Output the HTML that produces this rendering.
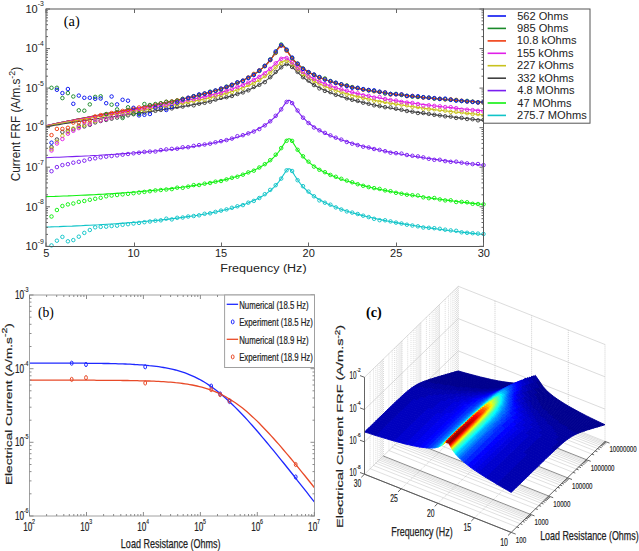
<!DOCTYPE html>
<html><head><meta charset="utf-8"><style>
html,body{margin:0;padding:0;background:#fff;overflow:hidden}
svg{display:block}
</style></head><body>
<svg width="639" height="551" viewBox="0 0 639 551">
<rect width="639" height="551" fill="#fff"/>
<g><polyline points="46 125.9 50.4 124.9 54.8 123.9 59.1 122.9 63.5 122 67.9 121.1 72.2 120.2 76.6 119.4 81 118.5 85.4 117.7 89.8 116.9 94.1 116 98.5 115.2 102.9 114.4 107.2 113.6 111.6 112.8 116 112 120.4 111.2 124.8 110.4 129.1 109.6 133.5 108.8 137.9 108 142.2 107.2 146.6 106.3 151 105.5 155.4 104.6 159.8 103.8 164.1 102.9 168.5 102 172.9 101.1 177.2 100.2 181.6 99.2 186 98.2 190.4 97.2 194.8 96.1 199.1 95 203.5 93.9 207.9 92.7 212.2 91.5 216.6 90.2 221 88.8 225.4 87.4 229.8 85.8 234.1 84.1 238.5 82.3 240.3 81.6 242 80.8 243.8 79.9 245.5 79.1 247.2 78.2 249 77.2 250.8 76.3 252.5 75.2 254.2 74.1 256 73 257.8 71.8 259.5 70.5 261.2 69.1 263 67.6 264.8 66 265.4 65.3 266.1 64.6 266.9 63.9 267.6 63.1 268.2 62.3 268.9 61.5 269.7 60.7 270.4 59.8 271.1 58.9 271.8 57.9 272.5 57 273.1 55.9 273.9 54.9 274.5 53.8 275.2 52.7 275.9 51.6 276.6 50.4 277.3 49.3 278.1 48.2 278.8 47.2 279.4 46.3 280.1 45.5 280.9 45 281.6 44.8 282.2 44.9 282.9 45.2 283.6 45.8 284.4 46.6 285.1 47.6 285.8 48.6 286.4 49.7 287.2 50.8 287.9 51.9 288.6 52.9 289.2 54 290 55 290.6 56 291.4 56.9 292 57.9 292.8 58.7 293.4 59.6 294.1 60.4 294.8 61.2 295.6 61.9 296.2 62.6 296.9 63.3 297.6 64 298.4 64.6 299.1 65.2 299.8 65.8 300.4 66.4 301.1 67 301.9 67.5 302.6 68.1 303.2 68.6 303.9 69.1 304.7 69.6 305.4 70 306.1 70.5 306.7 70.9 307.5 71.4 308.1 71.8 308.5 72 310.3 73 312 73.9 313.8 74.8 315.5 75.6 317.2 76.4 319 77.2 320.8 77.9 322.5 78.6 324.2 79.3 326 79.9 327.8 80.5 329.5 81.1 331.2 81.7 333 82.2 334.8 82.7 336.5 83.2 338.2 83.7 340 84.2 341.7 84.6 343.5 85.1 347.9 86.1 352.2 87.1 356.6 88 361 88.9 365.4 89.7 369.8 90.5 374.1 91.2 378.5 91.9 382.9 92.5 387.2 93.2 391.6 93.7 396 94.3 400.4 94.9 404.8 95.4 409.1 95.9 413.5 96.4 417.9 96.8 422.2 97.3 426.6 97.7 431 98.1 435.4 98.5 439.8 98.9 444.1 99.3 448.5 99.7 452.9 100 457.2 100.4 461.6 100.7 466 101.1 470.4 101.4 474.8 101.7 479.1 102 483.5 102.3" fill="none" stroke="#0a14f0" stroke-width="1.1"/><polyline points="46 125.9 50.4 124.9 54.8 123.9 59.1 122.9 63.5 122 67.9 121.1 72.2 120.2 76.6 119.4 81 118.5 85.4 117.7 89.8 116.9 94.1 116 98.5 115.2 102.9 114.4 107.2 113.6 111.6 112.8 116 112 120.4 111.2 124.8 110.4 129.1 109.6 133.5 108.8 137.9 108 142.2 107.2 146.6 106.3 151 105.5 155.4 104.6 159.8 103.8 164.1 102.9 168.5 102 172.9 101.1 177.2 100.2 181.6 99.2 186 98.2 190.4 97.2 194.8 96.1 199.1 95 203.5 93.9 207.9 92.7 212.2 91.5 216.6 90.2 221 88.8 225.4 87.4 229.8 85.8 234.1 84.1 238.5 82.3 240.3 81.6 242 80.8 243.8 79.9 245.5 79.1 247.2 78.2 249 77.2 250.8 76.3 252.5 75.2 254.2 74.1 256 73 257.8 71.8 259.5 70.5 261.2 69.1 263 67.6 264.8 66 265.4 65.3 266.1 64.6 266.9 63.9 267.6 63.1 268.2 62.3 268.9 61.5 269.7 60.7 270.4 59.8 271.1 58.9 271.8 58 272.5 57 273.1 56 273.9 54.9 274.5 53.8 275.2 52.7 275.9 51.6 276.6 50.4 277.3 49.3 278.1 48.2 278.8 47.2 279.4 46.3 280.1 45.6 280.9 45.1 281.6 44.9 282.2 44.9 282.9 45.3 283.6 45.9 284.4 46.7 285.1 47.6 285.8 48.6 286.4 49.7 287.2 50.8 287.9 51.9 288.6 53 289.2 54 290 55 290.6 56 291.4 57 292 57.9 292.8 58.7 293.4 59.6 294.1 60.4 294.8 61.2 295.6 61.9 296.2 62.6 296.9 63.3 297.6 64 298.4 64.6 299.1 65.3 299.8 65.9 300.4 66.4 301.1 67 301.9 67.5 302.6 68.1 303.2 68.6 303.9 69.1 304.7 69.6 305.4 70 306.1 70.5 306.7 70.9 307.5 71.4 308.1 71.8 308.5 72 310.3 73 312 73.9 313.8 74.8 315.5 75.6 317.2 76.4 319 77.2 320.8 77.9 322.5 78.6 324.2 79.3 326 79.9 327.8 80.5 329.5 81.1 331.2 81.7 333 82.2 334.8 82.7 336.5 83.2 338.2 83.7 340 84.2 341.7 84.6 343.5 85.1 347.9 86.1 352.2 87.1 356.6 88 361 88.9 365.4 89.7 369.8 90.5 374.1 91.2 378.5 91.9 382.9 92.5 387.2 93.2 391.6 93.7 396 94.3 400.4 94.9 404.8 95.4 409.1 95.9 413.5 96.4 417.9 96.8 422.2 97.3 426.6 97.7 431 98.1 435.4 98.5 439.8 98.9 444.1 99.3 448.5 99.7 452.9 100 457.2 100.4 461.6 100.7 466 101.1 470.4 101.4 474.8 101.7 479.1 102 483.5 102.3" fill="none" stroke="#1a8a2a" stroke-width="1.1"/><polyline points="46 125.9 50.4 124.9 54.8 123.9 59.1 122.9 63.5 122 67.9 121.1 72.2 120.2 76.6 119.4 81 118.5 85.4 117.7 89.8 116.9 94.1 116 98.5 115.2 102.9 114.4 107.2 113.6 111.6 112.8 116 112 120.4 111.2 124.8 110.4 129.1 109.6 133.5 108.8 137.9 108 142.2 107.2 146.6 106.3 151 105.5 155.4 104.7 159.8 103.8 164.1 102.9 168.5 102 172.9 101.1 177.2 100.2 181.6 99.2 186 98.2 190.4 97.2 194.8 96.1 199.1 95.1 203.5 93.9 207.9 92.7 212.2 91.5 216.6 90.2 221 88.8 225.4 87.4 229.8 85.8 234.1 84.2 238.5 82.4 240.3 81.6 242 80.8 243.8 80 245.5 79.1 247.2 78.2 249 77.3 250.8 76.3 252.5 75.3 254.2 74.2 256 73.1 257.8 71.8 259.5 70.6 261.2 69.2 263 67.7 264.8 66.1 265.4 65.4 266.1 64.7 266.9 64 267.6 63.3 268.2 62.5 268.9 61.7 269.7 60.9 270.4 60 271.1 59.2 271.8 58.2 272.5 57.3 273.1 56.3 273.9 55.3 274.5 54.3 275.2 53.2 275.9 52.1 276.6 51.1 277.3 50 278.1 49 278.8 48.1 279.4 47.2 280.1 46.6 280.9 46.1 281.6 45.9 282.2 46 282.9 46.3 283.6 46.8 284.4 47.5 285.1 48.4 285.8 49.3 286.4 50.3 287.2 51.3 287.9 52.4 288.6 53.4 289.2 54.4 290 55.4 290.6 56.3 291.4 57.2 292 58.1 292.8 59 293.4 59.8 294.1 60.6 294.8 61.3 295.6 62.1 296.2 62.8 296.9 63.5 297.6 64.1 298.4 64.7 299.1 65.4 299.8 66 300.4 66.5 301.1 67.1 301.9 67.6 302.6 68.1 303.2 68.7 303.9 69.2 304.7 69.6 305.4 70.1 306.1 70.5 306.7 71 307.5 71.4 308.1 71.8 308.5 72 310.3 73 312 74 313.8 74.9 315.5 75.7 317.2 76.5 319 77.2 320.8 78 322.5 78.6 324.2 79.3 326 79.9 327.8 80.5 329.5 81.1 331.2 81.7 333 82.2 334.8 82.8 336.5 83.3 338.2 83.7 340 84.2 341.7 84.7 343.5 85.1 347.9 86.2 352.2 87.1 356.6 88.1 361 88.9 365.4 89.7 369.8 90.5 374.1 91.2 378.5 91.9 382.9 92.6 387.2 93.2 391.6 93.8 396 94.4 400.4 94.9 404.8 95.4 409.1 95.9 413.5 96.4 417.9 96.9 422.2 97.3 426.6 97.8 431 98.2 435.4 98.6 439.8 99 444.1 99.4 448.5 99.7 452.9 100.1 457.2 100.4 461.6 100.8 466 101.1 470.4 101.4 474.8 101.7 479.1 102 483.5 102.3" fill="none" stroke="#f03c10" stroke-width="1.1"/><polyline points="46 125.8 50.4 124.9 54.8 124 59.1 123.1 63.5 122.2 67.9 121.4 72.2 120.6 76.6 119.8 81 119 85.4 118.2 89.8 117.4 94.1 116.7 98.5 115.9 102.9 115.2 107.2 114.5 111.6 113.8 116 113 120.4 112.3 124.8 111.6 129.1 110.9 133.5 110.2 137.9 109.4 142.2 108.7 146.6 108 151 107.2 155.4 106.4 159.8 105.7 164.1 104.9 168.5 104.1 172.9 103.3 177.2 102.5 181.6 101.6 186 100.7 190.4 99.8 194.8 98.9 199.1 97.9 203.5 96.9 207.9 95.9 212.2 94.8 216.6 93.6 221 92.4 225.4 91.1 229.8 89.7 234.1 88.2 238.5 86.6 240.3 86 242 85.3 243.8 84.5 245.5 83.8 247.2 83 249 82.2 250.8 81.3 252.5 80.5 254.2 79.5 256 78.6 257.8 77.6 259.5 76.5 261.2 75.4 263 74.2 264.8 72.9 265.4 72.4 266.1 71.8 266.9 71.3 267.6 70.7 268.2 70.2 268.9 69.6 269.7 69 270.4 68.4 271.1 67.7 271.8 67.1 272.5 66.4 273.1 65.8 273.9 65.1 274.5 64.4 275.2 63.8 275.9 63.1 276.6 62.4 277.3 61.7 278.1 61.1 278.8 60.5 279.4 59.9 280.1 59.3 280.9 58.8 281.6 58.4 282.2 58.1 282.9 57.8 283.6 57.7 284.4 57.7 285.1 57.7 285.8 57.9 286.4 58.1 287.2 58.5 287.9 58.9 288.6 59.4 289.2 60 290 60.6 290.6 61.2 291.4 61.8 292 62.5 292.8 63.1 293.4 63.8 294.1 64.5 294.8 65.1 295.6 65.8 296.2 66.4 296.9 67.1 297.6 67.7 298.4 68.3 299.1 68.9 299.8 69.5 300.4 70 301.1 70.6 301.9 71.1 302.6 71.7 303.2 72.2 303.9 72.7 304.7 73.2 305.4 73.7 306.1 74.2 306.7 74.6 307.5 75.1 308.1 75.5 308.5 75.7 310.3 76.8 312 77.8 313.8 78.7 315.5 79.6 317.2 80.5 319 81.3 320.8 82.1 322.5 82.8 324.2 83.6 326 84.3 327.8 84.9 329.5 85.6 331.2 86.2 333 86.8 334.8 87.4 336.5 87.9 338.2 88.5 340 89 341.7 89.5 343.5 90 347.9 91.2 352.2 92.3 356.6 93.4 361 94.3 365.4 95.3 369.8 96.2 374.1 97 378.5 97.8 382.9 98.6 387.2 99.3 391.6 100 396 100.7 400.4 101.4 404.8 102 409.1 102.6 413.5 103.2 417.9 103.8 422.2 104.4 426.6 104.9 431 105.5 435.4 106 439.8 106.5 444.1 107 448.5 107.4 452.9 107.9 457.2 108.4 461.6 108.8 466 109.2 470.4 109.7 474.8 110.1 479.1 110.5 483.5 110.9" fill="none" stroke="#e020e8" stroke-width="1.1"/><polyline points="46 126.2 50.4 125.3 54.8 124.4 59.1 123.6 63.5 122.7 67.9 121.9 72.2 121.2 76.6 120.4 81 119.7 85.4 118.9 89.8 118.2 94.1 117.5 98.5 116.8 102.9 116.1 107.2 115.5 111.6 114.8 116 114.1 120.4 113.4 124.8 112.8 129.1 112.1 133.5 111.4 137.9 110.8 142.2 110.1 146.6 109.4 151 108.7 155.4 108 159.8 107.3 164.1 106.6 168.5 105.8 172.9 105.1 177.2 104.3 181.6 103.5 186 102.7 190.4 101.8 194.8 101 199.1 100.1 203.5 99.1 207.9 98.1 212.2 97.1 216.6 96 221 94.9 225.4 93.6 229.8 92.3 234.1 90.9 238.5 89.4 240.3 88.8 242 88.1 243.8 87.5 245.5 86.7 247.2 86 249 85.2 250.8 84.4 252.5 83.6 254.2 82.7 256 81.8 257.8 80.9 259.5 79.9 261.2 78.8 263 77.7 264.8 76.5 265.4 76 266.1 75.5 266.9 75 267.6 74.5 268.2 73.9 268.9 73.4 269.7 72.8 270.4 72.2 271.1 71.7 271.8 71.1 272.5 70.4 273.1 69.8 273.9 69.2 274.5 68.5 275.2 67.9 275.9 67.2 276.6 66.6 277.3 65.9 278.1 65.3 278.8 64.6 279.4 64 280.1 63.4 280.9 62.8 281.6 62.3 282.2 61.8 282.9 61.4 283.6 61.1 284.4 60.9 285.1 60.7 285.8 60.7 286.4 60.8 287.2 60.9 287.9 61.2 288.6 61.5 289.2 61.9 290 62.4 290.6 63 291.4 63.5 292 64.2 292.8 64.8 293.4 65.4 294.1 66.1 294.8 66.8 295.6 67.4 296.2 68.1 296.9 68.7 297.6 69.4 298.4 70 299.1 70.6 299.8 71.2 300.4 71.8 301.1 72.4 301.9 73 302.6 73.5 303.2 74.1 303.9 74.6 304.7 75.2 305.4 75.7 306.1 76.2 306.7 76.6 307.5 77.1 308.1 77.6 308.5 77.8 310.3 78.9 312 80 313.8 81 315.5 81.9 317.2 82.8 319 83.7 320.8 84.5 322.5 85.3 324.2 86.1 326 86.8 327.8 87.5 329.5 88.2 331.2 88.8 333 89.5 334.8 90.1 336.5 90.7 338.2 91.2 340 91.8 341.7 92.3 343.5 92.9 347.9 94.1 352.2 95.3 356.6 96.4 361 97.4 365.4 98.4 369.8 99.3 374.1 100.2 378.5 101.1 382.9 101.9 387.2 102.7 391.6 103.4 396 104.1 400.4 104.8 404.8 105.5 409.1 106.2 413.5 106.8 417.9 107.4 422.2 108 426.6 108.6 431 109.1 435.4 109.7 439.8 110.2 444.1 110.7 448.5 111.2 452.9 111.7 457.2 112.2 461.6 112.7 466 113.1 470.4 113.6 474.8 114 479.1 114.5 483.5 114.9" fill="none" stroke="#c8c21e" stroke-width="1.1"/><polyline points="46 127 50.4 126.1 54.8 125.3 59.1 124.6 63.5 123.8 67.9 123.1 72.2 122.4 76.6 121.7 81 121.1 85.4 120.4 89.8 119.8 94.1 119.2 98.5 118.5 102.9 117.9 107.2 117.3 111.6 116.7 116 116.2 120.4 115.6 124.8 115 129.1 114.4 133.5 113.8 137.9 113.2 142.2 112.6 146.6 112 151 111.4 155.4 110.8 159.8 110.1 164.1 109.5 168.5 108.8 172.9 108.1 177.2 107.4 181.6 106.7 186 106 190.4 105.2 194.8 104.4 199.1 103.6 203.5 102.7 207.9 101.8 212.2 100.8 216.6 99.8 221 98.7 225.4 97.6 229.8 96.4 234.1 95.1 238.5 93.6 240.3 93 242 92.4 243.8 91.8 245.5 91.1 247.2 90.4 249 89.7 250.8 88.9 252.5 88.1 254.2 87.3 256 86.4 257.8 85.5 259.5 84.6 261.2 83.6 263 82.5 264.8 81.4 265.4 80.9 266.1 80.4 266.9 79.9 267.6 79.4 268.2 78.9 268.9 78.4 269.7 77.9 270.4 77.3 271.1 76.7 271.8 76.2 272.5 75.6 273.1 74.9 273.9 74.3 274.5 73.7 275.2 73 275.9 72.4 276.6 71.7 277.3 71 278.1 70.4 278.8 69.7 279.4 69 280.1 68.3 280.9 67.7 281.6 67 282.2 66.4 282.9 65.9 283.6 65.4 284.4 65 285.1 64.7 285.8 64.4 286.4 64.3 287.2 64.3 287.9 64.4 288.6 64.6 289.2 64.9 290 65.3 290.6 65.7 291.4 66.3 292 66.8 292.8 67.5 293.4 68.1 294.1 68.8 294.8 69.5 295.6 70.2 296.2 70.9 296.9 71.6 297.6 72.3 298.4 72.9 299.1 73.6 299.8 74.3 300.4 74.9 301.1 75.5 301.9 76.2 302.6 76.8 303.2 77.3 303.9 77.9 304.7 78.5 305.4 79 306.1 79.6 306.7 80.1 307.5 80.6 308.1 81.1 308.5 81.3 310.3 82.5 312 83.7 313.8 84.7 315.5 85.7 317.2 86.7 319 87.6 320.8 88.5 322.5 89.3 324.2 90.1 326 90.9 327.8 91.6 329.5 92.3 331.2 93 333 93.7 334.8 94.3 336.5 94.9 338.2 95.5 340 96.1 341.7 96.7 343.5 97.2 347.9 98.6 352.2 99.8 356.6 100.9 361 102 365.4 103 369.8 104 374.1 105 378.5 105.9 382.9 106.7 387.2 107.5 391.6 108.3 396 109.1 400.4 109.8 404.8 110.5 409.1 111.2 413.5 111.9 417.9 112.5 422.2 113.1 426.6 113.7 431 114.3 435.4 114.9 439.8 115.5 444.1 116 448.5 116.5 452.9 117 457.2 117.6 461.6 118.1 466 118.5 470.4 119 474.8 119.5 479.1 119.9 483.5 120.4" fill="none" stroke="#404040" stroke-width="1.1"/><polyline points="46 157.7 50.4 157.5 54.8 157.3 59.1 157.2 63.5 157 67.9 156.8 72.2 156.6 76.6 156.4 81 156.2 85.4 156 89.8 155.8 94.1 155.5 98.5 155.3 102.9 155 107.2 154.8 111.6 154.5 116 154.2 120.4 153.9 124.8 153.6 129.1 153.3 133.5 153 137.9 152.6 142.2 152.2 146.6 151.9 151 151.5 155.4 151 159.8 150.6 164.1 150.1 168.5 149.7 172.9 149.2 177.2 148.6 181.6 148.1 186 147.5 190.4 146.9 194.8 146.2 199.1 145.5 203.5 144.8 207.9 144 212.2 143.2 216.6 142.3 221 141.4 225.4 140.3 229.8 139.3 234.1 138.1 238.5 136.8 240.3 136.2 242 135.6 243.8 135 245.5 134.4 247.2 133.8 249 133.1 250.8 132.4 252.5 131.7 254.2 130.9 256 130.1 257.8 129.2 259.5 128.3 261.2 127.3 263 126.3 264.8 125.2 265.4 124.7 266.1 124.3 266.9 123.8 267.6 123.3 268.2 122.8 268.9 122.2 269.7 121.7 270.4 121.1 271.1 120.5 271.8 119.9 272.5 119.3 273.1 118.7 273.9 118 274.5 117.3 275.2 116.6 275.9 115.8 276.6 115.1 277.3 114.3 278.1 113.4 278.8 112.6 279.4 111.7 280.1 110.7 280.9 109.8 281.6 108.8 282.2 107.8 282.9 106.7 283.6 105.7 284.4 104.6 285.1 103.6 285.8 102.7 286.4 101.9 287.2 101.2 287.9 100.6 288.6 100.4 289.2 100.3 290 100.6 290.6 101.1 291.4 101.8 292 102.6 292.8 103.6 293.4 104.6 294.1 105.6 294.8 106.7 295.6 107.8 296.2 108.9 296.9 109.9 297.6 110.9 298.4 111.9 299.1 112.8 299.8 113.7 300.4 114.6 301.1 115.4 301.9 116.3 302.6 117 303.2 117.8 303.9 118.5 304.7 119.2 305.4 119.9 306.1 120.6 306.7 121.2 307.5 121.9 308.1 122.5 308.5 122.8 310.3 124.2 312 125.5 313.8 126.7 315.5 127.9 317.2 129 319 130 320.8 131 322.5 131.9 324.2 132.8 326 133.7 327.8 134.5 329.5 135.3 331.2 136 333 136.7 334.8 137.4 336.5 138.1 338.2 138.8 340 139.4 341.7 140 343.5 140.6 347.9 142 352.2 143.3 356.6 144.6 361 145.7 365.4 146.8 369.8 147.9 374.1 148.9 378.5 149.8 382.9 150.7 387.2 151.6 391.6 152.4 396 153.2 400.4 154 404.8 154.8 409.1 155.5 413.5 156.2 417.9 156.9 422.2 157.5 426.6 158.2 431 158.8 435.4 159.4 439.8 160 444.1 160.6 448.5 161.1 452.9 161.7 457.2 162.2 461.6 162.7 466 163.3 470.4 163.8 474.8 164.2 479.1 164.7 483.5 165.2" fill="none" stroke="#7a1ef0" stroke-width="1.1"/><polyline points="46 196.6 50.4 196.5 54.8 196.4 59.1 196.2 63.5 196 67.9 195.9 72.2 195.7 76.6 195.5 81 195.3 85.4 195.1 89.8 194.9 94.1 194.7 98.5 194.4 102.9 194.2 107.2 193.9 111.6 193.7 116 193.4 120.4 193.1 124.8 192.8 129.1 192.5 133.5 192.1 137.9 191.8 142.2 191.4 146.6 191 151 190.6 155.4 190.2 159.8 189.8 164.1 189.3 168.5 188.9 172.9 188.4 177.2 187.8 181.6 187.3 186 186.7 190.4 186.1 194.8 185.4 199.1 184.7 203.5 184 207.9 183.2 212.2 182.4 216.6 181.5 221 180.6 225.4 179.6 229.8 178.5 234.1 177.3 238.5 176 240.3 175.4 242 174.9 243.8 174.3 245.5 173.6 247.2 173 249 172.3 250.8 171.6 252.5 170.9 254.2 170.1 256 169.3 257.8 168.4 259.5 167.5 261.2 166.5 263 165.5 264.8 164.4 265.4 163.9 266.1 163.5 266.9 163 267.6 162.5 268.2 162 268.9 161.4 269.7 160.9 270.4 160.3 271.1 159.7 271.8 159.1 272.5 158.5 273.1 157.8 273.9 157.2 274.5 156.5 275.2 155.7 275.9 155 276.6 154.2 277.3 153.4 278.1 152.5 278.8 151.6 279.4 150.7 280.1 149.8 280.9 148.8 281.6 147.7 282.2 146.7 282.9 145.6 283.6 144.5 284.4 143.4 285.1 142.3 285.8 141.3 286.4 140.4 287.2 139.6 287.9 139.1 288.6 138.7 289.2 138.7 290 139 290.6 139.5 291.4 140.2 292 141.2 292.8 142.2 293.4 143.3 294.1 144.4 294.8 145.5 295.6 146.7 296.2 147.8 296.9 148.8 297.6 149.9 298.4 150.9 299.1 151.9 299.8 152.8 300.4 153.7 301.1 154.5 301.9 155.4 302.6 156.2 303.2 156.9 303.9 157.7 304.7 158.4 305.4 159.1 306.1 159.8 306.7 160.4 307.5 161 308.1 161.6 308.5 161.9 310.3 163.4 312 164.7 313.8 165.9 315.5 167.1 317.2 168.2 319 169.2 320.8 170.2 322.5 171.2 324.2 172.1 326 172.9 327.8 173.7 329.5 174.5 331.2 175.3 333 176 334.8 176.7 336.5 177.4 338.2 178 340 178.7 341.7 179.3 343.5 179.9 347.9 181.3 352.2 182.6 356.6 183.8 361 185 365.4 186.1 369.8 187.2 374.1 188.2 378.5 189.1 382.9 190 387.2 190.9 391.6 191.7 396 192.5 400.4 193.3 404.8 194.1 409.1 194.8 413.5 195.5 417.9 196.2 422.2 196.8 426.6 197.5 431 198.1 435.4 198.7 439.8 199.3 444.1 199.9 448.5 200.4 452.9 201 457.2 201.5 461.6 202.1 466 202.6 470.4 203.1 474.8 203.6 479.1 204 483.5 204.5" fill="none" stroke="#10f010" stroke-width="1.1"/><polyline points="46 227 50.4 226.9 54.8 226.7 59.1 226.6 63.5 226.4 67.9 226.2 72.2 226.1 76.6 225.9 81 225.7 85.4 225.4 89.8 225.2 94.1 225 98.5 224.8 102.9 224.5 107.2 224.3 111.6 224 116 223.7 120.4 223.4 124.8 223.1 129.1 222.8 133.5 222.4 137.9 222.1 142.2 221.7 146.6 221.3 151 220.9 155.4 220.5 159.8 220.1 164.1 219.6 168.5 219.1 172.9 218.6 177.2 218.1 181.6 217.5 186 216.9 190.4 216.3 194.8 215.7 199.1 215 203.5 214.2 207.9 213.5 212.2 212.6 216.6 211.8 221 210.8 225.4 209.8 229.8 208.7 234.1 207.5 238.5 206.2 240.3 205.6 242 205.1 243.8 204.5 245.5 203.9 247.2 203.2 249 202.5 250.8 201.8 252.5 201.1 254.2 200.3 256 199.5 257.8 198.6 259.5 197.7 261.2 196.7 263 195.7 264.8 194.6 265.4 194.1 266.1 193.6 266.9 193.2 267.6 192.6 268.2 192.1 268.9 191.6 269.7 191 270.4 190.5 271.1 189.9 271.8 189.3 272.5 188.7 273.1 188 273.9 187.3 274.5 186.6 275.2 185.9 275.9 185.1 276.6 184.3 277.3 183.5 278.1 182.7 278.8 181.8 279.4 180.9 280.1 179.9 280.9 178.9 281.6 177.9 282.2 176.8 282.9 175.7 283.6 174.6 284.4 173.5 285.1 172.4 285.8 171.4 286.4 170.5 287.2 169.7 287.9 169.1 288.6 168.8 289.2 168.8 290 169.1 290.6 169.6 291.4 170.3 292 171.3 292.8 172.3 293.4 173.4 294.1 174.5 294.8 175.7 295.6 176.8 296.2 177.9 296.9 179 297.6 180 298.4 181 299.1 182 299.8 182.9 300.4 183.8 301.1 184.7 301.9 185.5 302.6 186.3 303.2 187.1 303.9 187.8 304.7 188.5 305.4 189.2 306.1 189.9 306.7 190.5 307.5 191.2 308.1 191.8 308.5 192.1 310.3 193.5 312 194.8 313.8 196.1 315.5 197.2 317.2 198.3 319 199.4 320.8 200.4 322.5 201.3 324.2 202.2 326 203 327.8 203.9 329.5 204.6 331.2 205.4 333 206.1 334.8 206.8 336.5 207.5 338.2 208.1 340 208.8 341.7 209.4 343.5 210 347.9 211.4 352.2 212.7 356.6 213.9 361 215.1 365.4 216.2 369.8 217.2 374.1 218.2 378.5 219.2 382.9 220.1 387.2 221 391.6 221.8 396 222.6 400.4 223.4 404.8 224.1 409.1 224.8 413.5 225.5 417.9 226.2 422.2 226.9 426.6 227.5 431 228.1 435.4 228.7 439.8 229.3 444.1 229.9 448.5 230.5 452.9 231 457.2 231.5 461.6 232.1 466 232.6 470.4 233.1 474.8 233.6 479.1 234 483.5 234.5" fill="none" stroke="#10c4c8" stroke-width="1.1"/><g fill="none" stroke="#10c4c8" stroke-width="0.95"><circle cx="51.5" cy="245.4" r="1.75"/><circle cx="56.9" cy="240.7" r="1.75"/><circle cx="62.4" cy="236.9" r="1.75"/><circle cx="67.9" cy="241.3" r="1.75"/><circle cx="73.3" cy="240.1" r="1.75"/><circle cx="78.8" cy="236.7" r="1.75"/><circle cx="84.3" cy="232.9" r="1.75"/><circle cx="89.8" cy="230" r="1.75"/><circle cx="95.2" cy="227.3" r="1.75"/><circle cx="100.7" cy="226.9" r="1.75"/><circle cx="106.2" cy="226.7" r="1.75"/><circle cx="111.6" cy="226" r="1.75"/><circle cx="117.1" cy="225.7" r="1.75"/><circle cx="122.6" cy="224.8" r="1.75"/><circle cx="128" cy="224.2" r="1.75"/><circle cx="133.5" cy="223.5" r="1.75"/><circle cx="139" cy="222.9" r="1.75"/><circle cx="144.4" cy="222.2" r="1.75"/><circle cx="149.9" cy="221.5" r="1.75"/><circle cx="155.4" cy="220.7" r="1.75"/><circle cx="160.8" cy="220.3" r="1.75"/><circle cx="166.3" cy="218.7" r="1.75"/><circle cx="171.8" cy="219.4" r="1.75"/><circle cx="177.2" cy="217.8" r="1.75"/><circle cx="182.7" cy="217.5" r="1.75"/><circle cx="188.2" cy="216.5" r="1.75"/><circle cx="193.7" cy="216" r="1.75"/><circle cx="199.1" cy="215.3" r="1.75"/><circle cx="204.6" cy="213.8" r="1.75"/><circle cx="210.1" cy="213.3" r="1.75"/><circle cx="215.5" cy="211.9" r="1.75"/><circle cx="221" cy="210.6" r="1.75"/><circle cx="226.5" cy="209.4" r="1.75"/><circle cx="231.9" cy="207.8" r="1.75"/><circle cx="237.4" cy="206.3" r="1.75"/><circle cx="242.9" cy="205.1" r="1.75"/><circle cx="248.3" cy="202.7" r="1.75"/><circle cx="253.8" cy="200.9" r="1.75"/><circle cx="259.3" cy="198" r="1.75"/><circle cx="264.8" cy="194.2" r="1.75"/><circle cx="270.2" cy="189.9" r="1.75"/><circle cx="275.7" cy="185.2" r="1.75"/><circle cx="281.2" cy="178.6" r="1.75"/><circle cx="286.6" cy="170.3" r="1.75"/><circle cx="292.1" cy="171" r="1.75"/><circle cx="297.6" cy="180.2" r="1.75"/><circle cx="303" cy="186.2" r="1.75"/><circle cx="308.5" cy="191.6" r="1.75"/><circle cx="314" cy="196.3" r="1.75"/><circle cx="319.4" cy="200.4" r="1.75"/><circle cx="324.9" cy="202.7" r="1.75"/><circle cx="330.4" cy="204.7" r="1.75"/><circle cx="335.8" cy="207.4" r="1.75"/><circle cx="341.3" cy="209.5" r="1.75"/><circle cx="346.8" cy="211.4" r="1.75"/><circle cx="352.2" cy="212.6" r="1.75"/><circle cx="357.7" cy="214" r="1.75"/><circle cx="363.2" cy="215.7" r="1.75"/><circle cx="368.7" cy="217.1" r="1.75"/><circle cx="374.1" cy="218.8" r="1.75"/><circle cx="379.6" cy="220.2" r="1.75"/><circle cx="385.1" cy="220.3" r="1.75"/><circle cx="390.5" cy="221.4" r="1.75"/><circle cx="396" cy="222.6" r="1.75"/><circle cx="401.5" cy="223.5" r="1.75"/><circle cx="406.9" cy="224.7" r="1.75"/><circle cx="412.4" cy="225.5" r="1.75"/><circle cx="417.9" cy="226.3" r="1.75"/><circle cx="423.3" cy="227.5" r="1.75"/><circle cx="428.8" cy="227.8" r="1.75"/><circle cx="434.3" cy="228.2" r="1.75"/><circle cx="439.8" cy="228.8" r="1.75"/><circle cx="445.2" cy="229.7" r="1.75"/><circle cx="450.7" cy="230.4" r="1.75"/><circle cx="456.2" cy="230.8" r="1.75"/><circle cx="461.6" cy="232.3" r="1.75"/><circle cx="467.1" cy="232.8" r="1.75"/><circle cx="472.6" cy="233.2" r="1.75"/><circle cx="478" cy="233.6" r="1.75"/><circle cx="483.5" cy="234" r="1.75"/></g><g fill="none" stroke="#10f010" stroke-width="0.95"><circle cx="51.5" cy="216.5" r="1.75"/><circle cx="56.9" cy="210" r="1.75"/><circle cx="62.4" cy="206" r="1.75"/><circle cx="67.9" cy="204.4" r="1.75"/><circle cx="73.3" cy="203.5" r="1.75"/><circle cx="78.8" cy="201.9" r="1.75"/><circle cx="84.3" cy="201" r="1.75"/><circle cx="89.8" cy="199.8" r="1.75"/><circle cx="95.2" cy="198.8" r="1.75"/><circle cx="100.7" cy="197.8" r="1.75"/><circle cx="106.2" cy="196.3" r="1.75"/><circle cx="111.6" cy="195.6" r="1.75"/><circle cx="117.1" cy="195" r="1.75"/><circle cx="122.6" cy="194.4" r="1.75"/><circle cx="128" cy="193.8" r="1.75"/><circle cx="133.5" cy="193.2" r="1.75"/><circle cx="139" cy="192.5" r="1.75"/><circle cx="144.4" cy="191.9" r="1.75"/><circle cx="149.9" cy="191.2" r="1.75"/><circle cx="155.4" cy="190.4" r="1.75"/><circle cx="160.8" cy="190" r="1.75"/><circle cx="166.3" cy="189.5" r="1.75"/><circle cx="171.8" cy="189.1" r="1.75"/><circle cx="177.2" cy="187.7" r="1.75"/><circle cx="182.7" cy="187.8" r="1.75"/><circle cx="188.2" cy="186.6" r="1.75"/><circle cx="193.7" cy="185.1" r="1.75"/><circle cx="199.1" cy="185" r="1.75"/><circle cx="204.6" cy="183.7" r="1.75"/><circle cx="210.1" cy="183" r="1.75"/><circle cx="215.5" cy="181.7" r="1.75"/><circle cx="221" cy="181" r="1.75"/><circle cx="226.5" cy="179.4" r="1.75"/><circle cx="231.9" cy="177.8" r="1.75"/><circle cx="237.4" cy="176.7" r="1.75"/><circle cx="242.9" cy="174.7" r="1.75"/><circle cx="248.3" cy="172.4" r="1.75"/><circle cx="253.8" cy="170.7" r="1.75"/><circle cx="259.3" cy="167.5" r="1.75"/><circle cx="264.8" cy="164.2" r="1.75"/><circle cx="270.2" cy="160.2" r="1.75"/><circle cx="275.7" cy="154.7" r="1.75"/><circle cx="281.2" cy="148.1" r="1.75"/><circle cx="286.6" cy="140.8" r="1.75"/><circle cx="292.1" cy="140.9" r="1.75"/><circle cx="297.6" cy="149.8" r="1.75"/><circle cx="303" cy="156.3" r="1.75"/><circle cx="308.5" cy="161.7" r="1.75"/><circle cx="314" cy="166.6" r="1.75"/><circle cx="319.4" cy="169.8" r="1.75"/><circle cx="324.9" cy="172.2" r="1.75"/><circle cx="330.4" cy="174.9" r="1.75"/><circle cx="335.8" cy="176.8" r="1.75"/><circle cx="341.3" cy="178.8" r="1.75"/><circle cx="346.8" cy="180.6" r="1.75"/><circle cx="352.2" cy="182.3" r="1.75"/><circle cx="357.7" cy="184.2" r="1.75"/><circle cx="363.2" cy="185.8" r="1.75"/><circle cx="368.7" cy="187.1" r="1.75"/><circle cx="374.1" cy="188.1" r="1.75"/><circle cx="379.6" cy="188.9" r="1.75"/><circle cx="385.1" cy="190.4" r="1.75"/><circle cx="390.5" cy="191.2" r="1.75"/><circle cx="396" cy="192.8" r="1.75"/><circle cx="401.5" cy="193.7" r="1.75"/><circle cx="406.9" cy="194.7" r="1.75"/><circle cx="412.4" cy="195.2" r="1.75"/><circle cx="417.9" cy="195.5" r="1.75"/><circle cx="423.3" cy="197.3" r="1.75"/><circle cx="428.8" cy="198.2" r="1.75"/><circle cx="434.3" cy="198" r="1.75"/><circle cx="439.8" cy="199.4" r="1.75"/><circle cx="445.2" cy="200.4" r="1.75"/><circle cx="450.7" cy="200.3" r="1.75"/><circle cx="456.2" cy="202" r="1.75"/><circle cx="461.6" cy="201.9" r="1.75"/><circle cx="467.1" cy="202.3" r="1.75"/><circle cx="472.6" cy="203.8" r="1.75"/><circle cx="478" cy="204" r="1.75"/><circle cx="483.5" cy="204.3" r="1.75"/></g><g fill="none" stroke="#7a1ef0" stroke-width="0.95"><circle cx="51.5" cy="171.2" r="1.75"/><circle cx="56.9" cy="167.1" r="1.75"/><circle cx="62.4" cy="165.1" r="1.75"/><circle cx="67.9" cy="164.2" r="1.75"/><circle cx="73.3" cy="162.7" r="1.75"/><circle cx="78.8" cy="161.8" r="1.75"/><circle cx="84.3" cy="160.7" r="1.75"/><circle cx="89.8" cy="159.1" r="1.75"/><circle cx="95.2" cy="158.3" r="1.75"/><circle cx="100.7" cy="157.3" r="1.75"/><circle cx="106.2" cy="156.7" r="1.75"/><circle cx="111.6" cy="156" r="1.75"/><circle cx="117.1" cy="155.4" r="1.75"/><circle cx="122.6" cy="154.7" r="1.75"/><circle cx="128" cy="154" r="1.75"/><circle cx="133.5" cy="153.3" r="1.75"/><circle cx="139" cy="152.7" r="1.75"/><circle cx="144.4" cy="151.9" r="1.75"/><circle cx="149.9" cy="151.6" r="1.75"/><circle cx="155.4" cy="151.5" r="1.75"/><circle cx="160.8" cy="150.1" r="1.75"/><circle cx="166.3" cy="149.4" r="1.75"/><circle cx="171.8" cy="148.9" r="1.75"/><circle cx="177.2" cy="148.7" r="1.75"/><circle cx="182.7" cy="147.3" r="1.75"/><circle cx="188.2" cy="147.2" r="1.75"/><circle cx="193.7" cy="145.9" r="1.75"/><circle cx="199.1" cy="145.1" r="1.75"/><circle cx="204.6" cy="144.5" r="1.75"/><circle cx="210.1" cy="143.7" r="1.75"/><circle cx="215.5" cy="142.3" r="1.75"/><circle cx="221" cy="141.2" r="1.75"/><circle cx="226.5" cy="140.1" r="1.75"/><circle cx="231.9" cy="138.6" r="1.75"/><circle cx="237.4" cy="136.2" r="1.75"/><circle cx="242.9" cy="135.2" r="1.75"/><circle cx="248.3" cy="133.4" r="1.75"/><circle cx="253.8" cy="131.5" r="1.75"/><circle cx="259.3" cy="129.1" r="1.75"/><circle cx="264.8" cy="125.4" r="1.75"/><circle cx="270.2" cy="121.3" r="1.75"/><circle cx="275.7" cy="115.8" r="1.75"/><circle cx="281.2" cy="109.4" r="1.75"/><circle cx="286.6" cy="101.9" r="1.75"/><circle cx="292.1" cy="103.1" r="1.75"/><circle cx="297.6" cy="110.5" r="1.75"/><circle cx="303" cy="117.7" r="1.75"/><circle cx="308.5" cy="123" r="1.75"/><circle cx="314" cy="127.5" r="1.75"/><circle cx="319.4" cy="130.3" r="1.75"/><circle cx="324.9" cy="132.9" r="1.75"/><circle cx="330.4" cy="135.4" r="1.75"/><circle cx="335.8" cy="137.7" r="1.75"/><circle cx="341.3" cy="139.6" r="1.75"/><circle cx="346.8" cy="142" r="1.75"/><circle cx="352.2" cy="143.7" r="1.75"/><circle cx="357.7" cy="145.1" r="1.75"/><circle cx="363.2" cy="146.7" r="1.75"/><circle cx="368.7" cy="147.5" r="1.75"/><circle cx="374.1" cy="149" r="1.75"/><circle cx="379.6" cy="149.9" r="1.75"/><circle cx="385.1" cy="151.2" r="1.75"/><circle cx="390.5" cy="152.7" r="1.75"/><circle cx="396" cy="153.2" r="1.75"/><circle cx="401.5" cy="153.6" r="1.75"/><circle cx="406.9" cy="155" r="1.75"/><circle cx="412.4" cy="155.8" r="1.75"/><circle cx="417.9" cy="156.4" r="1.75"/><circle cx="423.3" cy="157.4" r="1.75"/><circle cx="428.8" cy="158.8" r="1.75"/><circle cx="434.3" cy="159.8" r="1.75"/><circle cx="439.8" cy="159.8" r="1.75"/><circle cx="445.2" cy="161.1" r="1.75"/><circle cx="450.7" cy="161.8" r="1.75"/><circle cx="456.2" cy="161.7" r="1.75"/><circle cx="461.6" cy="162.7" r="1.75"/><circle cx="467.1" cy="163.4" r="1.75"/><circle cx="472.6" cy="164.1" r="1.75"/><circle cx="478" cy="164" r="1.75"/><circle cx="483.5" cy="165.1" r="1.75"/></g><g fill="none" stroke="#404040" stroke-width="0.95"><circle cx="51.5" cy="147.1" r="1.75"/><circle cx="56.9" cy="139.5" r="1.75"/><circle cx="62.4" cy="131.9" r="1.75"/><circle cx="67.9" cy="130.8" r="1.75"/><circle cx="73.3" cy="129.2" r="1.75"/><circle cx="78.8" cy="125.9" r="1.75"/><circle cx="84.3" cy="126.4" r="1.75"/><circle cx="89.8" cy="124.8" r="1.75"/><circle cx="95.2" cy="122.4" r="1.75"/><circle cx="100.7" cy="121" r="1.75"/><circle cx="106.2" cy="119.9" r="1.75"/><circle cx="111.6" cy="118.7" r="1.75"/><circle cx="117.1" cy="117.6" r="1.75"/><circle cx="122.6" cy="116.5" r="1.75"/><circle cx="128" cy="115.3" r="1.75"/><circle cx="133.5" cy="114.2" r="1.75"/><circle cx="139" cy="113.1" r="1.75"/><circle cx="144.4" cy="112.5" r="1.75"/><circle cx="149.9" cy="111.2" r="1.75"/><circle cx="155.4" cy="110.8" r="1.75"/><circle cx="160.8" cy="109.9" r="1.75"/><circle cx="166.3" cy="108.4" r="1.75"/><circle cx="171.8" cy="108.4" r="1.75"/><circle cx="177.2" cy="106.8" r="1.75"/><circle cx="182.7" cy="106.5" r="1.75"/><circle cx="188.2" cy="105.1" r="1.75"/><circle cx="193.7" cy="105.3" r="1.75"/><circle cx="199.1" cy="103.7" r="1.75"/><circle cx="204.6" cy="102.8" r="1.75"/><circle cx="210.1" cy="101.6" r="1.75"/><circle cx="215.5" cy="99.6" r="1.75"/><circle cx="221" cy="97.9" r="1.75"/><circle cx="226.5" cy="97.2" r="1.75"/><circle cx="231.9" cy="96" r="1.75"/><circle cx="237.4" cy="94" r="1.75"/><circle cx="242.9" cy="92.4" r="1.75"/><circle cx="248.3" cy="90.3" r="1.75"/><circle cx="253.8" cy="87" r="1.75"/><circle cx="259.3" cy="84.8" r="1.75"/><circle cx="264.8" cy="82.1" r="1.75"/><circle cx="270.2" cy="77.2" r="1.75"/><circle cx="275.7" cy="71.9" r="1.75"/><circle cx="281.2" cy="67.3" r="1.75"/><circle cx="286.6" cy="64.1" r="1.75"/><circle cx="292.1" cy="67" r="1.75"/><circle cx="297.6" cy="71.9" r="1.75"/><circle cx="303" cy="77.2" r="1.75"/><circle cx="308.5" cy="80.6" r="1.75"/><circle cx="314" cy="85.1" r="1.75"/><circle cx="319.4" cy="88.4" r="1.75"/><circle cx="324.9" cy="90.9" r="1.75"/><circle cx="330.4" cy="92.2" r="1.75"/><circle cx="335.8" cy="94.8" r="1.75"/><circle cx="341.3" cy="95.5" r="1.75"/><circle cx="346.8" cy="98.3" r="1.75"/><circle cx="352.2" cy="99.8" r="1.75"/><circle cx="357.7" cy="100.9" r="1.75"/><circle cx="363.2" cy="102.7" r="1.75"/><circle cx="368.7" cy="103.8" r="1.75"/><circle cx="374.1" cy="105.3" r="1.75"/><circle cx="379.6" cy="106.1" r="1.75"/><circle cx="385.1" cy="107.2" r="1.75"/><circle cx="390.5" cy="107.4" r="1.75"/><circle cx="396" cy="108.7" r="1.75"/><circle cx="401.5" cy="109.8" r="1.75"/><circle cx="406.9" cy="111" r="1.75"/><circle cx="412.4" cy="111.7" r="1.75"/><circle cx="417.9" cy="113" r="1.75"/><circle cx="423.3" cy="113" r="1.75"/><circle cx="428.8" cy="113.9" r="1.75"/><circle cx="434.3" cy="114.8" r="1.75"/><circle cx="439.8" cy="115.4" r="1.75"/><circle cx="445.2" cy="116.3" r="1.75"/><circle cx="450.7" cy="116.6" r="1.75"/><circle cx="456.2" cy="117.9" r="1.75"/><circle cx="461.6" cy="117.9" r="1.75"/><circle cx="467.1" cy="119" r="1.75"/><circle cx="472.6" cy="119.2" r="1.75"/><circle cx="478" cy="120.3" r="1.75"/><circle cx="483.5" cy="119.9" r="1.75"/></g><g fill="none" stroke="#c8c21e" stroke-width="0.95"><circle cx="51.5" cy="149" r="1.75"/><circle cx="56.9" cy="141.7" r="1.75"/><circle cx="62.4" cy="135.9" r="1.75"/><circle cx="67.9" cy="132" r="1.75"/><circle cx="73.3" cy="128.5" r="1.75"/><circle cx="78.8" cy="127" r="1.75"/><circle cx="84.3" cy="125" r="1.75"/><circle cx="89.8" cy="122.6" r="1.75"/><circle cx="95.2" cy="121" r="1.75"/><circle cx="100.7" cy="120" r="1.75"/><circle cx="106.2" cy="118.6" r="1.75"/><circle cx="111.6" cy="117.3" r="1.75"/><circle cx="117.1" cy="116" r="1.75"/><circle cx="122.6" cy="114.6" r="1.75"/><circle cx="128" cy="113.3" r="1.75"/><circle cx="133.5" cy="111.9" r="1.75"/><circle cx="139" cy="110.8" r="1.75"/><circle cx="144.4" cy="110.5" r="1.75"/><circle cx="149.9" cy="109.3" r="1.75"/><circle cx="155.4" cy="108.1" r="1.75"/><circle cx="160.8" cy="107.7" r="1.75"/><circle cx="166.3" cy="105.4" r="1.75"/><circle cx="171.8" cy="105.1" r="1.75"/><circle cx="177.2" cy="104.4" r="1.75"/><circle cx="182.7" cy="103" r="1.75"/><circle cx="188.2" cy="102.2" r="1.75"/><circle cx="193.7" cy="101" r="1.75"/><circle cx="199.1" cy="99.8" r="1.75"/><circle cx="204.6" cy="99.8" r="1.75"/><circle cx="210.1" cy="97.8" r="1.75"/><circle cx="215.5" cy="96.3" r="1.75"/><circle cx="221" cy="95.3" r="1.75"/><circle cx="226.5" cy="93.2" r="1.75"/><circle cx="231.9" cy="92" r="1.75"/><circle cx="237.4" cy="89.9" r="1.75"/><circle cx="242.9" cy="88.4" r="1.75"/><circle cx="248.3" cy="85" r="1.75"/><circle cx="253.8" cy="83.2" r="1.75"/><circle cx="259.3" cy="80" r="1.75"/><circle cx="264.8" cy="76.1" r="1.75"/><circle cx="270.2" cy="72.7" r="1.75"/><circle cx="275.7" cy="67.2" r="1.75"/><circle cx="281.2" cy="63.1" r="1.75"/><circle cx="286.6" cy="61" r="1.75"/><circle cx="292.1" cy="64.4" r="1.75"/><circle cx="297.6" cy="69.3" r="1.75"/><circle cx="303" cy="74.2" r="1.75"/><circle cx="308.5" cy="77.2" r="1.75"/><circle cx="314" cy="81.1" r="1.75"/><circle cx="319.4" cy="83.7" r="1.75"/><circle cx="324.9" cy="86.5" r="1.75"/><circle cx="330.4" cy="88.5" r="1.75"/><circle cx="335.8" cy="90.7" r="1.75"/><circle cx="341.3" cy="91.9" r="1.75"/><circle cx="346.8" cy="94.4" r="1.75"/><circle cx="352.2" cy="96.1" r="1.75"/><circle cx="357.7" cy="96.6" r="1.75"/><circle cx="363.2" cy="97.9" r="1.75"/><circle cx="368.7" cy="99.2" r="1.75"/><circle cx="374.1" cy="100.7" r="1.75"/><circle cx="379.6" cy="101.9" r="1.75"/><circle cx="385.1" cy="101.9" r="1.75"/><circle cx="390.5" cy="103" r="1.75"/><circle cx="396" cy="103.8" r="1.75"/><circle cx="401.5" cy="104.6" r="1.75"/><circle cx="406.9" cy="105.3" r="1.75"/><circle cx="412.4" cy="106.8" r="1.75"/><circle cx="417.9" cy="107" r="1.75"/><circle cx="423.3" cy="108.7" r="1.75"/><circle cx="428.8" cy="109.2" r="1.75"/><circle cx="434.3" cy="109.2" r="1.75"/><circle cx="439.8" cy="109.8" r="1.75"/><circle cx="445.2" cy="110.6" r="1.75"/><circle cx="450.7" cy="112" r="1.75"/><circle cx="456.2" cy="111.8" r="1.75"/><circle cx="461.6" cy="112.2" r="1.75"/><circle cx="467.1" cy="113.2" r="1.75"/><circle cx="472.6" cy="114" r="1.75"/><circle cx="478" cy="114.1" r="1.75"/><circle cx="483.5" cy="115.5" r="1.75"/></g><g fill="none" stroke="#e020e8" stroke-width="0.95"><circle cx="51.5" cy="150.5" r="1.75"/><circle cx="56.9" cy="143.5" r="1.75"/><circle cx="62.4" cy="139" r="1.75"/><circle cx="67.9" cy="133.7" r="1.75"/><circle cx="73.3" cy="130.8" r="1.75"/><circle cx="78.8" cy="128.1" r="1.75"/><circle cx="84.3" cy="122.4" r="1.75"/><circle cx="89.8" cy="124" r="1.75"/><circle cx="95.2" cy="120" r="1.75"/><circle cx="100.7" cy="120.5" r="1.75"/><circle cx="106.2" cy="118.9" r="1.75"/><circle cx="111.6" cy="117.3" r="1.75"/><circle cx="117.1" cy="115.7" r="1.75"/><circle cx="122.6" cy="114.1" r="1.75"/><circle cx="128" cy="112.5" r="1.75"/><circle cx="133.5" cy="110.9" r="1.75"/><circle cx="139" cy="109.1" r="1.75"/><circle cx="144.4" cy="108.3" r="1.75"/><circle cx="149.9" cy="106.7" r="1.75"/><circle cx="155.4" cy="106.1" r="1.75"/><circle cx="160.8" cy="105.1" r="1.75"/><circle cx="166.3" cy="104.6" r="1.75"/><circle cx="171.8" cy="103.7" r="1.75"/><circle cx="177.2" cy="102.3" r="1.75"/><circle cx="182.7" cy="101.2" r="1.75"/><circle cx="188.2" cy="99.7" r="1.75"/><circle cx="193.7" cy="99.1" r="1.75"/><circle cx="199.1" cy="98" r="1.75"/><circle cx="204.6" cy="96.8" r="1.75"/><circle cx="210.1" cy="95" r="1.75"/><circle cx="215.5" cy="94.6" r="1.75"/><circle cx="221" cy="92.8" r="1.75"/><circle cx="226.5" cy="90.7" r="1.75"/><circle cx="231.9" cy="88.8" r="1.75"/><circle cx="237.4" cy="86.9" r="1.75"/><circle cx="242.9" cy="85" r="1.75"/><circle cx="248.3" cy="82.5" r="1.75"/><circle cx="253.8" cy="79.9" r="1.75"/><circle cx="259.3" cy="76.9" r="1.75"/><circle cx="264.8" cy="73.4" r="1.75"/><circle cx="270.2" cy="68.9" r="1.75"/><circle cx="275.7" cy="63.3" r="1.75"/><circle cx="281.2" cy="58.8" r="1.75"/><circle cx="286.6" cy="58.1" r="1.75"/><circle cx="292.1" cy="62.3" r="1.75"/><circle cx="297.6" cy="68.3" r="1.75"/><circle cx="303" cy="71.9" r="1.75"/><circle cx="308.5" cy="76.4" r="1.75"/><circle cx="314" cy="78.7" r="1.75"/><circle cx="319.4" cy="81.6" r="1.75"/><circle cx="324.9" cy="84.2" r="1.75"/><circle cx="330.4" cy="85.9" r="1.75"/><circle cx="335.8" cy="87.9" r="1.75"/><circle cx="341.3" cy="89.3" r="1.75"/><circle cx="346.8" cy="90.7" r="1.75"/><circle cx="352.2" cy="92.2" r="1.75"/><circle cx="357.7" cy="93.4" r="1.75"/><circle cx="363.2" cy="95.4" r="1.75"/><circle cx="368.7" cy="95.9" r="1.75"/><circle cx="374.1" cy="97.6" r="1.75"/><circle cx="379.6" cy="97.1" r="1.75"/><circle cx="385.1" cy="99" r="1.75"/><circle cx="390.5" cy="100.1" r="1.75"/><circle cx="396" cy="100.6" r="1.75"/><circle cx="401.5" cy="101.9" r="1.75"/><circle cx="406.9" cy="102.6" r="1.75"/><circle cx="412.4" cy="103" r="1.75"/><circle cx="417.9" cy="104" r="1.75"/><circle cx="423.3" cy="105.5" r="1.75"/><circle cx="428.8" cy="105.3" r="1.75"/><circle cx="434.3" cy="105.9" r="1.75"/><circle cx="439.8" cy="106.3" r="1.75"/><circle cx="445.2" cy="107.1" r="1.75"/><circle cx="450.7" cy="107.2" r="1.75"/><circle cx="456.2" cy="108.2" r="1.75"/><circle cx="461.6" cy="109.7" r="1.75"/><circle cx="467.1" cy="109.7" r="1.75"/><circle cx="472.6" cy="110.1" r="1.75"/><circle cx="478" cy="110.8" r="1.75"/><circle cx="483.5" cy="111.6" r="1.75"/></g><g fill="none" stroke="#f03c10" stroke-width="0.95"><circle cx="51.5" cy="135.1" r="1.75"/><circle cx="56.9" cy="128.9" r="1.75"/><circle cx="62.4" cy="128.9" r="1.75"/><circle cx="67.9" cy="127.8" r="1.75"/><circle cx="73.3" cy="122.6" r="1.75"/><circle cx="78.8" cy="122.4" r="1.75"/><circle cx="84.3" cy="121" r="1.75"/><circle cx="89.8" cy="120.2" r="1.75"/><circle cx="95.2" cy="116.4" r="1.75"/><circle cx="100.7" cy="115.1" r="1.75"/><circle cx="106.2" cy="114.1" r="1.75"/><circle cx="111.6" cy="113" r="1.75"/><circle cx="117.1" cy="112" r="1.75"/><circle cx="122.6" cy="110.9" r="1.75"/><circle cx="128" cy="109.9" r="1.75"/><circle cx="133.5" cy="108.8" r="1.75"/><circle cx="139" cy="107.5" r="1.75"/><circle cx="144.4" cy="107.2" r="1.75"/><circle cx="149.9" cy="105.5" r="1.75"/><circle cx="155.4" cy="104.8" r="1.75"/><circle cx="160.8" cy="103.3" r="1.75"/><circle cx="166.3" cy="101.9" r="1.75"/><circle cx="171.8" cy="101.4" r="1.75"/><circle cx="177.2" cy="100.3" r="1.75"/><circle cx="182.7" cy="98.9" r="1.75"/><circle cx="188.2" cy="97.8" r="1.75"/><circle cx="193.7" cy="96.2" r="1.75"/><circle cx="199.1" cy="94.8" r="1.75"/><circle cx="204.6" cy="93.6" r="1.75"/><circle cx="210.1" cy="92.8" r="1.75"/><circle cx="215.5" cy="90.8" r="1.75"/><circle cx="221" cy="88.7" r="1.75"/><circle cx="226.5" cy="87.2" r="1.75"/><circle cx="231.9" cy="84.8" r="1.75"/><circle cx="237.4" cy="82.7" r="1.75"/><circle cx="242.9" cy="80.7" r="1.75"/><circle cx="248.3" cy="77.5" r="1.75"/><circle cx="253.8" cy="73.9" r="1.75"/><circle cx="259.3" cy="70.4" r="1.75"/><circle cx="264.8" cy="66.1" r="1.75"/><circle cx="270.2" cy="60.2" r="1.75"/><circle cx="275.7" cy="53" r="1.75"/><circle cx="281.2" cy="45.8" r="1.75"/><circle cx="286.6" cy="50.8" r="1.75"/><circle cx="292.1" cy="58.3" r="1.75"/><circle cx="297.6" cy="64" r="1.75"/><circle cx="303" cy="68.8" r="1.75"/><circle cx="308.5" cy="72.2" r="1.75"/><circle cx="314" cy="74.7" r="1.75"/><circle cx="319.4" cy="77.8" r="1.75"/><circle cx="324.9" cy="79.1" r="1.75"/><circle cx="330.4" cy="81.4" r="1.75"/><circle cx="335.8" cy="83.1" r="1.75"/><circle cx="341.3" cy="84.7" r="1.75"/><circle cx="346.8" cy="85.7" r="1.75"/><circle cx="352.2" cy="87.1" r="1.75"/><circle cx="357.7" cy="88.2" r="1.75"/><circle cx="363.2" cy="89.7" r="1.75"/><circle cx="368.7" cy="90" r="1.75"/><circle cx="374.1" cy="91.3" r="1.75"/><circle cx="379.6" cy="92" r="1.75"/><circle cx="385.1" cy="92.4" r="1.75"/><circle cx="390.5" cy="94.6" r="1.75"/><circle cx="396" cy="94.3" r="1.75"/><circle cx="401.5" cy="94.5" r="1.75"/><circle cx="406.9" cy="96.2" r="1.75"/><circle cx="412.4" cy="95.9" r="1.75"/><circle cx="417.9" cy="97" r="1.75"/><circle cx="423.3" cy="97.7" r="1.75"/><circle cx="428.8" cy="97.8" r="1.75"/><circle cx="434.3" cy="98.3" r="1.75"/><circle cx="439.8" cy="98.8" r="1.75"/><circle cx="445.2" cy="99.4" r="1.75"/><circle cx="450.7" cy="99.3" r="1.75"/><circle cx="456.2" cy="99.9" r="1.75"/><circle cx="461.6" cy="100.7" r="1.75"/><circle cx="467.1" cy="101.6" r="1.75"/><circle cx="472.6" cy="101.8" r="1.75"/><circle cx="478" cy="102.6" r="1.75"/><circle cx="483.5" cy="102.6" r="1.75"/></g><g fill="none" stroke="#1a8a2a" stroke-width="0.95"><circle cx="51.5" cy="87.8" r="1.75"/><circle cx="56.9" cy="87.8" r="1.75"/><circle cx="62.4" cy="98.1" r="1.75"/><circle cx="67.9" cy="93.1" r="1.75"/><circle cx="73.3" cy="96.5" r="1.75"/><circle cx="78.8" cy="110.3" r="1.75"/><circle cx="84.3" cy="110.7" r="1.75"/><circle cx="89.8" cy="104.4" r="1.75"/><circle cx="95.2" cy="96.9" r="1.75"/><circle cx="100.7" cy="96.3" r="1.75"/><circle cx="106.2" cy="114.1" r="1.75"/><circle cx="111.6" cy="104.7" r="1.75"/><circle cx="117.1" cy="109.4" r="1.75"/><circle cx="122.6" cy="118" r="1.75"/><circle cx="128" cy="107.3" r="1.75"/><circle cx="133.5" cy="113.5" r="1.75"/><circle cx="139" cy="114" r="1.75"/><circle cx="144.4" cy="104" r="1.75"/><circle cx="149.9" cy="105" r="1.75"/><circle cx="155.4" cy="104" r="1.75"/><circle cx="160.8" cy="103.3" r="1.75"/><circle cx="166.3" cy="101.8" r="1.75"/><circle cx="171.8" cy="101.7" r="1.75"/><circle cx="177.2" cy="100.6" r="1.75"/><circle cx="182.7" cy="98.9" r="1.75"/><circle cx="188.2" cy="98.3" r="1.75"/><circle cx="193.7" cy="96.2" r="1.75"/><circle cx="199.1" cy="95.1" r="1.75"/><circle cx="204.6" cy="93.7" r="1.75"/><circle cx="210.1" cy="91.7" r="1.75"/><circle cx="215.5" cy="90.7" r="1.75"/><circle cx="221" cy="89.5" r="1.75"/><circle cx="226.5" cy="86.6" r="1.75"/><circle cx="231.9" cy="85.3" r="1.75"/><circle cx="237.4" cy="82.7" r="1.75"/><circle cx="242.9" cy="81" r="1.75"/><circle cx="248.3" cy="77.8" r="1.75"/><circle cx="253.8" cy="74.7" r="1.75"/><circle cx="259.3" cy="70.9" r="1.75"/><circle cx="264.8" cy="66.1" r="1.75"/><circle cx="270.2" cy="59.5" r="1.75"/><circle cx="275.7" cy="52.5" r="1.75"/><circle cx="281.2" cy="44.5" r="1.75"/><circle cx="286.6" cy="50" r="1.75"/><circle cx="292.1" cy="58.1" r="1.75"/><circle cx="297.6" cy="63.6" r="1.75"/><circle cx="303" cy="68.5" r="1.75"/><circle cx="308.5" cy="72.4" r="1.75"/><circle cx="314" cy="74.9" r="1.75"/><circle cx="319.4" cy="77.1" r="1.75"/><circle cx="324.9" cy="78.5" r="1.75"/><circle cx="330.4" cy="81" r="1.75"/><circle cx="335.8" cy="82.8" r="1.75"/><circle cx="341.3" cy="84.3" r="1.75"/><circle cx="346.8" cy="85.5" r="1.75"/><circle cx="352.2" cy="87.2" r="1.75"/><circle cx="357.7" cy="88.1" r="1.75"/><circle cx="363.2" cy="89.3" r="1.75"/><circle cx="368.7" cy="90.5" r="1.75"/><circle cx="374.1" cy="90.9" r="1.75"/><circle cx="379.6" cy="91.9" r="1.75"/><circle cx="385.1" cy="93.6" r="1.75"/><circle cx="390.5" cy="93.9" r="1.75"/><circle cx="396" cy="93.9" r="1.75"/><circle cx="401.5" cy="95" r="1.75"/><circle cx="406.9" cy="95.8" r="1.75"/><circle cx="412.4" cy="96.7" r="1.75"/><circle cx="417.9" cy="96.9" r="1.75"/><circle cx="423.3" cy="97.2" r="1.75"/><circle cx="428.8" cy="97.7" r="1.75"/><circle cx="434.3" cy="98.7" r="1.75"/><circle cx="439.8" cy="99" r="1.75"/><circle cx="445.2" cy="99.2" r="1.75"/><circle cx="450.7" cy="99.8" r="1.75"/><circle cx="456.2" cy="100.2" r="1.75"/><circle cx="461.6" cy="101" r="1.75"/><circle cx="467.1" cy="100.9" r="1.75"/><circle cx="472.6" cy="101.7" r="1.75"/><circle cx="478" cy="102.2" r="1.75"/><circle cx="483.5" cy="102.5" r="1.75"/></g><g fill="none" stroke="#0a14f0" stroke-width="0.95"><circle cx="51.5" cy="142.7" r="1.75"/><circle cx="56.9" cy="89.8" r="1.75"/><circle cx="62.4" cy="93.1" r="1.75"/><circle cx="67.9" cy="89" r="1.75"/><circle cx="73.3" cy="103.8" r="1.75"/><circle cx="78.8" cy="95.6" r="1.75"/><circle cx="84.3" cy="97.8" r="1.75"/><circle cx="89.8" cy="97.8" r="1.75"/><circle cx="95.2" cy="98.8" r="1.75"/><circle cx="100.7" cy="98.5" r="1.75"/><circle cx="106.2" cy="103.2" r="1.75"/><circle cx="111.6" cy="96.5" r="1.75"/><circle cx="117.1" cy="104.4" r="1.75"/><circle cx="122.6" cy="99.8" r="1.75"/><circle cx="128" cy="100.7" r="1.75"/><circle cx="133.5" cy="107.8" r="1.75"/><circle cx="139" cy="115.4" r="1.75"/><circle cx="144.4" cy="114.8" r="1.75"/><circle cx="149.9" cy="114" r="1.75"/><circle cx="155.4" cy="107.8" r="1.75"/><circle cx="160.8" cy="107.8" r="1.75"/><circle cx="166.3" cy="110" r="1.75"/><circle cx="171.8" cy="106.9" r="1.75"/><circle cx="177.2" cy="102.5" r="1.75"/><circle cx="182.7" cy="99.6" r="1.75"/><circle cx="188.2" cy="97.8" r="1.75"/><circle cx="193.7" cy="96.4" r="1.75"/><circle cx="199.1" cy="94.4" r="1.75"/><circle cx="204.6" cy="93.5" r="1.75"/><circle cx="210.1" cy="92" r="1.75"/><circle cx="215.5" cy="90.5" r="1.75"/><circle cx="221" cy="88.6" r="1.75"/><circle cx="226.5" cy="87" r="1.75"/><circle cx="231.9" cy="84.8" r="1.75"/><circle cx="237.4" cy="82.3" r="1.75"/><circle cx="242.9" cy="80.7" r="1.75"/><circle cx="248.3" cy="77.9" r="1.75"/><circle cx="253.8" cy="75" r="1.75"/><circle cx="259.3" cy="70.6" r="1.75"/><circle cx="264.8" cy="65.8" r="1.75"/><circle cx="270.2" cy="59.8" r="1.75"/><circle cx="275.7" cy="51.4" r="1.75"/><circle cx="281.2" cy="45.3" r="1.75"/><circle cx="286.6" cy="49.6" r="1.75"/><circle cx="292.1" cy="57.5" r="1.75"/><circle cx="297.6" cy="63.8" r="1.75"/><circle cx="303" cy="68.9" r="1.75"/><circle cx="308.5" cy="72.1" r="1.75"/><circle cx="314" cy="74.6" r="1.75"/><circle cx="319.4" cy="77.1" r="1.75"/><circle cx="324.9" cy="79.7" r="1.75"/><circle cx="330.4" cy="81.3" r="1.75"/><circle cx="335.8" cy="82.8" r="1.75"/><circle cx="341.3" cy="84.4" r="1.75"/><circle cx="346.8" cy="86.1" r="1.75"/><circle cx="352.2" cy="87.8" r="1.75"/><circle cx="357.7" cy="87.8" r="1.75"/><circle cx="363.2" cy="89.1" r="1.75"/><circle cx="368.7" cy="90" r="1.75"/><circle cx="374.1" cy="90.3" r="1.75"/><circle cx="379.6" cy="91.7" r="1.75"/><circle cx="385.1" cy="92.5" r="1.75"/><circle cx="390.5" cy="94" r="1.75"/><circle cx="396" cy="94.3" r="1.75"/><circle cx="401.5" cy="94.4" r="1.75"/><circle cx="406.9" cy="95.9" r="1.75"/><circle cx="412.4" cy="96.1" r="1.75"/><circle cx="417.9" cy="96.2" r="1.75"/><circle cx="423.3" cy="97.2" r="1.75"/><circle cx="428.8" cy="97.7" r="1.75"/><circle cx="434.3" cy="98.1" r="1.75"/><circle cx="439.8" cy="98.9" r="1.75"/><circle cx="445.2" cy="98.6" r="1.75"/><circle cx="450.7" cy="99.8" r="1.75"/><circle cx="456.2" cy="100.7" r="1.75"/><circle cx="461.6" cy="101" r="1.75"/><circle cx="467.1" cy="101.5" r="1.75"/><circle cx="472.6" cy="101.9" r="1.75"/><circle cx="478" cy="102.4" r="1.75"/><circle cx="483.5" cy="101.9" r="1.75"/></g></g>
<rect x="46.0" y="9.0" width="437.5" height="237.5" fill="none" stroke="#555" stroke-width="1"/>
<path d="M46.0 246.5v-4M46.0 9.0v4M134.5 246.5v-4M134.5 9.0v4M221.5 246.5v-4M221.5 9.0v4M308.5 246.5v-4M308.5 9.0v4M396.5 246.5v-4M396.5 9.0v4M483.5 246.5v-4M483.5 9.0v4M46.0 246.3h4M483.5 246.3h-4M46.0 234.4h2M483.5 234.4h-2M46.0 227.4h2M483.5 227.4h-2M46.0 222.5h2M483.5 222.5h-2M46.0 218.7h2M483.5 218.7h-2M46.0 215.5h2M483.5 215.5h-2M46.0 212.9h2M483.5 212.9h-2M46.0 210.6h2M483.5 210.6h-2M46.0 208.6h2M483.5 208.6h-2M46.0 206.8h4M483.5 206.8h-4M46.0 194.8h2M483.5 194.8h-2M46.0 187.9h2M483.5 187.9h-2M46.0 182.9h2M483.5 182.9h-2M46.0 179.1h2M483.5 179.1h-2M46.0 176h2M483.5 176h-2M46.0 173.3h2M483.5 173.3h-2M46.0 171h2M483.5 171h-2M46.0 169h2M483.5 169h-2M46.0 167.2h4M483.5 167.2h-4M46.0 155.3h2M483.5 155.3h-2M46.0 148.3h2M483.5 148.3h-2M46.0 143.4h2M483.5 143.4h-2M46.0 139.6h2M483.5 139.6h-2M46.0 136.4h2M483.5 136.4h-2M46.0 133.8h2M483.5 133.8h-2M46.0 131.5h2M483.5 131.5h-2M46.0 129.5h2M483.5 129.5h-2M46.0 127.7h4M483.5 127.7h-4M46.0 115.7h2M483.5 115.7h-2M46.0 108.8h2M483.5 108.8h-2M46.0 103.8h2M483.5 103.8h-2M46.0 100h2M483.5 100h-2M46.0 96.9h2M483.5 96.9h-2M46.0 94.2h2M483.5 94.2h-2M46.0 91.9h2M483.5 91.9h-2M46.0 89.9h2M483.5 89.9h-2M46.0 88.1h4M483.5 88.1h-4M46.0 76.2h2M483.5 76.2h-2M46.0 69.2h2M483.5 69.2h-2M46.0 64.3h2M483.5 64.3h-2M46.0 60.5h2M483.5 60.5h-2M46.0 57.3h2M483.5 57.3h-2M46.0 54.7h2M483.5 54.7h-2M46.0 52.4h2M483.5 52.4h-2M46.0 50.4h2M483.5 50.4h-2M46.0 48.6h4M483.5 48.6h-4M46.0 36.6h2M483.5 36.6h-2M46.0 29.7h2M483.5 29.7h-2M46.0 24.7h2M483.5 24.7h-2M46.0 20.9h2M483.5 20.9h-2M46.0 17.8h2M483.5 17.8h-2M46.0 15.1h2M483.5 15.1h-2M46.0 12.8h2M483.5 12.8h-2M46.0 10.8h2M483.5 10.8h-2M46.0 9h4M483.5 9h-4" stroke="#666" stroke-width="1" fill="none"/>
<text x="43.25" y="257.00" font-family="Liberation Sans, sans-serif" font-size="10.3" textLength="6.13" lengthAdjust="spacingAndGlyphs" fill="#222">5</text>
<text x="127.47" y="257.00" font-family="Liberation Sans, sans-serif" font-size="10.3" textLength="12.26" lengthAdjust="spacingAndGlyphs" fill="#222">10</text>
<text x="214.98" y="257.00" font-family="Liberation Sans, sans-serif" font-size="10.3" textLength="12.26" lengthAdjust="spacingAndGlyphs" fill="#222">15</text>
<text x="302.61" y="257.00" font-family="Liberation Sans, sans-serif" font-size="10.3" textLength="12.26" lengthAdjust="spacingAndGlyphs" fill="#222">20</text>
<text x="390.12" y="257.00" font-family="Liberation Sans, sans-serif" font-size="10.3" textLength="12.26" lengthAdjust="spacingAndGlyphs" fill="#222">25</text>
<text x="477.68" y="257.00" font-family="Liberation Sans, sans-serif" font-size="10.3" textLength="12.26" lengthAdjust="spacingAndGlyphs" fill="#222">30</text>
<text x="25.46" y="12.80" font-family="Liberation Sans, sans-serif" font-size="10.6" textLength="12.27" lengthAdjust="spacingAndGlyphs" fill="#222">10</text>
<text x="37.79" y="6.40" font-family="Liberation Sans, sans-serif" font-size="7.3" textLength="6.11" lengthAdjust="spacingAndGlyphs" fill="#222">-3</text>
<text x="25.46" y="52.35" font-family="Liberation Sans, sans-serif" font-size="10.6" textLength="12.27" lengthAdjust="spacingAndGlyphs" fill="#222">10</text>
<text x="37.80" y="45.95" font-family="Liberation Sans, sans-serif" font-size="7.3" textLength="6.00" lengthAdjust="spacingAndGlyphs" fill="#222">-4</text>
<text x="25.46" y="91.90" font-family="Liberation Sans, sans-serif" font-size="10.6" textLength="12.27" lengthAdjust="spacingAndGlyphs" fill="#222">10</text>
<text x="37.80" y="85.50" font-family="Liberation Sans, sans-serif" font-size="7.3" textLength="6.09" lengthAdjust="spacingAndGlyphs" fill="#222">-5</text>
<text x="25.46" y="131.45" font-family="Liberation Sans, sans-serif" font-size="10.6" textLength="12.27" lengthAdjust="spacingAndGlyphs" fill="#222">10</text>
<text x="37.79" y="125.05" font-family="Liberation Sans, sans-serif" font-size="7.3" textLength="6.11" lengthAdjust="spacingAndGlyphs" fill="#222">-6</text>
<text x="25.46" y="171.00" font-family="Liberation Sans, sans-serif" font-size="10.6" textLength="12.27" lengthAdjust="spacingAndGlyphs" fill="#222">10</text>
<text x="37.79" y="164.60" font-family="Liberation Sans, sans-serif" font-size="7.3" textLength="6.16" lengthAdjust="spacingAndGlyphs" fill="#222">-7</text>
<text x="25.46" y="210.55" font-family="Liberation Sans, sans-serif" font-size="10.6" textLength="12.27" lengthAdjust="spacingAndGlyphs" fill="#222">10</text>
<text x="37.80" y="204.15" font-family="Liberation Sans, sans-serif" font-size="7.3" textLength="6.10" lengthAdjust="spacingAndGlyphs" fill="#222">-8</text>
<text x="25.46" y="250.10" font-family="Liberation Sans, sans-serif" font-size="10.6" textLength="12.27" lengthAdjust="spacingAndGlyphs" fill="#222">10</text>
<text x="37.79" y="243.70" font-family="Liberation Sans, sans-serif" font-size="7.3" textLength="6.13" lengthAdjust="spacingAndGlyphs" fill="#222">-9</text>
<text x="220.27" y="271.60" font-family="Liberation Sans, sans-serif" font-size="11.7" textLength="86.30" lengthAdjust="spacingAndGlyphs" fill="#222">Frequency (Hz)</text>
<g transform="translate(20.30,180.60) rotate(-90) scale(0.9799,1.0000)"><text x="-0.61" y="0" font-family="Liberation Sans, sans-serif" font-size="12" fill="#222">Current FRF (A/m.s<tspan font-size="9" dy="-5">-2</tspan><tspan font-size="12" dy="5">)</tspan></text></g>
<text x="63.77" y="26.00" font-family="Liberation Serif, serif" font-size="14" textLength="15.96" lengthAdjust="spacingAndGlyphs" fill="#000">(a)</text>
<rect x="483.5" y="9.0" width="106.5" height="114.2" fill="#fff" stroke="#555" stroke-width="1"/>
<path d="M487.6 16.0H506" stroke="#0a14f0" stroke-width="1.6"/>
<text x="517.16" y="19.60" font-family="Liberation Sans, sans-serif" font-size="10" textLength="51.16" lengthAdjust="spacingAndGlyphs" fill="#222">562 Ohms</text>
<path d="M487.6 28.4H506" stroke="#1a8a2a" stroke-width="1.6"/>
<text x="517.08" y="32.03" font-family="Liberation Sans, sans-serif" font-size="10" textLength="51.16" lengthAdjust="spacingAndGlyphs" fill="#222">985 Ohms</text>
<path d="M487.6 40.9H506" stroke="#f03c10" stroke-width="1.6"/>
<text x="516.76" y="44.46" font-family="Liberation Sans, sans-serif" font-size="10" textLength="59.79" lengthAdjust="spacingAndGlyphs" fill="#222">10.8 kOhms</text>
<path d="M487.6 53.3H506" stroke="#e020e8" stroke-width="1.6"/>
<text x="516.76" y="56.89" font-family="Liberation Sans, sans-serif" font-size="10" textLength="56.71" lengthAdjust="spacingAndGlyphs" fill="#222">155 kOhms</text>
<path d="M487.6 65.7H506" stroke="#c8c21e" stroke-width="1.6"/>
<text x="517.04" y="69.32" font-family="Liberation Sans, sans-serif" font-size="10" textLength="56.71" lengthAdjust="spacingAndGlyphs" fill="#222">227 kOhms</text>
<path d="M487.6 78.2H506" stroke="#404040" stroke-width="1.6"/>
<text x="517.18" y="81.75" font-family="Liberation Sans, sans-serif" font-size="10" textLength="56.71" lengthAdjust="spacingAndGlyphs" fill="#222">332 kOhms</text>
<path d="M487.6 90.6H506" stroke="#7a1ef0" stroke-width="1.6"/>
<text x="517.35" y="94.18" font-family="Liberation Sans, sans-serif" font-size="10" textLength="57.31" lengthAdjust="spacingAndGlyphs" fill="#222">4.8 MOhms</text>
<path d="M487.6 103.0H506" stroke="#10f010" stroke-width="1.6"/>
<text x="517.35" y="106.61" font-family="Liberation Sans, sans-serif" font-size="10" textLength="54.23" lengthAdjust="spacingAndGlyphs" fill="#222">47 MOhms</text>
<path d="M487.6 115.4H506" stroke="#10c4c8" stroke-width="1.6"/>
<text x="517.04" y="119.04" font-family="Liberation Sans, sans-serif" font-size="10" textLength="69.65" lengthAdjust="spacingAndGlyphs" fill="#222">275.7 MOhms</text>
<polyline points="29.5 363.1 31.9 363.1 34.3 363.1 36.7 363.1 39.1 363.1 41.5 363.1 43.9 363.1 46.3 363.1 48.6 363.1 51 363.1 53.4 363.1 55.8 363.1 58.2 363.1 60.6 363.1 63 363.1 65.4 363.1 67.8 363.1 70.2 363.2 72.6 363.2 75 363.2 77.4 363.2 79.8 363.2 82.2 363.2 84.5 363.2 86.9 363.3 89.3 363.3 91.7 363.3 94.1 363.3 96.5 363.4 98.9 363.4 101.3 363.4 103.7 363.5 106.1 363.5 108.5 363.5 110.9 363.6 113.3 363.7 115.7 363.7 118.1 363.8 120.4 363.9 122.8 363.9 125.2 364 127.6 364.1 130 364.2 132.4 364.3 134.8 364.5 137.2 364.6 139.6 364.8 142 364.9 144.4 365.1 146.8 365.3 149.2 365.6 151.6 365.8 154 366.1 156.3 366.4 158.7 366.7 161.1 367.1 163.5 367.5 165.9 367.9 168.3 368.4 170.7 368.9 173.1 369.4 175.5 370 177.9 370.7 180.3 371.4 182.7 372.1 185.1 372.9 187.5 373.8 189.8 374.8 192.2 375.8 194.6 376.9 197 378.1 199.4 379.3 201.8 380.6 204.2 382 206.6 383.5 209 385.1 211.4 386.8 213.8 388.5 216.2 390.3 218.6 392.2 221 394.1 223.4 396.2 225.7 398.3 228.1 400.4 230.5 402.7 232.9 405 235.3 407.4 237.7 409.8 240.1 412.2 242.5 414.8 244.9 417.3 247.3 419.9 249.7 422.6 252.1 425.3 254.5 428 256.9 430.7 259.3 433.5 261.6 436.3 264 439.2 266.4 442 268.8 444.9 271.2 447.8 273.6 450.7 276 453.6 278.4 456.6 280.8 459.6 283.2 462.5 285.6 465.5 288 468.5 290.4 471.5 292.8 474.5 295.2 477.5 297.5 480.6 299.9 483.6 302.3 486.6 304.7 489.7 307.1 492.7 309.5 495.8 311.9 498.8 314.3 501.9" fill="none" stroke="#1e28ff" stroke-width="1.3"/>
<polyline points="29.5 380.2 31.9 380.2 34.3 380.2 36.7 380.2 39.1 380.2 41.5 380.2 43.9 380.2 46.3 380.2 48.6 380.2 51 380.2 53.4 380.2 55.8 380.2 58.2 380.2 60.6 380.2 63 380.2 65.4 380.2 67.8 380.2 70.2 380.2 72.6 380.2 75 380.2 77.4 380.2 79.8 380.2 82.2 380.2 84.5 380.2 86.9 380.2 89.3 380.2 91.7 380.2 94.1 380.2 96.5 380.3 98.9 380.3 101.3 380.3 103.7 380.3 106.1 380.3 108.5 380.3 110.9 380.3 113.3 380.4 115.7 380.4 118.1 380.4 120.4 380.4 122.8 380.5 125.2 380.5 127.6 380.5 130 380.6 132.4 380.6 134.8 380.6 137.2 380.7 139.6 380.8 142 380.8 144.4 380.9 146.8 381 149.2 381 151.6 381.1 154 381.2 156.3 381.3 158.7 381.4 161.1 381.6 163.5 381.7 165.9 381.9 168.3 382.1 170.7 382.2 173.1 382.4 175.5 382.7 177.9 382.9 180.3 383.2 182.7 383.5 185.1 383.8 187.5 384.2 189.8 384.6 192.2 385 194.6 385.5 197 386 199.4 386.6 201.8 387.2 204.2 387.9 206.6 388.6 209 389.4 211.4 390.2 213.8 391.1 216.2 392.1 218.6 393.2 221 394.3 223.4 395.5 225.7 396.8 228.1 398.2 230.5 399.6 232.9 401.2 235.3 402.8 237.7 404.5 240.1 406.3 242.5 408.1 244.9 410.1 247.3 412.1 249.7 414.2 252.1 416.4 254.5 418.6 256.9 420.9 259.3 423.3 261.6 425.7 264 428.2 266.4 430.7 268.8 433.3 271.2 435.9 273.6 438.5 276 441.2 278.4 443.9 280.8 446.7 283.2 449.5 285.6 452.3 288 455.1 290.4 458 292.8 460.9 295.2 463.8 297.5 466.7 299.9 469.6 302.3 472.6 304.7 475.5 307.1 478.5 309.5 481.5 311.9 484.5 314.3 487.5" fill="none" stroke="#e84a28" stroke-width="1.3"/>
<g fill="none" stroke="#1e28ff" stroke-width="1"><ellipse cx="71.7" cy="363.2" rx="1.4" ry="2.1"/><ellipse cx="86.0" cy="364.5" rx="1.4" ry="2.1"/><ellipse cx="145.2" cy="366.8" rx="1.4" ry="2.1"/><ellipse cx="211.2" cy="386.1" rx="1.4" ry="2.1"/><ellipse cx="220.2" cy="394.0" rx="1.4" ry="2.1"/><ellipse cx="229.5" cy="401.5" rx="1.4" ry="2.1"/><ellipse cx="295.7" cy="477.0" rx="1.4" ry="2.1"/></g>
<g fill="none" stroke="#e84a28" stroke-width="1"><ellipse cx="71.7" cy="379.4" rx="1.4" ry="2.1"/><ellipse cx="86.0" cy="377.7" rx="1.4" ry="2.1"/><ellipse cx="145.2" cy="383.0" rx="1.4" ry="2.1"/><ellipse cx="211.2" cy="389.6" rx="1.4" ry="2.1"/><ellipse cx="220.2" cy="394.6" rx="1.4" ry="2.1"/><ellipse cx="229.5" cy="400.8" rx="1.4" ry="2.1"/><ellipse cx="295.7" cy="464.5" rx="1.4" ry="2.1"/></g>
<rect x="29.5" y="295.0" width="285.0" height="221.0" fill="none" stroke="#a0a0a0" stroke-width="1"/>
<path d="M29.5 516.0v-4M29.5 295.0v4M46.6 516.0v-2M46.6 295.0v2M56.7 516.0v-2M56.7 295.0v2M63.8 516.0v-2M63.8 295.0v2M69.3 516.0v-2M69.3 295.0v2M73.8 516.0v-2M73.8 295.0v2M77.6 516.0v-2M77.6 295.0v2M80.9 516.0v-2M80.9 295.0v2M83.9 516.0v-2M83.9 295.0v2M86.5 516.0v-4M86.5 295.0v4M103.6 516.0v-2M103.6 295.0v2M113.6 516.0v-2M113.6 295.0v2M120.8 516.0v-2M120.8 295.0v2M126.3 516.0v-2M126.3 295.0v2M130.8 516.0v-2M130.8 295.0v2M134.6 516.0v-2M134.6 295.0v2M137.9 516.0v-2M137.9 295.0v2M140.8 516.0v-2M140.8 295.0v2M143.4 516.0v-4M143.4 295.0v4M160.6 516.0v-2M160.6 295.0v2M170.6 516.0v-2M170.6 295.0v2M177.7 516.0v-2M177.7 295.0v2M183.2 516.0v-2M183.2 295.0v2M187.7 516.0v-2M187.7 295.0v2M191.6 516.0v-2M191.6 295.0v2M194.9 516.0v-2M194.9 295.0v2M197.8 516.0v-2M197.8 295.0v2M200.4 516.0v-4M200.4 295.0v4M217.5 516.0v-2M217.5 295.0v2M227.6 516.0v-2M227.6 295.0v2M234.7 516.0v-2M234.7 295.0v2M240.2 516.0v-2M240.2 295.0v2M244.7 516.0v-2M244.7 295.0v2M248.5 516.0v-2M248.5 295.0v2M251.8 516.0v-2M251.8 295.0v2M254.7 516.0v-2M254.7 295.0v2M257.3 516.0v-4M257.3 295.0v4M274.5 516.0v-2M274.5 295.0v2M284.5 516.0v-2M284.5 295.0v2M291.6 516.0v-2M291.6 295.0v2M297.2 516.0v-2M297.2 295.0v2M301.7 516.0v-2M301.7 295.0v2M305.5 516.0v-2M305.5 295.0v2M308.8 516.0v-2M308.8 295.0v2M311.7 516.0v-2M311.7 295.0v2M314.3 516.0v-4M314.3 295.0v4M29.5 516h4M314.5 516h-4M29.5 493.8h2M314.5 493.8h-2M29.5 480.9h2M314.5 480.9h-2M29.5 471.6h2M314.5 471.6h-2M29.5 464.5h2M314.5 464.5h-2M29.5 458.7h2M314.5 458.7h-2M29.5 453.7h2M314.5 453.7h-2M29.5 449.5h2M314.5 449.5h-2M29.5 445.7h2M314.5 445.7h-2M29.5 442.3h4M314.5 442.3h-4M29.5 420.2h2M314.5 420.2h-2M29.5 407.2h2M314.5 407.2h-2M29.5 398h2M314.5 398h-2M29.5 390.8h2M314.5 390.8h-2M29.5 385h2M314.5 385h-2M29.5 380.1h2M314.5 380.1h-2M29.5 375.8h2M314.5 375.8h-2M29.5 372h2M314.5 372h-2M29.5 368.7h4M314.5 368.7h-4M29.5 346.5h2M314.5 346.5h-2M29.5 333.5h2M314.5 333.5h-2M29.5 324.3h2M314.5 324.3h-2M29.5 317.2h2M314.5 317.2h-2M29.5 311.3h2M314.5 311.3h-2M29.5 306.4h2M314.5 306.4h-2M29.5 302.1h2M314.5 302.1h-2M29.5 298.4h2M314.5 298.4h-2M29.5 295h4M314.5 295h-4" stroke="#808080" stroke-width="0.9" fill="none"/>
<text x="23.31" y="531.40" font-family="Liberation Sans, sans-serif" font-size="12.4" textLength="9.15" lengthAdjust="spacingAndGlyphs" fill="#222" stroke="#222" stroke-width="0.2">10</text>
<text x="32.12" y="523.70" font-family="Liberation Sans, sans-serif" font-size="7.4" textLength="3.05" lengthAdjust="spacingAndGlyphs" fill="#222" stroke="#222" stroke-width="0.15">2</text>
<text x="80.27" y="531.40" font-family="Liberation Sans, sans-serif" font-size="12.4" textLength="9.15" lengthAdjust="spacingAndGlyphs" fill="#222" stroke="#222" stroke-width="0.2">10</text>
<text x="89.16" y="523.70" font-family="Liberation Sans, sans-serif" font-size="7.4" textLength="2.93" lengthAdjust="spacingAndGlyphs" fill="#222" stroke="#222" stroke-width="0.15">3</text>
<text x="137.23" y="531.40" font-family="Liberation Sans, sans-serif" font-size="12.4" textLength="9.15" lengthAdjust="spacingAndGlyphs" fill="#222" stroke="#222" stroke-width="0.2">10</text>
<text x="146.21" y="523.70" font-family="Liberation Sans, sans-serif" font-size="7.4" textLength="2.76" lengthAdjust="spacingAndGlyphs" fill="#222" stroke="#222" stroke-width="0.15">4</text>
<text x="194.19" y="531.40" font-family="Liberation Sans, sans-serif" font-size="12.4" textLength="9.15" lengthAdjust="spacingAndGlyphs" fill="#222" stroke="#222" stroke-width="0.2">10</text>
<text x="203.07" y="523.70" font-family="Liberation Sans, sans-serif" font-size="7.4" textLength="2.93" lengthAdjust="spacingAndGlyphs" fill="#222" stroke="#222" stroke-width="0.15">5</text>
<text x="251.15" y="531.40" font-family="Liberation Sans, sans-serif" font-size="12.4" textLength="9.15" lengthAdjust="spacingAndGlyphs" fill="#222" stroke="#222" stroke-width="0.2">10</text>
<text x="259.96" y="523.70" font-family="Liberation Sans, sans-serif" font-size="7.4" textLength="3.01" lengthAdjust="spacingAndGlyphs" fill="#222" stroke="#222" stroke-width="0.15">6</text>
<text x="308.11" y="531.40" font-family="Liberation Sans, sans-serif" font-size="12.4" textLength="9.15" lengthAdjust="spacingAndGlyphs" fill="#222" stroke="#222" stroke-width="0.2">10</text>
<text x="316.92" y="523.70" font-family="Liberation Sans, sans-serif" font-size="7.4" textLength="3.06" lengthAdjust="spacingAndGlyphs" fill="#222" stroke="#222" stroke-width="0.15">7</text>
<text x="14.97" y="299.10" font-family="Liberation Sans, sans-serif" font-size="12.3" textLength="9.15" lengthAdjust="spacingAndGlyphs" fill="#222" stroke="#222" stroke-width="0.2">10</text>
<text x="23.66" y="291.90" font-family="Liberation Sans, sans-serif" font-size="7.7" textLength="4.77" lengthAdjust="spacingAndGlyphs" fill="#222" stroke="#222" stroke-width="0.15">-3</text>
<text x="14.97" y="372.77" font-family="Liberation Sans, sans-serif" font-size="12.3" textLength="9.15" lengthAdjust="spacingAndGlyphs" fill="#222" stroke="#222" stroke-width="0.2">10</text>
<text x="23.67" y="365.57" font-family="Liberation Sans, sans-serif" font-size="7.7" textLength="4.69" lengthAdjust="spacingAndGlyphs" fill="#222" stroke="#222" stroke-width="0.15">-4</text>
<text x="14.97" y="446.43" font-family="Liberation Sans, sans-serif" font-size="12.3" textLength="9.15" lengthAdjust="spacingAndGlyphs" fill="#222" stroke="#222" stroke-width="0.2">10</text>
<text x="23.66" y="439.23" font-family="Liberation Sans, sans-serif" font-size="7.7" textLength="4.76" lengthAdjust="spacingAndGlyphs" fill="#222" stroke="#222" stroke-width="0.15">-5</text>
<text x="14.97" y="520.10" font-family="Liberation Sans, sans-serif" font-size="12.3" textLength="9.15" lengthAdjust="spacingAndGlyphs" fill="#222" stroke="#222" stroke-width="0.2">10</text>
<text x="23.66" y="512.90" font-family="Liberation Sans, sans-serif" font-size="7.7" textLength="4.77" lengthAdjust="spacingAndGlyphs" fill="#222" stroke="#222" stroke-width="0.15">-6</text>
<text x="120.86" y="547.50" font-family="Liberation Sans, sans-serif" font-size="13" textLength="99.60" lengthAdjust="spacingAndGlyphs" fill="#222" stroke="#222" stroke-width="0.25">Load Resistance (Ohms)</text>
<g transform="translate(11.60,484.00) rotate(-90) scale(1.0052,0.7189)"><text x="-1.12" y="0" font-family="Liberation Sans, sans-serif" stroke="#222" stroke-width="0.25" font-size="13.6" fill="#222">Electrical Current (A/m.s<tspan font-size="10.5" dy="-6">-2</tspan><tspan font-size="13.6" dy="6">)</tspan></text></g>
<text x="37.90" y="316.80" font-family="Liberation Serif, serif" font-size="14" textLength="15.90" lengthAdjust="spacingAndGlyphs" fill="#000">(b)</text>
<rect x="224.6" y="295.0" width="89.9" height="72.5" fill="#fff" stroke="#a0a0a0" stroke-width="1"/>
<path d="M226.7 304.3H238.1" stroke="#1e28ff" stroke-width="1.3"/>
<text x="239.16" y="308.60" font-family="Liberation Sans, sans-serif" font-size="10.3" textLength="69.42" lengthAdjust="spacingAndGlyphs" fill="#222" stroke="#222" stroke-width="0.2">Numerical (18.5 Hz)</text>
<ellipse cx="232.7" cy="321.9" rx="1.4" ry="2.0" fill="none" stroke="#1e28ff" stroke-width="1"/>
<text x="239.16" y="326.10" font-family="Liberation Sans, sans-serif" font-size="10.3" textLength="73.72" lengthAdjust="spacingAndGlyphs" fill="#222" stroke="#222" stroke-width="0.2">Experiment (18.5 Hz)</text>
<path d="M226.7 339.3H238.1" stroke="#e84a28" stroke-width="1.3"/>
<text x="239.16" y="343.60" font-family="Liberation Sans, sans-serif" font-size="10.3" textLength="69.42" lengthAdjust="spacingAndGlyphs" fill="#222" stroke="#222" stroke-width="0.2">Numerical (18.9 Hz)</text>
<ellipse cx="232.7" cy="356.9" rx="1.4" ry="2.0" fill="none" stroke="#e84a28" stroke-width="1"/>
<text x="239.16" y="361.10" font-family="Liberation Sans, sans-serif" font-size="10.3" textLength="73.72" lengthAdjust="spacingAndGlyphs" fill="#222" stroke="#222" stroke-width="0.2">Experiment (18.9 Hz)</text>
<!--PANELC--><path d="M370.1 468.7L370.1 371.8M373.5 465.5L373.5 368.6M375.8 463.2L375.8 366.3M377.6 461.5L377.6 364.6M379.1 460.0L379.1 363.1M380.4 458.8L380.4 361.9M381.4 457.8L381.4 360.9M382.4 456.8L382.4 359.9M388.9 450.5L388.9 353.6M392.2 447.3L392.2 350.4M394.6 445.0L394.6 348.1M396.4 443.3L396.4 346.4M397.9 441.8L397.9 344.9M399.1 440.6L399.1 343.7M400.2 439.6L400.2 342.7M401.2 438.6L401.2 341.7M407.7 432.3L407.7 335.4M411.0 429.1L411.0 332.2M413.3 426.8L413.3 329.9M415.1 425.1L415.1 328.2M416.6 423.6L416.6 326.7M417.9 422.4L417.9 325.5M419.0 421.4L419.0 324.5M419.9 420.4L419.9 323.5M426.4 414.1L426.4 317.2M429.7 410.9L429.7 314.0M432.1 408.6L432.1 311.7M433.9 406.9L433.9 310.0M435.4 405.4L435.4 308.5M436.6 404.2L436.6 307.3M437.7 403.2L437.7 306.3M438.7 402.2L438.7 305.3M445.2 395.9L445.2 299.0M448.5 392.7L448.5 295.8M450.8 390.4L450.8 293.5M452.7 388.7L452.7 291.8M454.1 387.2L454.1 290.3M455.4 386.0L455.4 289.1M456.5 385.0L456.5 288.1M457.4 384.0L457.4 287.1" stroke="#c8c8c8" stroke-width="0.6" stroke-dasharray="1 1" fill="none"/>
<path d="M364.5 474.2L364.5 377.3M383.3 456.0L383.3 359.1M402.0 437.8L402.0 340.9M420.8 419.6L420.8 322.7M439.5 401.4L439.5 304.5M458.3 383.2L458.3 286.3M495.0 397.8L495.0 300.9M531.6 412.3L531.6 315.4M568.3 426.9L568.3 330.0M605.0 441.4L605.0 344.5M401.2 488.8L495.0 397.8M437.9 503.3L531.6 412.3M474.5 517.9L568.3 426.9" stroke="#b0b0b0" stroke-width="0.6" stroke-dasharray="1 1" fill="none"/>
<path d="M364.5 474.2L458.3 383.2L605.0 441.4M364.5 441.9L458.3 350.9L605.0 409.1M364.5 409.6L458.3 318.6L605.0 376.8M364.5 377.3L458.3 286.3L605.0 344.5" stroke="#c4c4c4" stroke-width="0.6" fill="none"/>
<path d="M370.1 468.7L516.8 526.9M373.5 465.5L520.2 523.7M375.8 463.2L522.5 521.4M377.6 461.5L524.3 519.7M379.1 460.0L525.8 518.2M380.4 458.8L527.1 517.0M381.4 457.8L528.1 516.0M382.4 456.8L529.1 515.0M388.9 450.5L535.6 508.7M392.2 447.3L538.9 505.5M394.6 445.0L541.3 503.2M396.4 443.3L543.1 501.5M397.9 441.8L544.6 500.0M399.1 440.6L545.8 498.8M400.2 439.6L546.9 497.8M401.2 438.6L547.9 496.8M407.7 432.3L554.4 490.5M411.0 429.1L557.7 487.3M413.3 426.8L560.0 485.0M415.1 425.1L561.8 483.3M416.6 423.6L563.3 481.8M417.9 422.4L564.6 480.6M419.0 421.4L565.7 479.6M419.9 420.4L566.6 478.6M426.4 414.1L573.1 472.3M429.7 410.9L576.4 469.1M432.1 408.6L578.8 466.8M433.9 406.9L580.6 465.1M435.4 405.4L582.1 463.6M436.6 404.2L583.3 462.4M437.7 403.2L584.4 461.4M438.7 402.2L585.4 460.4M445.2 395.9L591.9 454.1M448.5 392.7L595.2 450.9M450.8 390.4L597.5 448.6M452.7 388.7L599.4 446.9M454.1 387.2L600.8 445.4M455.4 386.0L602.1 444.2M456.5 385.0L603.2 443.2M457.4 384.0L604.1 442.2" stroke="#c0c0c0" stroke-width="0.5" fill="none"/>
<path d="M364.5 474.2L511.2 532.4M383.3 456.0L530.0 514.2M402.0 437.8L548.7 496.0M420.8 419.6L567.5 477.8M439.5 401.4L586.2 459.6" stroke="#707070" stroke-width="0.8" fill="none"/>
<g fill="currentColor" stroke="currentColor" stroke-width="0.9" stroke-linejoin="round"><path color="#00008f" d="M603.1 425.3 599.5 423.6 595.8 421.8 592.1 420.1 588.5 418.3 584.8 416.4 581.1 414.6 577.5 412.7 573.8 410.7 570.1 408.7 566.4 406.6 562.8 404.4 559.1 402.1 555.4 399.7 551.8 397 548.1 394.1 544.4 390.7 540.8 386.6 537.1 381.1 539 380.6 542.7 386.1 546.3 390.2 550 393.6 553.7 396.5 557.3 399.1 561 401.5 564.7 403.8 568.3 406 572 408.1 575.7 410.1 579.3 412.1 583 414 586.7 415.9 590.3 417.7 594 419.5 597.7 421.3 601.3 423 605 424.7z"/><path color="#00009f" d="M537.1 381.1 533.4 375.9 529.8 379.2 531.7 378.6 535.3 375.3 539 380.6z"/><path color="#00008f" d="M529.8 379.2 526.1 381.7 522.4 382.9 518.8 383.5 515.1 383.6 511.4 383.5 507.8 383.1 504.1 382.7 500.4 382.1 496.8 381.5 493.1 380.8 489.4 380 485.8 379.2 482.1 378.3 478.4 377.4 474.8 376.5 471.1 375.5 467.4 374.5 463.8 373.5 460.1 372.5 456.4 371.5 458.3 370.9 462 372 465.6 373 469.3 374 473 375 476.6 375.9 480.3 376.9 484 377.8 487.6 378.6 491.3 379.5 495 380.2 498.6 380.9 502.3 381.6 506 382.1 509.6 382.6 513.3 382.9 517 383 520.6 382.9 524.3 382.4 528 381.1 531.7 378.6z"/><path color="#00008f" d="M601.2 425.8 597.6 424.1 593.9 422.4 590.2 420.6 586.6 418.8 582.9 417 579.2 415.1 575.6 413.2 571.9 411.2 568.2 409.2 564.6 407.1 560.9 404.9 557.2 402.6 553.6 400.2 549.9 397.6 546.2 394.6 542.6 391.3 538.9 387.2 535.2 381.7 537.1 381.1 540.8 386.6 544.4 390.7 548.1 394.1 551.8 397 555.4 399.7 559.1 402.1 562.8 404.4 566.4 406.6 570.1 408.7 573.8 410.7 577.5 412.7 581.1 414.6 584.8 416.4 588.5 418.3 592.1 420.1 595.8 421.8 599.5 423.6 603.1 425.3z"/><path color="#00009f" d="M535.2 381.7 531.6 376.5 527.9 379.8 529.8 379.2 533.4 375.9 537.1 381.1z"/><path color="#00008f" d="M527.9 379.8 524.2 382.2 520.6 383.5 516.9 384 513.2 384.1 509.6 384 505.9 383.7 502.2 383.2 498.6 382.7 494.9 382 491.2 381.3 487.6 380.5 483.9 379.7 480.2 378.9 476.6 378 472.9 377 469.2 376.1 465.6 375.1 461.9 374.1 458.2 373.1 454.5 372 456.4 371.5 460.1 372.5 463.8 373.5 467.4 374.5 471.1 375.5 474.8 376.5 478.4 377.4 482.1 378.3 485.8 379.2 489.4 380 493.1 380.8 496.8 381.5 500.4 382.1 504.1 382.7 507.8 383.1 511.4 383.5 515.1 383.6 518.8 383.5 522.4 382.9 526.1 381.7 529.8 379.2z"/><path color="#00008f" d="M599.4 426.4 595.7 424.7 592 422.9 588.4 421.2 584.7 419.4 581 417.5 577.4 415.7 573.7 413.7 570 411.8 566.4 409.8 562.7 407.7 559 405.5 555.4 403.2 551.7 400.7 548 398.1 544.4 395.2 540.7 391.8 537 387.8 538.9 387.2 542.6 391.3 546.2 394.6 549.9 397.6 553.6 400.2 557.2 402.6 560.9 404.9 564.6 407.1 568.2 409.2 571.9 411.2 575.6 413.2 579.2 415.1 582.9 417 586.6 418.8 590.2 420.6 593.9 422.4 597.6 424.1 601.2 425.8z"/><path color="#00009f" d="M537 387.8 533.4 382.3 529.7 377.2 526 380.3 527.9 379.8 531.6 376.5 535.2 381.7 538.9 387.2z"/><path color="#00008f" d="M526 380.3 522.4 382.8 518.7 384 515 384.5 511.4 384.7 507.7 384.6 504 384.2 500.3 383.8 496.7 383.2 493 382.6 489.3 381.9 485.7 381.1 482 380.3 478.3 379.4 474.7 378.5 471 377.6 467.3 376.6 463.7 375.6 460 374.6 456.3 373.6 452.7 372.6 454.5 372 458.2 373.1 461.9 374.1 465.6 375.1 469.2 376.1 472.9 377 476.6 378 480.2 378.9 483.9 379.7 487.6 380.5 491.2 381.3 494.9 382 498.6 382.7 502.2 383.2 505.9 383.7 509.6 384 513.2 384.1 516.9 384 520.6 383.5 524.2 382.2 527.9 379.8z"/><path color="#00008f" d="M597.5 426.9 593.8 425.2 590.2 423.5 586.5 421.7 582.8 419.9 579.2 418.1 575.5 416.2 571.8 414.3 568.2 412.3 564.5 410.3 560.8 408.2 557.2 406 553.5 403.7 549.8 401.3 546.2 398.7 542.5 395.7 538.8 392.4 535.1 388.3 537 387.8 540.7 391.8 544.4 395.2 548 398.1 551.7 400.7 555.4 403.2 559 405.5 562.7 407.7 566.4 409.8 570 411.8 573.7 413.7 577.4 415.7 581 417.5 584.7 419.4 588.4 421.2 592 422.9 595.7 424.7 599.4 426.4z"/><path color="#00009f" d="M535.1 388.3 531.5 382.9 533.4 382.3 537 387.8z"/><path color="#0000af" d="M531.5 382.9 527.8 377.8 524.1 380.9 526 380.3 529.7 377.2 533.4 382.3z"/><path color="#00009f" d="M524.1 380.9 520.5 383.4 522.4 382.8 526 380.3z"/><path color="#00008f" d="M520.5 383.4 516.8 384.6 513.1 385.1 509.5 385.2 505.8 385.1 502.1 384.8 498.5 384.3 494.8 383.8 491.1 383.1 487.5 382.4 483.8 381.6 480.1 380.8 476.5 380 472.8 379.1 469.1 378.1 465.5 377.2 461.8 376.2 458.1 375.2 454.5 374.1 450.8 373.1 452.7 372.6 456.3 373.6 460 374.6 463.7 375.6 467.3 376.6 471 377.6 474.7 378.5 478.3 379.4 482 380.3 485.7 381.1 489.3 381.9 493 382.6 496.7 383.2 500.3 383.8 504 384.2 507.7 384.6 511.4 384.7 515 384.5 518.7 384 522.4 382.8z"/><path color="#00008f" d="M595.6 427.5 592 425.8 588.3 424 584.6 422.3 581 420.5 577.3 418.6 573.6 416.8 569.9 414.8 566.3 412.9 562.6 410.9 558.9 408.8 555.3 406.6 551.6 404.3 547.9 401.8 544.3 399.2 540.6 396.3 536.9 392.9 533.3 388.9 535.1 388.3 538.8 392.4 542.5 395.7 546.2 398.7 549.8 401.3 553.5 403.7 557.2 406 560.8 408.2 564.5 410.3 568.2 412.3 571.8 414.3 575.5 416.2 579.2 418.1 582.8 419.9 586.5 421.7 590.2 423.5 593.8 425.2 597.5 426.9z"/><path color="#00009f" d="M533.3 388.9 529.6 383.5 531.5 382.9 535.1 388.3z"/><path color="#0000af" d="M529.6 383.5 525.9 378.5 522.3 381.5 524.1 380.9 527.8 377.8 531.5 382.9z"/><path color="#00009f" d="M522.3 381.5 518.6 383.9 520.5 383.4 524.1 380.9z"/><path color="#00008f" d="M518.6 383.9 514.9 385.1 511.3 385.6 507.6 385.8 503.9 385.6 500.3 385.3 496.6 384.9 492.9 384.3 489.3 383.7 485.6 383 481.9 382.2 478.3 381.4 474.6 380.5 470.9 379.6 467.3 378.7 463.6 377.7 459.9 376.7 456.3 375.7 452.6 374.7 448.9 373.7 450.8 373.1 454.5 374.1 458.1 375.2 461.8 376.2 465.5 377.2 469.1 378.1 472.8 379.1 476.5 380 480.1 380.8 483.8 381.6 487.5 382.4 491.1 383.1 494.8 383.8 498.5 384.3 502.1 384.8 505.8 385.1 509.5 385.2 513.1 385.1 516.8 384.6 520.5 383.4z"/><path color="#00008f" d="M593.7 428 590.1 426.3 586.4 424.6 582.7 422.8 579.1 421 575.4 419.2 571.7 417.3 568.1 415.4 564.4 413.4 560.7 411.4 557.1 409.3 553.4 407.1 549.7 404.8 546.1 402.4 542.4 399.8 538.7 396.8 535.1 393.5 536.9 392.9 540.6 396.3 544.3 399.2 547.9 401.8 551.6 404.3 555.3 406.6 558.9 408.8 562.6 410.9 566.3 412.9 569.9 414.8 573.6 416.8 577.3 418.6 581 420.5 584.6 422.3 588.3 424 592 425.8 595.6 427.5z"/><path color="#00009f" d="M535.1 393.5 531.4 389.4 527.7 384 529.6 383.5 533.3 388.9 536.9 392.9z"/><path color="#0000bf" d="M527.7 384 524.1 379.2 525.9 378.5 529.6 383.5z"/><path color="#0000af" d="M524.1 379.2 520.4 382.1 522.3 381.5 525.9 378.5z"/><path color="#00009f" d="M520.4 382.1 516.7 384.5 518.6 383.9 522.3 381.5z"/><path color="#00008f" d="M516.7 384.5 513.1 385.7 509.4 386.2 505.7 386.3 502.1 386.2 498.4 385.9 494.7 385.4 491.1 384.9 487.4 384.2 483.7 383.5 480.1 382.7 476.4 381.9 472.7 381 469 380.1 465.4 379.2 461.7 378.3 458 377.3 454.4 376.3 450.7 375.2 447 374.2 448.9 373.7 452.6 374.7 456.3 375.7 459.9 376.7 463.6 377.7 467.3 378.7 470.9 379.6 474.6 380.5 478.3 381.4 481.9 382.2 485.6 383 489.3 383.7 492.9 384.3 496.6 384.9 500.3 385.3 503.9 385.6 507.6 385.8 511.3 385.6 514.9 385.1 518.6 383.9z"/><path color="#00008f" d="M591.9 428.6 588.2 426.9 584.5 425.1 580.9 423.4 577.2 421.6 573.5 419.7 569.9 417.9 566.2 415.9 562.5 414 558.9 412 555.2 409.9 551.5 407.7 547.9 405.4 544.2 402.9 540.5 400.3 536.9 397.4 533.2 394 535.1 393.5 538.7 396.8 542.4 399.8 546.1 402.4 549.7 404.8 553.4 407.1 557.1 409.3 560.7 411.4 564.4 413.4 568.1 415.4 571.7 417.3 575.4 419.2 579.1 421 582.7 422.8 586.4 424.6 590.1 426.3 593.7 428z"/><path color="#00009f" d="M533.2 394 529.5 390 531.4 389.4 535.1 393.5z"/><path color="#0000af" d="M529.5 390 525.9 384.7 527.7 384 531.4 389.4z"/><path color="#0000bf" d="M525.9 384.7 522.2 379.9 518.5 382.7 520.4 382.1 524.1 379.2 527.7 384z"/><path color="#00009f" d="M518.5 382.7 514.9 385.1 511.2 386.2 513.1 385.7 516.7 384.5 520.4 382.1z"/><path color="#00008f" d="M511.2 386.2 507.5 386.8 503.8 386.9 500.2 386.7 496.5 386.4 492.8 386 489.2 385.4 485.5 384.8 481.8 384 478.2 383.3 474.5 382.5 470.8 381.6 467.2 380.7 463.5 379.8 459.8 378.8 456.2 377.8 452.5 376.8 448.8 375.8 445.2 374.7 447 374.2 450.7 375.2 454.4 376.3 458 377.3 461.7 378.3 465.4 379.2 469 380.1 472.7 381 476.4 381.9 480.1 382.7 483.7 383.5 487.4 384.2 491.1 384.9 494.7 385.4 498.4 385.9 502.1 386.2 505.7 386.3 509.4 386.2 513.1 385.7z"/><path color="#00008f" d="M590 429.2 586.3 427.4 582.7 425.7 579 423.9 575.3 422.1 571.7 420.3 568 418.4 564.3 416.5 560.7 414.5 557 412.5 553.3 410.4 549.6 408.2 546 405.9 542.3 403.5 538.6 400.9 535 397.9 536.9 397.4 540.5 400.3 544.2 402.9 547.9 405.4 551.5 407.7 555.2 409.9 558.9 412 562.5 414 566.2 415.9 569.9 417.9 573.5 419.7 577.2 421.6 580.9 423.4 584.5 425.1 588.2 426.9 591.9 428.6z"/><path color="#00009f" d="M535 397.9 531.3 394.6 527.6 390.6 529.5 390 533.2 394 536.9 397.4z"/><path color="#0000af" d="M527.6 390.6 524 385.3 525.9 384.7 529.5 390z"/><path color="#0000cf" d="M524 385.3 520.3 380.7 518.5 382 520.4 381.3 522.2 379.9 525.9 384.7z"/><path color="#0000bf" d="M518.5 382 516.6 383.3 518.5 382.7 520.4 381.3z"/><path color="#0000af" d="M516.6 383.3 513 385.6 514.9 385.1 518.5 382.7z"/><path color="#00009f" d="M513 385.6 509.3 386.8 505.6 387.3 507.5 386.8 511.2 386.2 514.9 385.1z"/><path color="#00008f" d="M505.6 387.3 502 387.4 498.3 387.3 494.6 387 491 386.5 487.3 386 483.6 385.3 480 384.6 476.3 383.8 472.6 383 469 382.1 465.3 381.2 461.6 380.3 458 379.3 454.3 378.4 450.6 377.4 447 376.3 443.3 375.3 445.2 374.7 448.8 375.8 452.5 376.8 456.2 377.8 459.8 378.8 463.5 379.8 467.2 380.7 470.8 381.6 474.5 382.5 478.2 383.3 481.8 384 485.5 384.8 489.2 385.4 492.8 386 496.5 386.4 500.2 386.7 503.8 386.9 507.5 386.8z"/><path color="#00008f" d="M588.1 429.7 584.4 428 580.8 426.3 577.1 424.5 573.4 422.7 569.8 420.9 566.1 419 562.4 417.1 558.8 415.1 555.1 413.1 551.4 411 547.8 408.8 544.1 406.5 540.4 404 536.8 401.4 538.6 400.9 542.3 403.5 546 405.9 549.6 408.2 553.3 410.4 557 412.5 560.7 414.5 564.3 416.5 568 418.4 571.7 420.3 575.3 422.1 579 423.9 582.7 425.7 586.3 427.4 590 429.2z"/><path color="#00009f" d="M536.8 401.4 533.1 398.5 529.4 395.2 525.8 391.1 527.6 390.6 531.3 394.6 535 397.9 538.6 400.9z"/><path color="#0000bf" d="M525.8 391.1 522.1 385.9 524 385.3 527.6 390.6z"/><path color="#0000cf" d="M522.1 385.9 520.3 383.7 522.1 383 524 385.3z"/><path color="#0000df" d="M520.3 383.7 518.4 381.5 516.6 382.7 518.5 382 520.3 380.7 522.1 383z"/><path color="#0000cf" d="M516.6 382.7 514.8 384 516.6 383.3 518.5 382z"/><path color="#0000af" d="M514.8 384 511.1 386.2 513 385.6 516.6 383.3z"/><path color="#00009f" d="M511.1 386.2 507.4 387.4 503.8 387.9 505.6 387.3 509.3 386.8 513 385.6z"/><path color="#00008f" d="M503.8 387.9 500.1 388 496.4 387.9 492.8 387.5 489.1 387.1 485.4 386.5 481.8 385.9 478.1 385.2 474.4 384.4 470.8 383.6 467.1 382.7 463.4 381.8 459.8 380.9 456.1 379.9 452.4 378.9 448.8 377.9 445.1 376.9 441.4 375.8 443.3 375.3 447 376.3 450.6 377.4 454.3 378.4 458 379.3 461.6 380.3 465.3 381.2 469 382.1 472.6 383 476.3 383.8 480 384.6 483.6 385.3 487.3 386 491 386.5 494.6 387 498.3 387.3 502 387.4 505.6 387.3z"/><path color="#00008f" d="M586.2 430.3 582.6 428.6 578.9 426.9 575.2 425.1 571.6 423.3 567.9 421.4 564.2 419.6 560.6 417.6 556.9 415.7 553.2 413.6 549.6 411.5 545.9 409.3 542.2 407.1 538.6 404.6 540.4 404 544.1 406.5 547.8 408.8 551.4 411 555.1 413.1 558.8 415.1 562.4 417.1 566.1 419 569.8 420.9 573.4 422.7 577.1 424.5 580.8 426.3 584.4 428 588.1 429.7z"/><path color="#00009f" d="M538.6 404.6 534.9 402 531.2 399.1 527.6 395.7 529.4 395.2 533.1 398.5 536.8 401.4 540.4 404z"/><path color="#0000af" d="M527.6 395.7 523.9 391.7 525.8 391.1 529.4 395.2z"/><path color="#0000bf" d="M523.9 391.7 520.2 386.5 522.1 385.9 525.8 391.1z"/><path color="#0000df" d="M520.2 386.5 518.4 384.4 520.3 383.7 522.1 385.9z"/><path color="#0000ef" d="M518.4 384.4 516.6 382.3 514.7 383.5 516.6 382.7 518.4 381.5 520.3 383.7z"/><path color="#0000cf" d="M514.7 383.5 512.9 384.7 514.8 384 516.6 382.7z"/><path color="#0000bf" d="M512.9 384.7 509.2 386.8 511.1 386.2 514.8 384z"/><path color="#0000af" d="M509.2 386.8 505.6 388 507.4 387.4 511.1 386.2z"/><path color="#00009f" d="M505.6 388 501.9 388.5 498.2 388.6 500.1 388 503.8 387.9 507.4 387.4z"/><path color="#00008f" d="M498.2 388.6 494.6 388.4 490.9 388.1 487.2 387.6 483.6 387.1 479.9 386.4 476.2 385.7 472.5 384.9 468.9 384.1 465.2 383.2 461.5 382.3 457.9 381.4 454.2 380.5 450.5 379.5 446.9 378.5 443.2 377.4 439.5 376.4 441.4 375.8 445.1 376.9 448.8 377.9 452.4 378.9 456.1 379.9 459.8 380.9 463.4 381.8 467.1 382.7 470.8 383.6 474.4 384.4 478.1 385.2 481.8 385.9 485.4 386.5 489.1 387.1 492.8 387.5 496.4 387.9 500.1 388z"/><path color="#00008f" d="M584.4 431 580.7 429.2 577 427.5 573.4 425.7 569.7 423.9 566 422 562.4 420.1 558.7 418.2 555 416.2 551.4 414.2 547.7 412.1 544 409.9 540.4 407.6 542.2 407.1 545.9 409.3 549.6 411.5 553.2 413.6 556.9 415.7 560.6 417.6 564.2 419.6 567.9 421.4 571.6 423.3 575.2 425.1 578.9 426.9 582.6 428.6 586.2 430.3z"/><path color="#00009f" d="M540.4 407.6 536.7 405.2 533 402.5 529.4 399.6 531.2 399.1 534.9 402 538.6 404.6 542.2 407.1z"/><path color="#0000af" d="M529.4 399.6 525.7 396.3 522 392.3 523.9 391.7 527.6 395.7 531.2 399.1z"/><path color="#0000bf" d="M522 392.3 520.2 389.7 522.1 389.1 523.9 391.7z"/><path color="#0000df" d="M520.2 389.7 518.3 387.2 520.2 386.5 522.1 389.1z"/><path color="#0000ef" d="M518.3 387.2 516.5 385.2 518.4 384.4 520.2 386.5z"/><path color="#0000ff" d="M516.5 385.2 514.7 383.2 512.8 384.3 514.7 383.5 516.6 382.3 518.4 384.4z"/><path color="#0000df" d="M512.8 384.3 511 385.4 512.9 384.7 514.7 383.5z"/><path color="#0000bf" d="M511 385.4 507.3 387.5 509.2 386.8 512.9 384.7z"/><path color="#0000af" d="M507.3 387.5 503.7 388.6 505.6 388 509.2 386.8z"/><path color="#00009f" d="M503.7 388.6 500 389 496.3 389.1 492.7 389 494.6 388.4 498.2 388.6 501.9 388.5 505.6 388z"/><path color="#00008f" d="M492.7 389 489 388.7 485.3 388.2 481.7 387.6 478 387 474.3 386.3 470.7 385.5 467 384.7 463.3 383.8 459.7 382.9 456 382 452.3 381 448.7 380 445 379 441.3 378 437.7 376.9 439.5 376.4 443.2 377.4 446.9 378.5 450.5 379.5 454.2 380.5 457.9 381.4 461.5 382.3 465.2 383.2 468.9 384.1 472.5 384.9 476.2 385.7 479.9 386.4 483.6 387.1 487.2 387.6 490.9 388.1 494.6 388.4z"/><path color="#00008f" d="M582.5 431.6 578.8 429.9 575.2 428.1 571.5 426.3 567.8 424.5 564.2 422.6 560.5 420.7 556.8 418.8 553.1 416.8 549.5 414.8 545.8 412.7 547.7 412.1 551.4 414.2 555 416.2 558.7 418.2 562.4 420.1 566 422 569.7 423.9 573.4 425.7 577 427.5 580.7 429.2 584.4 431z"/><path color="#00009f" d="M545.8 412.7 542.1 410.5 538.5 408.2 534.8 405.8 531.1 403.1 527.5 400.2 529.4 399.6 533 402.5 536.7 405.2 540.4 407.6 544 409.9 547.7 412.1z"/><path color="#0000af" d="M527.5 400.2 523.8 396.9 525.7 396.3 529.4 399.6z"/><path color="#0000bf" d="M523.8 396.9 520.1 392.9 522 392.3 525.7 396.3z"/><path color="#0000cf" d="M520.1 392.9 518.3 390.4 520.2 389.7 522 392.3z"/><path color="#0000ef" d="M518.3 390.4 516.5 387.9 518.3 387.2 520.2 389.7z"/><path color="#0000ff" d="M516.5 387.9 514.6 386 516.5 385.2 518.3 387.2z"/><path color="#0010ff" d="M514.6 386 512.8 384.1 511 385.1 512.8 384.3 514.7 383.2 516.5 385.2z"/><path color="#0000ef" d="M511 385.1 509.1 386.1 511 385.4 512.8 384.3z"/><path color="#0000df" d="M509.1 386.1 507.3 387.1 509.2 386.4 511 385.4z"/><path color="#0000cf" d="M507.3 387.1 505.5 388.1 507.3 387.5 509.2 386.4z"/><path color="#0000af" d="M505.5 388.1 501.8 389.2 498.1 389.6 500 389 503.7 388.6 507.3 387.5z"/><path color="#00009f" d="M498.1 389.6 494.5 389.7 490.8 389.6 487.1 389.3 489 388.7 492.7 389 496.3 389.1 500 389z"/><path color="#00008f" d="M487.1 389.3 483.5 388.8 479.8 388.2 476.1 387.6 472.5 386.8 468.8 386.1 465.1 385.2 461.5 384.4 457.8 383.5 454.1 382.5 450.5 381.6 446.8 380.6 443.1 379.6 439.5 378.6 435.8 377.5 437.7 376.9 441.3 378 445 379 448.7 380 452.3 381 456 382 459.7 382.9 463.3 383.8 467 384.7 470.7 385.5 474.3 386.3 478 387 481.7 387.6 485.3 388.2 489 388.7z"/><path color="#00008f" d="M580.6 432.3 576.9 430.5 573.3 428.7 569.6 426.9 565.9 425.1 562.3 423.3 558.6 421.4 554.9 419.4 551.3 417.4 553.1 416.8 556.8 418.8 560.5 420.7 564.2 422.6 567.8 424.5 571.5 426.3 575.2 428.1 578.8 429.9 582.5 431.6z"/><path color="#00009f" d="M551.3 417.4 547.6 415.4 543.9 413.3 540.3 411.1 536.6 408.8 532.9 406.3 529.3 403.7 531.1 403.1 534.8 405.8 538.5 408.2 542.1 410.5 545.8 412.7 549.5 414.8 553.1 416.8z"/><path color="#0000af" d="M529.3 403.7 525.6 400.8 521.9 397.5 523.8 396.9 527.5 400.2 531.1 403.1z"/><path color="#0000cf" d="M521.9 397.5 518.3 393.5 520.1 392.9 523.8 396.9z"/><path color="#0000df" d="M518.3 393.5 516.4 391 518.3 390.4 520.1 392.9z"/><path color="#0000ff" d="M516.4 391 514.6 388.6 516.5 387.9 518.3 390.4z"/><path color="#0010ff" d="M514.6 388.6 512.8 386.8 514.6 386 516.5 387.9z"/><path color="#0020ff" d="M512.8 386.8 510.9 385 509.1 386 511 385.1 512.8 384.1 514.6 386z"/><path color="#0000ff" d="M509.1 386 507.3 386.9 509.1 386.1 511 385.1z"/><path color="#0000df" d="M507.3 386.9 505.4 387.8 507.3 387.1 509.1 386.1z"/><path color="#0000cf" d="M505.4 387.8 503.6 388.8 505.5 388.1 507.3 387.1z"/><path color="#0000bf" d="M503.6 388.8 499.9 389.8 501.8 389.2 505.5 388.1z"/><path color="#0000af" d="M499.9 389.8 496.3 390.3 498.1 389.6 501.8 389.2z"/><path color="#00009f" d="M496.3 390.3 492.6 390.3 488.9 390.2 485.3 389.8 481.6 389.4 483.5 388.8 487.1 389.3 490.8 389.6 494.5 389.7 498.1 389.6z"/><path color="#00008f" d="M481.6 389.4 477.9 388.8 474.3 388.1 470.6 387.4 466.9 386.6 463.3 385.8 459.6 384.9 455.9 384 452.2 383.1 448.6 382.1 444.9 381.2 441.2 380.1 437.6 379.1 433.9 378.1 435.8 377.5 439.5 378.6 443.1 379.6 446.8 380.6 450.5 381.6 454.1 382.5 457.8 383.5 461.5 384.4 465.1 385.2 468.8 386.1 472.5 386.8 476.1 387.6 479.8 388.2 483.5 388.8z"/><path color="#00008f" d="M578.7 433 575.1 431.2 571.4 429.4 567.7 427.6 564.1 425.8 560.4 423.9 556.7 422 558.6 421.4 562.3 423.3 565.9 425.1 569.6 426.9 573.3 428.7 576.9 430.5 580.6 432.3z"/><path color="#00009f" d="M556.7 422 553.1 420.1 549.4 418.1 545.7 416 542.1 413.9 538.4 411.7 534.7 409.4 531.1 406.9 532.9 406.3 536.6 408.8 540.3 411.1 543.9 413.3 547.6 415.4 551.3 417.4 554.9 419.4 558.6 421.4z"/><path color="#0000af" d="M531.1 406.9 527.4 404.3 523.7 401.4 525.6 400.8 529.3 403.7 532.9 406.3z"/><path color="#0000bf" d="M523.7 401.4 520.1 398.1 521.9 397.5 525.6 400.8z"/><path color="#0000cf" d="M520.1 398.1 516.4 394.1 518.3 393.5 521.9 397.5z"/><path color="#0000ef" d="M516.4 394.1 514.6 391.7 516.4 391 518.3 393.5z"/><path color="#0010ff" d="M514.6 391.7 512.7 389.3 514.6 388.6 516.4 391z"/><path color="#0020ff" d="M512.7 389.3 510.9 387.7 512.8 386.8 514.6 388.6z"/><path color="#0040ff" d="M510.9 387.7 509.1 386.1 507.8 386.6 509.7 385.7 510.9 385 512.8 386.8z"/><path color="#0020ff" d="M507.8 386.6 506.6 387.2 508.5 386.3 509.7 385.7z"/><path color="#0010ff" d="M506.6 387.2 505.4 387.7 507.3 386.9 508.5 386.3z"/><path color="#0000ef" d="M505.4 387.7 503.6 388.6 505.4 387.8 507.3 386.9z"/><path color="#0000df" d="M503.6 388.6 501.7 389.5 503.6 388.8 505.4 387.8z"/><path color="#0000cf" d="M501.7 389.5 498.1 390.5 499.9 389.8 503.6 388.8z"/><path color="#0000af" d="M498.1 390.5 494.4 390.9 490.7 391 492.6 390.3 496.3 390.3 499.9 389.8z"/><path color="#00009f" d="M490.7 391 487 390.8 483.4 390.5 479.7 390 476 389.4 472.4 388.7 474.3 388.1 477.9 388.8 481.6 389.4 485.3 389.8 488.9 390.2 492.6 390.3z"/><path color="#00008f" d="M472.4 388.7 468.7 388 465 387.2 461.4 386.4 457.7 385.5 454 384.6 450.4 383.7 446.7 382.7 443 381.7 439.4 380.7 435.7 379.7 432 378.7 433.9 378.1 437.6 379.1 441.2 380.1 444.9 381.2 448.6 382.1 452.2 383.1 455.9 384 459.6 384.9 463.3 385.8 466.9 386.6 470.6 387.4 474.3 388.1z"/><path color="#00008f" d="M576.9 433.8 573.2 432 569.5 430.2 565.9 428.4 567.7 427.6 571.4 429.4 575.1 431.2 578.7 433z"/><path color="#00009f" d="M565.9 428.4 562.2 426.5 558.5 424.6 554.9 422.7 551.2 420.8 547.5 418.8 543.9 416.7 540.2 414.6 536.5 412.4 538.4 411.7 542.1 413.9 545.7 416 549.4 418.1 553.1 420.1 556.7 422 560.4 423.9 564.1 425.8 567.7 427.6z"/><path color="#0000af" d="M536.5 412.4 532.8 410 529.2 407.6 525.5 404.9 527.4 404.3 531.1 406.9 534.7 409.4 538.4 411.7z"/><path color="#0000bf" d="M525.5 404.9 521.8 402 523.7 401.4 527.4 404.3z"/><path color="#0000cf" d="M521.8 402 518.2 398.7 520.1 398.1 523.7 401.4z"/><path color="#0000df" d="M518.2 398.7 514.5 394.7 516.4 394.1 520.1 398.1z"/><path color="#0000ff" d="M514.5 394.7 512.7 392.4 514.6 391.7 516.4 394.1z"/><path color="#0020ff" d="M512.7 392.4 510.8 390.1 512.7 389.3 514.6 391.7z"/><path color="#0040ff" d="M510.8 390.1 509 388.6 510.9 387.7 512.7 389.3z"/><path color="#0050ff" d="M509 388.6 507.2 387.2 506 387.7 507.8 386.6 509.1 386.1 510.9 387.7z"/><path color="#0040ff" d="M506 387.7 504.7 388.2 506.6 387.2 507.8 386.6z"/><path color="#0020ff" d="M504.7 388.2 503.5 388.7 505.4 387.7 506.6 387.2z"/><path color="#0000ff" d="M503.5 388.7 501.7 389.5 503.6 388.6 505.4 387.7z"/><path color="#0000ef" d="M501.7 389.5 499.8 390.3 501.7 389.5 503.6 388.6z"/><path color="#0000cf" d="M499.8 390.3 496.2 391.2 498.1 390.5 501.7 389.5z"/><path color="#0000bf" d="M496.2 391.2 492.5 391.6 494.4 390.9 498.1 390.5z"/><path color="#0000af" d="M492.5 391.6 488.8 391.7 485.2 391.5 487 390.8 490.7 391 494.4 390.9z"/><path color="#00009f" d="M485.2 391.5 481.5 391.1 477.8 390.6 474.2 390 470.5 389.4 466.8 388.6 463.2 387.9 465 387.2 468.7 388 472.4 388.7 476 389.4 479.7 390 483.4 390.5 487 390.8z"/><path color="#00008f" d="M463.2 387.9 459.5 387 455.8 386.1 452.2 385.2 448.5 384.3 444.8 383.3 441.2 382.3 437.5 381.3 433.8 380.3 430.2 379.2 432 378.7 435.7 379.7 439.4 380.7 443 381.7 446.7 382.7 450.4 383.7 454 384.6 457.7 385.5 461.4 386.4 465 387.2z"/><path color="#00009f" d="M575 434.7 571.3 432.9 567.6 431 564 429.2 560.3 427.3 556.6 425.4 553 423.5 549.3 421.5 545.6 419.5 542 417.4 538.3 415.3 540.2 414.6 543.9 416.7 547.5 418.8 551.2 420.8 554.9 422.7 558.5 424.6 562.2 426.5 565.9 428.4 569.5 430.2 573.2 432 576.9 433.8z"/><path color="#0000af" d="M538.3 415.3 534.6 413 531 410.7 527.3 408.2 529.2 407.6 532.8 410 536.5 412.4 540.2 414.6z"/><path color="#0000bf" d="M527.3 408.2 523.6 405.6 520 402.6 521.8 402 525.5 404.9 529.2 407.6z"/><path color="#0000cf" d="M520 402.6 516.3 399.3 518.2 398.7 521.8 402z"/><path color="#0000ef" d="M516.3 399.3 514.5 397.3 516.3 396.7 518.2 398.7z"/><path color="#0000ff" d="M514.5 397.3 512.6 395.4 514.5 394.7 516.3 396.7z"/><path color="#0010ff" d="M512.6 395.4 511.4 393.9 513.3 393.2 514.5 394.7z"/><path color="#0030ff" d="M511.4 393.9 510.2 392.4 512.1 391.6 513.3 393.2z"/><path color="#0040ff" d="M510.2 392.4 509 390.9 510.8 390.1 512.1 391.6z"/><path color="#0050ff" d="M509 390.9 507.1 389.6 509 388.6 510.8 390.1z"/><path color="#0070ff" d="M507.1 389.6 505.3 388.3 507.2 387.2 509 388.6z"/><path color="#0060ff" d="M505.3 388.3 504.1 388.8 506 387.7 507.2 387.2z"/><path color="#0050ff" d="M504.1 388.8 502.9 389.2 504.7 388.2 506 387.7z"/><path color="#0030ff" d="M502.9 389.2 501.6 389.7 503.5 388.7 504.7 388.2z"/><path color="#0020ff" d="M501.6 389.7 499.8 390.4 501.7 389.5 503.5 388.7z"/><path color="#0000ff" d="M499.8 390.4 498 391.2 499.8 390.3 501.7 389.5z"/><path color="#0000df" d="M498 391.2 494.3 392 496.2 391.2 499.8 390.3z"/><path color="#0000cf" d="M494.3 392 490.6 392.3 492.5 391.6 496.2 391.2z"/><path color="#0000bf" d="M490.6 392.3 487 392.4 488.8 391.7 492.5 391.6z"/><path color="#0000af" d="M487 392.4 483.3 392.2 479.6 391.8 481.5 391.1 485.2 391.5 488.8 391.7z"/><path color="#00009f" d="M479.6 391.8 476 391.3 472.3 390.7 468.6 390 465 389.3 461.3 388.5 457.6 387.7 459.5 387 463.2 387.9 466.8 388.6 470.5 389.4 474.2 390 477.8 390.6 481.5 391.1z"/><path color="#00008f" d="M457.6 387.7 454 386.8 450.3 385.9 446.6 384.9 443 384 439.3 383 435.6 381.9 432 380.9 428.3 379.9 430.2 379.2 433.8 380.3 437.5 381.3 441.2 382.3 444.8 383.3 448.5 384.3 452.2 385.2 455.8 386.1 459.5 387z"/><path color="#00009f" d="M573.1 435.7 569.4 433.8 565.8 432 562.1 430.1 558.4 428.2 554.8 426.3 551.1 424.3 547.4 422.3 543.8 420.3 545.6 419.5 549.3 421.5 553 423.5 556.6 425.4 560.3 427.3 564 429.2 567.6 431 571.3 432.9 575 434.7z"/><path color="#0000af" d="M543.8 420.3 540.1 418.2 536.4 416 532.8 413.8 529.1 411.4 531 410.7 534.6 413 538.3 415.3 542 417.4 545.6 419.5z"/><path color="#0000bf" d="M529.1 411.4 525.4 408.9 521.8 406.2 523.6 405.6 527.3 408.2 531 410.7z"/><path color="#0000cf" d="M521.8 406.2 518.1 403.3 520 402.6 523.6 405.6z"/><path color="#0000df" d="M518.1 403.3 514.4 399.9 516.3 399.3 520 402.6z"/><path color="#0000ff" d="M514.4 399.9 512.6 398 514.5 397.3 516.3 399.3z"/><path color="#0010ff" d="M512.6 398 510.8 396 512.6 395.4 514.5 397.3z"/><path color="#0030ff" d="M510.8 396 509.5 394.6 511.4 393.9 512.6 395.4z"/><path color="#0040ff" d="M509.5 394.6 508.3 393.2 510.2 392.4 511.4 393.9z"/><path color="#0060ff" d="M508.3 393.2 507.1 391.7 509 390.9 510.2 392.4z"/><path color="#0070ff" d="M507.1 391.7 505.3 390.6 507.1 389.6 509 390.9z"/><path color="#0080ff" d="M505.3 390.6 503.4 389.5 502.2 389.9 504.1 388.8 505.3 388.3 507.1 389.6z"/><path color="#0060ff" d="M502.2 389.9 501 390.4 502.9 389.2 504.1 388.8z"/><path color="#0040ff" d="M501 390.4 499.8 390.8 501.6 389.7 502.9 389.2z"/><path color="#0030ff" d="M499.8 390.8 497.9 391.4 499.8 390.4 501.6 389.7z"/><path color="#0010ff" d="M497.9 391.4 496.1 392.1 498 391.2 499.8 390.4z"/><path color="#0000ef" d="M496.1 392.1 492.4 392.9 494.3 392 498 391.2z"/><path color="#0000cf" d="M492.4 392.9 488.8 393.2 490.6 392.3 494.3 392z"/><path color="#0000bf" d="M488.8 393.2 485.1 393.1 481.4 392.9 483.3 392.2 487 392.4 490.6 392.3z"/><path color="#0000af" d="M481.4 392.9 477.8 392.5 474.1 392 476 391.3 479.6 391.8 483.3 392.2z"/><path color="#00009f" d="M474.1 392 470.4 391.4 466.8 390.7 463.1 390 459.4 389.2 455.7 388.3 452.1 387.4 448.4 386.5 444.7 385.6 446.6 384.9 450.3 385.9 454 386.8 457.6 387.7 461.3 388.5 465 389.3 468.6 390 472.3 390.7 476 391.3z"/><path color="#00008f" d="M444.7 385.6 441.1 384.6 437.4 383.6 433.7 382.6 430.1 381.5 426.4 380.5 428.3 379.9 432 380.9 435.6 381.9 439.3 383 443 384 446.6 384.9z"/><path color="#00009f" d="M571.2 436.8 567.6 434.9 563.9 433 560.2 431.1 556.6 429.1 552.9 427.2 549.2 425.2 545.6 423.2 547.4 422.3 551.1 424.3 554.8 426.3 558.4 428.2 562.1 430.1 565.8 432 569.4 433.8 573.1 435.7z"/><path color="#0000af" d="M545.6 423.2 541.9 421.1 538.2 419 534.6 416.8 530.9 414.6 532.8 413.8 536.4 416 540.1 418.2 543.8 420.3 547.4 422.3z"/><path color="#0000bf" d="M530.9 414.6 527.2 412.2 523.6 409.7 525.4 408.9 529.1 411.4 532.8 413.8z"/><path color="#0000cf" d="M523.6 409.7 519.9 407 521.8 406.2 525.4 408.9z"/><path color="#0000df" d="M519.9 407 516.2 404 518.1 403.3 521.8 406.2z"/><path color="#0000ef" d="M516.2 404 512.6 400.6 514.4 399.9 518.1 403.3z"/><path color="#0010ff" d="M512.6 400.6 510.7 398.7 512.6 398 514.4 399.9z"/><path color="#0030ff" d="M510.7 398.7 508.9 396.7 510.8 396 512.6 398z"/><path color="#0040ff" d="M508.9 396.7 507.7 395.4 509.5 394.6 510.8 396z"/><path color="#0060ff" d="M507.7 395.4 506.4 394 508.3 393.2 509.5 394.6z"/><path color="#0080ff" d="M506.4 394 505.2 392.6 507.1 391.7 508.3 393.2z"/><path color="#009fff" d="M505.2 392.6 501.5 390.8 503.4 389.5 507.1 391.7z"/><path color="#008fff" d="M501.5 390.8 500.3 391.2 502.2 389.9 503.4 389.5z"/><path color="#0070ff" d="M500.3 391.2 499.1 391.6 501 390.4 502.2 389.9z"/><path color="#0060ff" d="M499.1 391.6 497.9 391.9 499.8 390.8 501 390.4z"/><path color="#0040ff" d="M497.9 391.9 496 392.5 497.9 391.4 499.8 390.8z"/><path color="#0020ff" d="M496 392.5 494.2 393.1 496.1 392.1 497.9 391.4z"/><path color="#0000ff" d="M494.2 393.1 492.4 393.5 494.3 392.5 496.1 392.1z"/><path color="#0000ef" d="M492.4 393.5 490.5 393.8 492.4 392.9 494.3 392.5z"/><path color="#0000df" d="M490.5 393.8 486.9 394 488.8 393.2 492.4 392.9z"/><path color="#0000cf" d="M486.9 394 483.2 394 485.1 393.1 488.8 393.2z"/><path color="#0000bf" d="M483.2 394 479.5 393.7 475.9 393.3 477.8 392.5 481.4 392.9 485.1 393.1z"/><path color="#0000af" d="M475.9 393.3 472.2 392.8 468.5 392.2 464.9 391.5 466.8 390.7 470.4 391.4 474.1 392 477.8 392.5z"/><path color="#00009f" d="M464.9 391.5 461.2 390.7 457.5 389.9 453.9 389.1 450.2 388.2 446.5 387.2 442.9 386.3 439.2 385.3 435.5 384.3 437.4 383.6 441.1 384.6 444.7 385.6 448.4 386.5 452.1 387.4 455.7 388.3 459.4 389.2 463.1 390 466.8 390.7z"/><path color="#00008f" d="M435.5 384.3 431.9 383.3 428.2 382.2 424.5 381.2 426.4 380.5 430.1 381.5 433.7 382.6 437.4 383.6z"/><path color="#00009f" d="M569.4 438 565.7 436.1 562 434.1 558.4 432.2 554.7 430.2 551 428.2 552.9 427.2 556.6 429.1 560.2 431.1 563.9 433 567.6 434.9 571.2 436.8z"/><path color="#0000af" d="M551 428.2 547.4 426.2 543.7 424.2 540 422.1 536.3 420 532.7 417.8 534.6 416.8 538.2 419 541.9 421.1 545.6 423.2 549.2 425.2 552.9 427.2z"/><path color="#0000bf" d="M532.7 417.8 529 415.5 525.3 413.1 527.2 412.2 530.9 414.6 534.6 416.8z"/><path color="#0000cf" d="M525.3 413.1 521.7 410.5 523.6 409.7 527.2 412.2z"/><path color="#0000df" d="M521.7 410.5 518 407.8 519.9 407 523.6 409.7z"/><path color="#0000ef" d="M518 407.8 514.3 404.7 516.2 404 519.9 407z"/><path color="#0000ff" d="M514.3 404.7 512.5 403 514.4 402.3 516.2 404z"/><path color="#0010ff" d="M512.5 403 510.7 401.3 512.6 400.6 514.4 402.3z"/><path color="#0030ff" d="M510.7 401.3 508.8 399.4 510.7 398.7 512.6 400.6z"/><path color="#0050ff" d="M508.8 399.4 507 397.5 508.9 396.7 510.7 398.7z"/><path color="#0060ff" d="M507 397.5 505.8 396.2 507.7 395.4 508.9 396.7z"/><path color="#0080ff" d="M505.8 396.2 504.6 394.9 506.4 394 507.7 395.4z"/><path color="#009fff" d="M504.6 394.9 503.3 393.6 505.2 392.6 506.4 394z"/><path color="#00afff" d="M503.3 393.6 499.7 392.1 498.5 392.5 500.3 391.2 501.5 390.8 505.2 392.6z"/><path color="#008fff" d="M498.5 392.5 497.2 392.9 499.1 391.6 500.3 391.2z"/><path color="#0070ff" d="M497.2 392.9 496 393.2 497.9 391.9 499.1 391.6z"/><path color="#0050ff" d="M496 393.2 494.2 393.7 496 392.5 497.9 391.9z"/><path color="#0030ff" d="M494.2 393.7 492.3 394.3 494.2 393.1 496 392.5z"/><path color="#0010ff" d="M492.3 394.3 490.5 394.6 492.4 393.5 494.2 393.1z"/><path color="#0000ff" d="M490.5 394.6 488.7 394.8 490.5 393.8 492.4 393.5z"/><path color="#0000ef" d="M488.7 394.8 485 395 486.9 394 490.5 393.8z"/><path color="#0000cf" d="M485 395 481.3 394.9 477.7 394.6 479.5 393.7 483.2 394 486.9 394z"/><path color="#0000bf" d="M477.7 394.6 474 394.2 470.3 393.7 472.2 392.8 475.9 393.3 479.5 393.7z"/><path color="#0000af" d="M470.3 393.7 466.7 393 463 392.3 459.3 391.5 461.2 390.7 464.9 391.5 468.5 392.2 472.2 392.8z"/><path color="#00009f" d="M459.3 391.5 455.7 390.7 452 389.8 448.3 388.9 444.7 388 441 387 437.3 386.1 433.7 385 430 384 426.3 383 422.7 381.9 424.5 381.2 428.2 382.2 431.9 383.3 435.5 384.3 439.2 385.3 442.9 386.3 446.5 387.2 450.2 388.2 453.9 389.1 457.5 389.9 461.2 390.7z"/><path color="#00009f" d="M567.5 439.3 563.8 437.3 560.1 435.4 556.5 433.4 552.8 431.4 554.7 430.2 558.4 432.2 562 434.1 565.7 436.1 569.4 438z"/><path color="#0000af" d="M552.8 431.4 549.1 429.4 545.5 427.4 541.8 425.3 538.1 423.2 534.5 421 536.3 420 540 422.1 543.7 424.2 547.4 426.2 551 428.2 554.7 430.2z"/><path color="#0000bf" d="M534.5 421 530.8 418.8 527.1 416.4 529 415.5 532.7 417.8 536.3 420z"/><path color="#0000cf" d="M527.1 416.4 523.5 414 519.8 411.4 521.7 410.5 525.3 413.1 529 415.5z"/><path color="#0000df" d="M519.8 411.4 516.1 408.6 518 407.8 521.7 410.5z"/><path color="#0000ff" d="M516.1 408.6 512.5 405.6 514.3 404.7 518 407.8z"/><path color="#0010ff" d="M512.5 405.6 510.6 403.8 512.5 403 514.3 404.7z"/><path color="#0030ff" d="M510.6 403.8 508.8 402.1 510.7 401.3 512.5 403z"/><path color="#0040ff" d="M508.8 402.1 507.6 400.8 509.5 400.1 510.7 401.3z"/><path color="#0050ff" d="M507.6 400.8 506.4 399.5 508.2 398.8 509.5 400.1z"/><path color="#0070ff" d="M506.4 399.5 505.1 398.2 507 397.5 508.2 398.8z"/><path color="#008fff" d="M505.1 398.2 503.9 397 505.8 396.2 507 397.5z"/><path color="#00afff" d="M503.9 397 502.7 395.8 504.6 394.9 505.8 396.2z"/><path color="#00cfff" d="M502.7 395.8 501.5 394.5 497.8 393.5 499.7 392.1 503.3 393.6 504.6 394.9z"/><path color="#00bfff" d="M497.8 393.5 496.6 393.9 498.5 392.5 499.7 392.1z"/><path color="#009fff" d="M496.6 393.9 495.4 394.2 497.2 392.9 498.5 392.5z"/><path color="#0080ff" d="M495.4 394.2 494.1 394.6 496 393.2 497.2 392.9z"/><path color="#0060ff" d="M494.1 394.6 492.3 395 494.2 393.7 496 393.2z"/><path color="#0040ff" d="M492.3 395 490.5 395.5 492.3 394.3 494.2 393.7z"/><path color="#0020ff" d="M490.5 395.5 488.6 395.7 490.5 394.6 492.3 394.3z"/><path color="#0010ff" d="M488.6 395.7 486.8 396 488.7 394.8 490.5 394.6z"/><path color="#0000ef" d="M486.8 396 483.1 396.1 485 395 488.7 394.8z"/><path color="#0000df" d="M483.1 396.1 479.5 396 481.3 394.9 485 395z"/><path color="#0000cf" d="M479.5 396 475.8 395.6 477.7 394.6 481.3 394.9z"/><path color="#0000bf" d="M475.8 395.6 472.1 395.2 468.5 394.6 464.8 394 466.7 393 470.3 393.7 474 394.2 477.7 394.6z"/><path color="#0000af" d="M464.8 394 461.1 393.2 457.5 392.4 453.8 391.6 450.1 390.7 452 389.8 455.7 390.7 459.3 391.5 463 392.3 466.7 393z"/><path color="#00009f" d="M450.1 390.7 446.5 389.8 442.8 388.8 439.1 387.9 435.4 386.9 431.8 385.9 428.1 384.8 424.4 383.8 420.8 382.7 422.7 381.9 426.3 383 430 384 433.7 385 437.3 386.1 441 387 444.7 388 448.3 388.9 452 389.8z"/><path color="#00009f" d="M565.6 440.7 561.9 438.7 558.3 436.7 554.6 434.7 556.5 433.4 560.1 435.4 563.8 437.3 567.5 439.3z"/><path color="#0000af" d="M554.6 434.7 550.9 432.7 547.3 430.7 543.6 428.6 539.9 426.5 536.3 424.4 538.1 423.2 541.8 425.3 545.5 427.4 549.1 429.4 552.8 431.4 556.5 433.4z"/><path color="#0000bf" d="M536.3 424.4 532.6 422.2 528.9 419.9 530.8 418.8 534.5 421 538.1 423.2z"/><path color="#0000cf" d="M528.9 419.9 525.3 417.5 521.6 415 523.5 414 527.1 416.4 530.8 418.8z"/><path color="#0000df" d="M521.6 415 517.9 412.4 519.8 411.4 523.5 414z"/><path color="#0000ef" d="M517.9 412.4 514.3 409.6 516.1 408.6 519.8 411.4z"/><path color="#0010ff" d="M514.3 409.6 510.6 406.5 512.5 405.6 516.1 408.6z"/><path color="#0030ff" d="M510.6 406.5 508.8 404.7 510.6 403.8 512.5 405.6z"/><path color="#0040ff" d="M508.8 404.7 506.9 402.9 508.8 402.1 510.6 403.8z"/><path color="#0060ff" d="M506.9 402.9 505.7 401.6 507.6 400.8 508.8 402.1z"/><path color="#0070ff" d="M505.7 401.6 504.5 400.3 506.4 399.5 507.6 400.8z"/><path color="#008fff" d="M504.5 400.3 503.3 399 505.1 398.2 506.4 399.5z"/><path color="#00afff" d="M503.3 399 502 397.9 503.9 397 505.1 398.2z"/><path color="#00cfff" d="M502 397.9 500.8 396.7 502.7 395.8 503.9 397z"/><path color="#00efff" d="M500.8 396.7 499.6 395.6 501.5 394.5 502.7 395.8z"/><path color="#00ffff" d="M499.6 395.6 497.8 395.3 499.6 394 501.5 394.5z"/><path color="#00efff" d="M497.8 395.3 495.9 395 497.8 393.5 499.6 394z"/><path color="#00cfff" d="M495.9 395 494.7 395.3 496.6 393.9 497.8 393.5z"/><path color="#00afff" d="M494.7 395.3 493.5 395.7 495.4 394.2 496.6 393.9z"/><path color="#008fff" d="M493.5 395.7 492.3 396 494.1 394.6 495.4 394.2z"/><path color="#0070ff" d="M492.3 396 490.4 396.4 492.3 395 494.1 394.6z"/><path color="#0040ff" d="M490.4 396.4 488.6 396.8 490.5 395.5 492.3 395z"/><path color="#0030ff" d="M488.6 396.8 486.8 397 488.6 395.7 490.5 395.5z"/><path color="#0010ff" d="M486.8 397 484.9 397.2 486.8 396 488.6 395.7z"/><path color="#0000ff" d="M484.9 397.2 481.3 397.3 483.1 396.1 486.8 396z"/><path color="#0000ef" d="M481.3 397.3 477.6 397.1 479.5 396 483.1 396.1z"/><path color="#0000df" d="M477.6 397.1 473.9 396.8 475.8 395.6 479.5 396z"/><path color="#0000cf" d="M473.9 396.8 470.2 396.3 472.1 395.2 475.8 395.6z"/><path color="#0000bf" d="M470.2 396.3 466.6 395.7 462.9 395 459.2 394.2 461.1 393.2 464.8 394 468.5 394.6 472.1 395.2z"/><path color="#0000af" d="M459.2 394.2 455.6 393.4 451.9 392.6 448.2 391.7 444.6 390.7 446.5 389.8 450.1 390.7 453.8 391.6 457.5 392.4 461.1 393.2z"/><path color="#00009f" d="M444.6 390.7 440.9 389.8 437.2 388.8 433.6 387.8 429.9 386.8 426.2 385.7 422.6 384.6 418.9 383.5 420.8 382.7 424.4 383.8 428.1 384.8 431.8 385.9 435.4 386.9 439.1 387.9 442.8 388.8 446.5 389.8z"/><path color="#00009f" d="M563.7 442.2 560.1 440.2 556.4 438.2 558.3 436.7 561.9 438.7 565.6 440.7z"/><path color="#0000af" d="M556.4 438.2 552.7 436.2 549.1 434.1 545.4 432.1 541.7 430 538.1 427.8 539.9 426.5 543.6 428.6 547.3 430.7 550.9 432.7 554.6 434.7 558.3 436.7z"/><path color="#0000bf" d="M538.1 427.8 534.4 425.7 530.7 423.4 532.6 422.2 536.3 424.4 539.9 426.5z"/><path color="#0000cf" d="M530.7 423.4 527.1 421.1 523.4 418.7 525.3 417.5 528.9 419.9 532.6 422.2z"/><path color="#0000df" d="M523.4 418.7 519.7 416.2 521.6 415 525.3 417.5z"/><path color="#0000ef" d="M519.7 416.2 516.1 413.5 517.9 412.4 521.6 415z"/><path color="#0000ff" d="M516.1 413.5 512.4 410.6 514.3 409.6 517.9 412.4z"/><path color="#0010ff" d="M512.4 410.6 510.5 409 512.4 408 514.3 409.6z"/><path color="#0020ff" d="M510.5 409 508.7 407.4 510.6 406.5 512.4 408z"/><path color="#0040ff" d="M508.7 407.4 506.9 405.6 508.8 404.7 510.6 406.5z"/><path color="#0060ff" d="M506.9 405.6 505 403.9 506.9 402.9 508.8 404.7z"/><path color="#0080ff" d="M505 403.9 503.8 402.5 505.7 401.6 506.9 402.9z"/><path color="#009fff" d="M503.8 402.5 502.6 401.2 504.5 400.3 505.7 401.6z"/><path color="#00bfff" d="M502.6 401.2 501.4 399.9 503.3 399 504.5 400.3z"/><path color="#00dfff" d="M501.4 399.9 500.2 398.8 502 397.9 503.3 399z"/><path color="#00ffff" d="M500.2 398.8 498.9 397.7 500.8 396.7 502 397.9z"/><path color="#20ffdf" d="M498.9 397.7 497.7 396.7 495.9 396.6 497.8 395.3 499.6 395.6 500.8 396.7z"/><path color="#00ffff" d="M495.9 396.6 494 396.5 495.9 395 497.8 395.3z"/><path color="#00dfff" d="M494 396.5 493.1 396.7 495 395.2 495.9 395z"/><path color="#00cfff" d="M493.1 396.7 492.2 397 494.1 395.5 495 395.2z"/><path color="#00afff" d="M492.2 397 491.3 397.3 493.2 395.7 494.1 395.5z"/><path color="#008fff" d="M491.3 397.3 490.4 397.5 492.3 396 493.2 395.7z"/><path color="#0070ff" d="M490.4 397.5 488.5 397.9 490.4 396.4 492.3 396z"/><path color="#0050ff" d="M488.5 397.9 486.7 398.3 488.6 396.8 490.4 396.4z"/><path color="#0030ff" d="M486.7 398.3 484.9 398.4 486.8 397 488.6 396.8z"/><path color="#0020ff" d="M484.9 398.4 483 398.6 484.9 397.2 486.8 397z"/><path color="#0010ff" d="M483 398.6 479.4 398.6 481.3 397.3 484.9 397.2z"/><path color="#0000ef" d="M479.4 398.6 475.7 398.4 477.6 397.1 481.3 397.3z"/><path color="#0000df" d="M475.7 398.4 472 398 473.9 396.8 477.6 397.1z"/><path color="#0000cf" d="M472 398 468.4 397.5 464.7 396.8 466.6 395.7 470.2 396.3 473.9 396.8z"/><path color="#0000bf" d="M464.7 396.8 461 396.1 457.4 395.4 453.7 394.5 455.6 393.4 459.2 394.2 462.9 395 466.6 395.7z"/><path color="#0000af" d="M453.7 394.5 450 393.7 446.4 392.7 442.7 391.8 439 390.8 435.4 389.8 437.2 388.8 440.9 389.8 444.6 390.7 448.2 391.7 451.9 392.6 455.6 393.4z"/><path color="#00009f" d="M435.4 389.8 431.7 388.8 428 387.7 424.4 386.7 420.7 385.6 417 384.5 418.9 383.5 422.6 384.6 426.2 385.7 429.9 386.8 433.6 387.8 437.2 388.8z"/><path color="#00009f" d="M561.9 443.8 558.2 441.8 554.5 439.7 556.4 438.2 560.1 440.2 563.7 442.2z"/><path color="#0000af" d="M554.5 439.7 550.8 437.7 547.2 435.6 543.5 433.5 539.8 431.4 541.7 430 545.4 432.1 549.1 434.1 552.7 436.2 556.4 438.2z"/><path color="#0000bf" d="M539.8 431.4 536.2 429.3 532.5 427.1 528.8 424.8 530.7 423.4 534.4 425.7 538.1 427.8 541.7 430z"/><path color="#0000cf" d="M528.8 424.8 525.2 422.5 521.5 420 523.4 418.7 527.1 421.1 530.7 423.4z"/><path color="#0000df" d="M521.5 420 517.8 417.5 519.7 416.2 523.4 418.7z"/><path color="#0000ef" d="M517.8 417.5 514.2 414.7 516.1 413.5 519.7 416.2z"/><path color="#0010ff" d="M514.2 414.7 510.5 411.8 512.4 410.6 516.1 413.5z"/><path color="#0020ff" d="M510.5 411.8 508.7 410.2 510.5 409 512.4 410.6z"/><path color="#0040ff" d="M508.7 410.2 506.8 408.5 508.7 407.4 510.5 409z"/><path color="#0050ff" d="M506.8 408.5 505.6 407.3 507.5 406.2 508.7 407.4z"/><path color="#0060ff" d="M505.6 407.3 504.4 406.1 506.3 405 507.5 406.2z"/><path color="#0080ff" d="M504.4 406.1 503.2 404.8 505 403.9 506.3 405z"/><path color="#008fff" d="M503.2 404.8 502.3 403.8 504.1 402.9 505 403.9z"/><path color="#00afff" d="M502.3 403.8 501.3 402.8 503.2 401.9 504.1 402.9z"/><path color="#00cfff" d="M501.3 402.8 500.4 401.8 502.3 400.9 503.2 401.9z"/><path color="#00efff" d="M500.4 401.8 499.5 400.8 501.4 399.9 502.3 400.9z"/><path color="#10ffef" d="M499.5 400.8 498.3 399.8 500.2 398.8 501.4 399.9z"/><path color="#30ffcf" d="M498.3 399.8 497.1 398.8 498.9 397.7 500.2 398.8z"/><path color="#50ffaf" d="M497.1 398.8 495.8 397.8 494.6 397.9 496.5 396.6 497.7 396.7 498.9 397.7z"/><path color="#30ffcf" d="M494.6 397.9 493.4 397.9 495.3 396.5 496.5 396.6z"/><path color="#10ffef" d="M493.4 397.9 492.2 398 494 396.5 495.3 396.5z"/><path color="#00efff" d="M492.2 398 491.3 398.3 493.1 396.7 494 396.5z"/><path color="#00dfff" d="M491.3 398.3 490.3 398.5 492.2 397 493.1 396.7z"/><path color="#00bfff" d="M490.3 398.5 489.4 398.8 491.3 397.3 492.2 397z"/><path color="#009fff" d="M489.4 398.8 488.5 399.1 490.4 397.5 491.3 397.3z"/><path color="#0080ff" d="M488.5 399.1 486.7 399.4 488.5 397.9 490.4 397.5z"/><path color="#0060ff" d="M486.7 399.4 484.8 399.8 486.7 398.3 488.5 397.9z"/><path color="#0040ff" d="M484.8 399.8 483 399.9 484.9 398.4 486.7 398.3z"/><path color="#0030ff" d="M483 399.9 481.2 400.1 483 398.6 484.9 398.4z"/><path color="#0010ff" d="M481.2 400.1 477.5 400 479.4 398.6 483 398.6z"/><path color="#0000ff" d="M477.5 400 473.8 399.8 475.7 398.4 479.4 398.6z"/><path color="#0000ef" d="M473.8 399.8 470.2 399.3 472 398 475.7 398.4z"/><path color="#0000df" d="M470.2 399.3 466.5 398.8 468.4 397.5 472 398z"/><path color="#0000cf" d="M466.5 398.8 462.8 398.1 459.2 397.4 461 396.1 464.7 396.8 468.4 397.5z"/><path color="#0000bf" d="M459.2 397.4 455.5 396.6 451.8 395.8 448.2 394.9 450 393.7 453.7 394.5 457.4 395.4 461 396.1z"/><path color="#0000af" d="M448.2 394.9 444.5 393.9 440.8 393 437.2 392 433.5 391 429.8 389.9 426.2 388.9 428 387.7 431.7 388.8 435.4 389.8 439 390.8 442.7 391.8 446.4 392.7 450 393.7z"/><path color="#00009f" d="M426.2 388.9 422.5 387.8 418.8 386.7 415.2 385.6 417 384.5 420.7 385.6 424.4 386.7 428 387.7z"/><path color="#00009f" d="M560 445.5 556.3 443.4 558.2 441.8 561.9 443.8z"/><path color="#0000af" d="M556.3 443.4 552.6 441.4 549 439.3 545.3 437.2 541.6 435.1 538 433 539.8 431.4 543.5 433.5 547.2 435.6 550.8 437.7 554.5 439.7 558.2 441.8z"/><path color="#0000bf" d="M538 433 534.3 430.8 530.6 428.6 532.5 427.1 536.2 429.3 539.8 431.4z"/><path color="#0000cf" d="M530.6 428.6 527 426.3 523.3 423.9 525.2 422.5 528.8 424.8 532.5 427.1z"/><path color="#0000df" d="M523.3 423.9 519.6 421.4 521.5 420 525.2 422.5z"/><path color="#0000ef" d="M519.6 421.4 516 418.8 517.8 417.5 521.5 420z"/><path color="#0000ff" d="M516 418.8 512.3 416.1 514.2 414.7 517.8 417.5z"/><path color="#0010ff" d="M512.3 416.1 508.6 413.1 510.5 411.8 514.2 414.7z"/><path color="#0030ff" d="M508.6 413.1 506.8 411.4 508.7 410.2 510.5 411.8z"/><path color="#0050ff" d="M506.8 411.4 505 409.7 506.8 408.5 508.7 410.2z"/><path color="#0060ff" d="M505 409.7 503.7 408.5 505.6 407.3 506.8 408.5z"/><path color="#0080ff" d="M503.7 408.5 502.5 407.2 504.4 406.1 505.6 407.3z"/><path color="#009fff" d="M502.5 407.2 501.3 405.9 503.2 404.8 504.4 406.1z"/><path color="#00bfff" d="M501.3 405.9 500.4 404.9 502.3 403.8 503.2 404.8z"/><path color="#00dfff" d="M500.4 404.9 499.5 403.8 501.3 402.8 502.3 403.8z"/><path color="#00ffff" d="M499.5 403.8 498.5 402.8 500.4 401.8 501.3 402.8z"/><path color="#20ffdf" d="M498.5 402.8 497.6 401.7 499.5 400.8 500.4 401.8z"/><path color="#40ffbf" d="M497.6 401.7 496.4 400.8 498.3 399.8 499.5 400.8z"/><path color="#50ffaf" d="M496.4 400.8 495.2 399.9 497.1 398.8 498.3 399.8z"/><path color="#70ff8f" d="M495.2 399.9 494 399 493 399.2 494.9 397.9 495.8 397.8 497.1 398.8z"/><path color="#60ff9f" d="M493 399.2 492.1 399.3 494 397.9 494.9 397.9z"/><path color="#40ffbf" d="M492.1 399.3 491.2 399.4 493.1 398 494 397.9z"/><path color="#20ffdf" d="M491.2 399.4 490.3 399.6 492.2 398 493.1 398z"/><path color="#00ffff" d="M490.3 399.6 489.4 399.9 491.3 398.3 492.2 398z"/><path color="#00dfff" d="M489.4 399.9 488.5 400.1 490.3 398.5 491.3 398.3z"/><path color="#00bfff" d="M488.5 400.1 487.5 400.4 489.4 398.8 490.3 398.5z"/><path color="#00afff" d="M487.5 400.4 486.6 400.7 488.5 399.1 489.4 398.8z"/><path color="#008fff" d="M486.6 400.7 485.4 400.9 487.3 399.3 488.5 399.1z"/><path color="#0070ff" d="M485.4 400.9 484.2 401.1 486.1 399.5 487.3 399.3z"/><path color="#0060ff" d="M484.2 401.1 483 401.4 484.8 399.8 486.1 399.5z"/><path color="#0040ff" d="M483 401.4 481.1 401.5 483 399.9 484.8 399.8z"/><path color="#0030ff" d="M481.1 401.5 479.3 401.6 481.2 400.1 483 399.9z"/><path color="#0020ff" d="M479.3 401.6 475.6 401.5 477.5 400 481.2 400.1z"/><path color="#0000ff" d="M475.6 401.5 472 401.2 473.8 399.8 477.5 400z"/><path color="#0000ef" d="M472 401.2 468.3 400.8 470.2 399.3 473.8 399.8z"/><path color="#0000df" d="M468.3 400.8 464.6 400.2 466.5 398.8 470.2 399.3z"/><path color="#0000cf" d="M464.6 400.2 461 399.5 457.3 398.8 453.6 397.9 455.5 396.6 459.2 397.4 462.8 398.1 466.5 398.8z"/><path color="#0000bf" d="M453.6 397.9 450 397.1 446.3 396.2 442.6 395.2 444.5 393.9 448.2 394.9 451.8 395.8 455.5 396.6z"/><path color="#0000af" d="M442.6 395.2 438.9 394.2 435.3 393.2 431.6 392.2 427.9 391.2 424.3 390.1 420.6 389 416.9 387.9 418.8 386.7 422.5 387.8 426.2 388.9 429.8 389.9 433.5 391 437.2 392 440.8 393 444.5 393.9z"/><path color="#00009f" d="M416.9 387.9 413.3 386.8 415.2 385.6 418.8 386.7z"/><path color="#00009f" d="M558.1 447.2 554.4 445.1 556.3 443.4 560 445.5z"/><path color="#0000af" d="M554.4 445.1 550.8 443 547.1 441 543.4 438.9 539.8 436.7 541.6 435.1 545.3 437.2 549 439.3 552.6 441.4 556.3 443.4z"/><path color="#0000bf" d="M539.8 436.7 536.1 434.6 532.4 432.4 528.8 430.1 530.6 428.6 534.3 430.8 538 433 541.6 435.1z"/><path color="#0000cf" d="M528.8 430.1 525.1 427.8 521.4 425.4 523.3 423.9 527 426.3 530.6 428.6z"/><path color="#0000df" d="M521.4 425.4 517.8 422.9 519.6 421.4 523.3 423.9z"/><path color="#0000ef" d="M517.8 422.9 514.1 420.3 516 418.8 519.6 421.4z"/><path color="#0000ff" d="M514.1 420.3 510.4 417.5 512.3 416.1 516 418.8z"/><path color="#0020ff" d="M510.4 417.5 508.6 416 510.5 414.6 512.3 416.1z"/><path color="#0030ff" d="M508.6 416 506.8 414.4 508.6 413.1 510.5 414.6z"/><path color="#0040ff" d="M506.8 414.4 504.9 412.7 506.8 411.4 508.6 413.1z"/><path color="#0060ff" d="M504.9 412.7 503.1 411 505 409.7 506.8 411.4z"/><path color="#0080ff" d="M503.1 411 501.9 409.7 503.7 408.5 505 409.7z"/><path color="#008fff" d="M501.9 409.7 500.6 408.4 502.5 407.2 503.7 408.5z"/><path color="#00afff" d="M500.6 408.4 499.4 407.1 501.3 405.9 502.5 407.2z"/><path color="#00cfff" d="M499.4 407.1 498.7 406.2 500.6 405.1 501.3 405.9z"/><path color="#00efff" d="M498.7 406.2 498 405.4 499.8 404.2 500.6 405.1z"/><path color="#10ffef" d="M498 405.4 497.2 404.5 499.1 403.4 499.8 404.2z"/><path color="#30ffcf" d="M497.2 404.5 496.5 403.6 498.4 402.6 499.1 403.4z"/><path color="#50ffaf" d="M496.5 403.6 495.8 402.8 497.6 401.7 498.4 402.6z"/><path color="#70ff8f" d="M495.8 402.8 494.5 402 496.4 400.8 497.6 401.7z"/><path color="#80ff80" d="M494.5 402 493.3 401.1 495.2 399.9 496.4 400.8z"/><path color="#9fff60" d="M493.3 401.1 492.1 400.3 491.4 400.5 493.2 399.1 494 399 495.2 399.9z"/><path color="#80ff80" d="M491.4 400.5 490.6 400.7 492.5 399.2 493.2 399.1z"/><path color="#60ff9f" d="M490.6 400.7 489.9 400.8 491.8 399.4 492.5 399.2z"/><path color="#50ffaf" d="M489.9 400.8 489.2 401 491 399.5 491.8 399.4z"/><path color="#30ffcf" d="M489.2 401 488.4 401.2 490.3 399.6 491 399.5z"/><path color="#10ffef" d="M488.4 401.2 487.5 401.5 489.4 399.9 490.3 399.6z"/><path color="#00efff" d="M487.5 401.5 486.6 401.8 488.5 400.1 489.4 399.9z"/><path color="#00cfff" d="M486.6 401.8 485.7 402.1 487.5 400.4 488.5 400.1z"/><path color="#00afff" d="M485.7 402.1 484.8 402.4 486.6 400.7 487.5 400.4z"/><path color="#008fff" d="M484.8 402.4 483.5 402.6 485.4 400.9 486.6 400.7z"/><path color="#0080ff" d="M483.5 402.6 482.3 402.8 484.2 401.1 485.4 400.9z"/><path color="#0060ff" d="M482.3 402.8 481.1 403 483 401.4 484.2 401.1z"/><path color="#0050ff" d="M481.1 403 479.2 403.1 481.1 401.5 483 401.4z"/><path color="#0030ff" d="M479.2 403.1 477.4 403.2 479.3 401.6 481.1 401.5z"/><path color="#0020ff" d="M477.4 403.2 473.7 403.1 475.6 401.5 479.3 401.6z"/><path color="#0000ff" d="M473.7 403.1 470.1 402.8 472 401.2 475.6 401.5z"/><path color="#0000ef" d="M470.1 402.8 466.4 402.3 468.3 400.8 472 401.2z"/><path color="#0000df" d="M466.4 402.3 462.7 401.7 459.1 401 461 399.5 464.6 400.2 468.3 400.8z"/><path color="#0000cf" d="M459.1 401 455.4 400.2 451.7 399.4 453.6 397.9 457.3 398.8 461 399.5z"/><path color="#0000bf" d="M451.7 399.4 448.1 398.5 444.4 397.6 440.7 396.6 437.1 395.6 438.9 394.2 442.6 395.2 446.3 396.2 450 397.1 453.6 397.9z"/><path color="#0000af" d="M437.1 395.6 433.4 394.6 429.7 393.6 426.1 392.5 422.4 391.4 418.7 390.3 415.1 389.2 411.4 388.1 413.3 386.8 416.9 387.9 420.6 389 424.3 390.1 427.9 391.2 431.6 392.2 435.3 393.2 438.9 394.2z"/><path color="#00009f" d="M556.2 448.9 552.6 446.8 554.4 445.1 558.1 447.2z"/><path color="#0000af" d="M552.6 446.8 548.9 444.8 545.2 442.7 541.6 440.5 537.9 438.4 539.8 436.7 543.4 438.9 547.1 441 550.8 443 554.4 445.1z"/><path color="#0000bf" d="M537.9 438.4 534.2 436.2 530.6 434 526.9 431.8 528.8 430.1 532.4 432.4 536.1 434.6 539.8 436.7z"/><path color="#0000cf" d="M526.9 431.8 523.2 429.4 525.1 427.8 528.8 430.1z"/><path color="#0000df" d="M523.2 429.4 519.5 427 515.9 424.5 517.8 422.9 521.4 425.4 525.1 427.8z"/><path color="#0000ef" d="M515.9 424.5 512.2 421.9 514.1 420.3 517.8 422.9z"/><path color="#0010ff" d="M512.2 421.9 508.5 419 510.4 417.5 514.1 420.3z"/><path color="#0020ff" d="M508.5 419 506.7 417.5 508.6 416 510.4 417.5z"/><path color="#0030ff" d="M506.7 417.5 504.9 415.9 506.8 414.4 508.6 416z"/><path color="#0050ff" d="M504.9 415.9 503 414.2 504.9 412.7 506.8 414.4z"/><path color="#0070ff" d="M503 414.2 501.2 412.4 503.1 411 504.9 412.7z"/><path color="#0080ff" d="M501.2 412.4 500.3 411.4 502.2 410 503.1 411z"/><path color="#009fff" d="M500.3 411.4 499.4 410.4 501.3 409.1 502.2 410z"/><path color="#00bfff" d="M499.4 410.4 498.5 409.4 500.3 408.1 501.3 409.1z"/><path color="#00cfff" d="M498.5 409.4 497.5 408.4 499.4 407.1 500.3 408.1z"/><path color="#00efff" d="M497.5 408.4 496.9 407.6 498.8 406.4 499.4 407.1z"/><path color="#10ffef" d="M496.9 407.6 496.3 406.9 498.2 405.7 498.8 406.4z"/><path color="#30ffcf" d="M496.3 406.9 495.7 406.1 497.6 404.9 498.2 405.7z"/><path color="#50ffaf" d="M495.7 406.1 495.1 405.4 497 404.2 497.6 404.9z"/><path color="#60ff9f" d="M495.1 405.4 494.5 404.6 496.4 403.5 497 404.2z"/><path color="#80ff80" d="M494.5 404.6 493.9 403.9 495.8 402.8 496.4 403.5z"/><path color="#9fff60" d="M493.9 403.9 492.7 403.1 494.5 402 495.8 402.8z"/><path color="#afff50" d="M492.7 403.1 491.4 402.4 493.3 401.1 494.5 402z"/><path color="#cfff30" d="M491.4 402.4 490.2 401.6 489.6 401.8 491.5 400.5 492.1 400.3 493.3 401.1z"/><path color="#afff50" d="M489.6 401.8 489 402 490.9 400.6 491.5 400.5z"/><path color="#8fff70" d="M489 402 488.4 402.2 490.3 400.7 490.9 400.6z"/><path color="#70ff8f" d="M488.4 402.2 487.8 402.4 489.6 400.9 490.3 400.7z"/><path color="#50ffaf" d="M487.8 402.4 487.2 402.6 489 401 489.6 400.9z"/><path color="#40ffbf" d="M487.2 402.6 486.5 402.8 488.4 401.2 489 401z"/><path color="#20ffdf" d="M486.5 402.8 485.6 403.1 487.5 401.5 488.4 401.2z"/><path color="#00ffff" d="M485.6 403.1 484.7 403.4 486.6 401.8 487.5 401.5z"/><path color="#00dfff" d="M484.7 403.4 483.8 403.7 485.7 402.1 486.6 401.8z"/><path color="#00afff" d="M483.8 403.7 482.9 404 484.8 402.4 485.7 402.1z"/><path color="#009fff" d="M482.9 404 481.7 404.3 483.5 402.6 484.8 402.4z"/><path color="#0080ff" d="M481.7 404.3 480.4 404.5 482.3 402.8 483.5 402.6z"/><path color="#0070ff" d="M480.4 404.5 479.2 404.7 481.1 403 482.3 402.8z"/><path color="#0050ff" d="M479.2 404.7 477.4 404.8 479.2 403.1 481.1 403z"/><path color="#0040ff" d="M477.4 404.8 475.5 404.8 477.4 403.2 479.2 403.1z"/><path color="#0020ff" d="M475.5 404.8 471.9 404.7 473.7 403.1 477.4 403.2z"/><path color="#0010ff" d="M471.9 404.7 468.2 404.4 470.1 402.8 473.7 403.1z"/><path color="#0000ef" d="M468.2 404.4 464.5 403.9 460.9 403.3 462.7 401.7 466.4 402.3 470.1 402.8z"/><path color="#0000df" d="M460.9 403.3 457.2 402.6 459.1 401 462.7 401.7z"/><path color="#0000cf" d="M457.2 402.6 453.5 401.8 449.9 400.9 446.2 400 448.1 398.5 451.7 399.4 455.4 400.2 459.1 401z"/><path color="#0000bf" d="M446.2 400 442.5 399.1 438.9 398.1 435.2 397.1 431.5 396.1 433.4 394.6 437.1 395.6 440.7 396.6 444.4 397.6 448.1 398.5z"/><path color="#0000af" d="M431.5 396.1 427.9 395 424.2 394 420.5 392.9 416.9 391.7 413.2 390.6 409.5 389.5 411.4 388.1 415.1 389.2 418.7 390.3 422.4 391.4 426.1 392.5 429.7 393.6 433.4 394.6z"/><path color="#00009f" d="M554.3 450.7 550.7 448.6 552.6 446.8 556.2 448.9z"/><path color="#0000af" d="M550.7 448.6 547 446.5 543.3 444.4 539.7 442.3 536 440.1 537.9 438.4 541.6 440.5 545.2 442.7 548.9 444.8 552.6 446.8z"/><path color="#0000bf" d="M536 440.1 532.3 438 528.7 435.7 525 433.5 526.9 431.8 530.6 434 534.2 436.2 537.9 438.4z"/><path color="#0000cf" d="M525 433.5 521.3 431.1 523.2 429.4 526.9 431.8z"/><path color="#0000df" d="M521.3 431.1 517.7 428.7 514 426.2 515.9 424.5 519.5 427 523.2 429.4z"/><path color="#0000ff" d="M514 426.2 510.3 423.5 512.2 421.9 515.9 424.5z"/><path color="#0010ff" d="M510.3 423.5 506.7 420.6 508.5 419 512.2 421.9z"/><path color="#0020ff" d="M506.7 420.6 504.8 419 506.7 417.5 508.5 419z"/><path color="#0040ff" d="M504.8 419 503 417.5 504.9 415.9 506.7 417.5z"/><path color="#0050ff" d="M503 417.5 501.2 415.7 503 414.2 504.9 415.9z"/><path color="#0070ff" d="M501.2 415.7 499.3 413.9 501.2 412.4 503 414.2z"/><path color="#008fff" d="M499.3 413.9 498.4 412.9 500.3 411.4 501.2 412.4z"/><path color="#00afff" d="M498.4 412.9 497.5 411.8 499.4 410.4 500.3 411.4z"/><path color="#00cfff" d="M497.5 411.8 496.6 410.8 498.5 409.4 499.4 410.4z"/><path color="#00efff" d="M496.6 410.8 495.7 409.7 497.5 408.4 498.5 409.4z"/><path color="#10ffef" d="M495.7 409.7 495.1 409.1 497 407.7 497.5 408.4z"/><path color="#20ffdf" d="M495.1 409.1 494.6 408.4 496.5 407.1 497 407.7z"/><path color="#40ffbf" d="M494.6 408.4 494.1 407.7 496 406.4 496.5 407.1z"/><path color="#60ff9f" d="M494.1 407.7 493.6 407.1 495.4 405.8 496 406.4z"/><path color="#80ff80" d="M493.6 407.1 493 406.4 494.9 405.2 495.4 405.8z"/><path color="#9fff60" d="M493 406.4 492.5 405.7 494.4 404.5 494.9 405.2z"/><path color="#bfff40" d="M492.5 405.7 492 405.1 493.9 403.9 494.4 404.5z"/><path color="#cfff30" d="M492 405.1 490.2 404 492 402.8 493.9 403.9z"/><path color="#efff10" d="M490.2 404 488.3 403 487.8 403.2 489.7 401.8 490.2 401.6 492 402.8z"/><path color="#cfff30" d="M487.8 403.2 487.3 403.4 489.2 402 489.7 401.8z"/><path color="#bfff40" d="M487.3 403.4 486.8 403.6 488.6 402.1 489.2 402z"/><path color="#9fff60" d="M486.8 403.6 486.2 403.9 488.1 402.3 488.6 402.1z"/><path color="#80ff80" d="M486.2 403.9 485.7 404.1 487.6 402.5 488.1 402.3z"/><path color="#60ff9f" d="M485.7 404.1 485.2 404.3 487.1 402.7 487.6 402.5z"/><path color="#40ffbf" d="M485.2 404.3 484.7 404.5 486.5 402.8 487.1 402.7z"/><path color="#20ffdf" d="M484.7 404.5 483.7 404.8 485.6 403.1 486.5 402.8z"/><path color="#00ffff" d="M483.7 404.8 482.8 405.1 484.7 403.4 485.6 403.1z"/><path color="#00dfff" d="M482.8 405.1 481.9 405.4 483.8 403.7 484.7 403.4z"/><path color="#00bfff" d="M481.9 405.4 481 405.8 482.9 404 483.8 403.7z"/><path color="#009fff" d="M481 405.8 479.8 406 481.7 404.3 482.9 404z"/><path color="#0080ff" d="M479.8 406 478.6 406.2 480.4 404.5 481.7 404.3z"/><path color="#0070ff" d="M478.6 406.2 477.3 406.4 479.2 404.7 480.4 404.5z"/><path color="#0050ff" d="M477.3 406.4 475.5 406.5 477.4 404.8 479.2 404.7z"/><path color="#0040ff" d="M475.5 406.5 473.7 406.5 475.5 404.8 477.4 404.8z"/><path color="#0020ff" d="M473.7 406.5 470 406.4 471.9 404.7 475.5 404.8z"/><path color="#0010ff" d="M470 406.4 466.3 406.1 468.2 404.4 471.9 404.7z"/><path color="#0000ff" d="M466.3 406.1 462.7 405.5 464.5 403.9 468.2 404.4z"/><path color="#0000ef" d="M462.7 405.5 459 404.9 460.9 403.3 464.5 403.9z"/><path color="#0000df" d="M459 404.9 455.3 404.2 451.7 403.4 453.5 401.8 457.2 402.6 460.9 403.3z"/><path color="#0000cf" d="M451.7 403.4 448 402.5 444.3 401.6 446.2 400 449.9 400.9 453.5 401.8z"/><path color="#0000bf" d="M444.3 401.6 440.7 400.7 437 399.7 433.3 398.7 429.7 397.6 426 396.6 427.9 395 431.5 396.1 435.2 397.1 438.9 398.1 442.5 399.1 446.2 400z"/><path color="#0000af" d="M426 396.6 422.3 395.5 418.7 394.4 415 393.3 411.3 392.1 407.6 391 409.5 389.5 413.2 390.6 416.9 391.7 420.5 392.9 424.2 394 427.9 395z"/><path color="#0000af" d="M552.5 452.4 548.8 450.4 545.1 448.3 541.5 446.2 537.8 444 534.1 441.9 536 440.1 539.7 442.3 543.3 444.4 547 446.5 550.7 448.6 554.3 450.7z"/><path color="#0000bf" d="M534.1 441.9 530.5 439.7 526.8 437.5 528.7 435.7 532.3 438 536 440.1z"/><path color="#0000cf" d="M526.8 437.5 523.1 435.2 519.5 432.8 521.3 431.1 525 433.5 528.7 435.7z"/><path color="#0000df" d="M519.5 432.8 515.8 430.4 517.7 428.7 521.3 431.1z"/><path color="#0000ef" d="M515.8 430.4 512.1 427.9 514 426.2 517.7 428.7z"/><path color="#0000ff" d="M512.1 427.9 508.5 425.2 510.3 423.5 514 426.2z"/><path color="#0010ff" d="M508.5 425.2 504.8 422.3 506.7 420.6 510.3 423.5z"/><path color="#0030ff" d="M504.8 422.3 503 420.7 504.8 419 506.7 420.6z"/><path color="#0040ff" d="M503 420.7 501.1 419.1 503 417.5 504.8 419z"/><path color="#0050ff" d="M501.1 419.1 499.9 417.9 501.8 416.3 503 417.5z"/><path color="#0070ff" d="M499.9 417.9 498.7 416.7 500.6 415.1 501.8 416.3z"/><path color="#0080ff" d="M498.7 416.7 497.5 415.5 499.3 413.9 500.6 415.1z"/><path color="#009fff" d="M497.5 415.5 496.5 414.4 498.4 412.9 499.3 413.9z"/><path color="#00bfff" d="M496.5 414.4 495.6 413.3 497.5 411.8 498.4 412.9z"/><path color="#00dfff" d="M495.6 413.3 494.7 412.2 496.6 410.8 497.5 411.8z"/><path color="#00ffff" d="M494.7 412.2 493.8 411.2 495.7 409.7 496.6 410.8z"/><path color="#20ffdf" d="M493.8 411.2 493.3 410.5 495.1 409.1 495.7 409.7z"/><path color="#40ffbf" d="M493.3 410.5 492.7 409.8 494.6 408.4 495.1 409.1z"/><path color="#60ff9f" d="M492.7 409.8 492.2 409.1 494.1 407.7 494.6 408.4z"/><path color="#80ff80" d="M492.2 409.1 491.7 408.4 493.6 407.1 494.1 407.7z"/><path color="#afff50" d="M491.7 408.4 491.2 407.7 493 406.4 493.6 407.1z"/><path color="#cfff30" d="M491.2 407.7 490.6 407 492.5 405.7 493 406.4z"/><path color="#efff10" d="M490.6 407 490.1 406.3 492 405.1 492.5 405.7z"/><path color="#ffef00" d="M490.1 406.3 488.3 405.4 490.2 404 492 405.1z"/><path color="#ffdf00" d="M488.3 405.4 486.5 404.4 485.9 404.7 487.8 403.2 488.3 403 490.2 404z"/><path color="#efff10" d="M485.9 404.7 485.4 404.9 487.3 403.4 487.8 403.2z"/><path color="#cfff30" d="M485.4 404.9 484.9 405.2 486.8 403.6 487.3 403.4z"/><path color="#afff50" d="M484.9 405.2 484.4 405.4 486.2 403.9 486.8 403.6z"/><path color="#8fff70" d="M484.4 405.4 483.8 405.7 485.7 404.1 486.2 403.9z"/><path color="#70ff8f" d="M483.8 405.7 483.3 405.9 485.2 404.3 485.7 404.1z"/><path color="#50ffaf" d="M483.3 405.9 482.8 406.2 484.7 404.5 485.2 404.3z"/><path color="#30ffcf" d="M482.8 406.2 482.1 406.4 483.9 404.7 484.7 404.5z"/><path color="#10ffef" d="M482.1 406.4 481.3 406.7 483.2 405 483.9 404.7z"/><path color="#00efff" d="M481.3 406.7 480.6 407 482.5 405.3 483.2 405z"/><path color="#00dfff" d="M480.6 407 479.9 407.2 481.7 405.5 482.5 405.3z"/><path color="#00bfff" d="M479.9 407.2 479.1 407.5 481 405.8 481.7 405.5z"/><path color="#009fff" d="M479.1 407.5 477.9 407.7 479.8 406 481 405.8z"/><path color="#008fff" d="M477.9 407.7 476.7 407.9 478.6 406.2 479.8 406z"/><path color="#0070ff" d="M476.7 407.9 475.5 408.1 477.3 406.4 478.6 406.2z"/><path color="#0060ff" d="M475.5 408.1 473.6 408.2 475.5 406.5 477.3 406.4z"/><path color="#0040ff" d="M473.6 408.2 471.8 408.3 473.7 406.5 475.5 406.5z"/><path color="#0030ff" d="M471.8 408.3 468.1 408.1 470 406.4 473.7 406.5z"/><path color="#0010ff" d="M468.1 408.1 464.5 407.8 466.3 406.1 470 406.4z"/><path color="#0000ff" d="M464.5 407.8 460.8 407.2 462.7 405.5 466.3 406.1z"/><path color="#0000ef" d="M460.8 407.2 457.1 406.6 459 404.9 462.7 405.5z"/><path color="#0000df" d="M457.1 406.6 453.4 405.9 449.8 405.1 451.7 403.4 455.3 404.2 459 404.9z"/><path color="#0000cf" d="M449.8 405.1 446.1 404.2 442.4 403.3 438.8 402.3 440.7 400.7 444.3 401.6 448 402.5 451.7 403.4z"/><path color="#0000bf" d="M438.8 402.3 435.1 401.3 431.4 400.3 427.8 399.3 424.1 398.2 426 396.6 429.7 397.6 433.3 398.7 437 399.7 440.7 400.7z"/><path color="#0000af" d="M424.1 398.2 420.4 397.1 416.8 396 413.1 394.9 409.4 393.7 405.8 392.5 407.6 391 411.3 392.1 415 393.3 418.7 394.4 422.3 395.5 426 396.6z"/><path color="#0000af" d="M550.6 454.2 546.9 452.1 543.3 450 539.6 447.9 535.9 445.8 532.3 443.6 534.1 441.9 537.8 444 541.5 446.2 545.1 448.3 548.8 450.4 552.5 452.4z"/><path color="#0000bf" d="M532.3 443.6 528.6 441.5 524.9 439.2 526.8 437.5 530.5 439.7 534.1 441.9z"/><path color="#0000cf" d="M524.9 439.2 521.3 436.9 517.6 434.6 519.5 432.8 523.1 435.2 526.8 437.5z"/><path color="#0000df" d="M517.6 434.6 513.9 432.1 515.8 430.4 519.5 432.8z"/><path color="#0000ef" d="M513.9 432.1 510.3 429.6 512.1 427.9 515.8 430.4z"/><path color="#0000ff" d="M510.3 429.6 506.6 426.9 508.5 425.2 512.1 427.9z"/><path color="#0010ff" d="M506.6 426.9 502.9 424 504.8 422.3 508.5 425.2z"/><path color="#0030ff" d="M502.9 424 501.1 422.4 503 420.7 504.8 422.3z"/><path color="#0040ff" d="M501.1 422.4 499.3 420.8 501.1 419.1 503 420.7z"/><path color="#0060ff" d="M499.3 420.8 498 419.5 499.9 417.9 501.1 419.1z"/><path color="#0070ff" d="M498 419.5 496.8 418.3 498.7 416.7 499.9 417.9z"/><path color="#008fff" d="M496.8 418.3 495.6 417.1 497.5 415.5 498.7 416.7z"/><path color="#00afff" d="M495.6 417.1 494.8 416.2 496.7 414.6 497.5 415.5z"/><path color="#00bfff" d="M494.8 416.2 494.1 415.3 496 413.7 496.7 414.6z"/><path color="#00dfff" d="M494.1 415.3 493.4 414.4 495.3 412.9 496 413.7z"/><path color="#00ffff" d="M493.4 414.4 492.6 413.6 494.5 412 495.3 412.9z"/><path color="#10ffef" d="M492.6 413.6 491.9 412.7 493.8 411.2 494.5 412z"/><path color="#30ffcf" d="M491.9 412.7 491.5 412.1 493.3 410.6 493.8 411.2z"/><path color="#50ffaf" d="M491.5 412.1 491 411.4 492.9 410 493.3 410.6z"/><path color="#80ff80" d="M491 411.4 490.5 410.8 492.4 409.3 492.9 410z"/><path color="#9fff60" d="M490.5 410.8 490.1 410.2 492 408.7 492.4 409.3z"/><path color="#bfff40" d="M490.1 410.2 489.6 409.5 491.5 408.1 492 408.7z"/><path color="#dfff20" d="M489.6 409.5 489.2 408.9 491 407.5 491.5 408.1z"/><path color="#ffff00" d="M489.2 408.9 488.7 408.3 490.6 406.9 491 407.5z"/><path color="#ffdf00" d="M488.7 408.3 488.2 407.6 490.1 406.3 490.6 406.9z"/><path color="#ffcf00" d="M488.2 407.6 486.4 406.8 488.3 405.4 490.1 406.3z"/><path color="#ffbf00" d="M486.4 406.8 484.6 405.9 484.1 406.2 486 404.7 486.5 404.4 488.3 405.4z"/><path color="#ffdf00" d="M484.1 406.2 483.7 406.4 485.5 404.9 486 404.7z"/><path color="#ffff00" d="M483.7 406.4 483.2 406.7 485.1 405.1 485.5 404.9z"/><path color="#dfff20" d="M483.2 406.7 482.7 406.9 484.6 405.3 485.1 405.1z"/><path color="#bfff40" d="M482.7 406.9 482.3 407.2 484.2 405.5 484.6 405.3z"/><path color="#8fff70" d="M482.3 407.2 481.8 407.4 483.7 405.7 484.2 405.5z"/><path color="#70ff8f" d="M481.8 407.4 481.4 407.6 483.2 406 483.7 405.7z"/><path color="#50ffaf" d="M481.4 407.6 480.9 407.9 482.8 406.2 483.2 406z"/><path color="#30ffcf" d="M480.9 407.9 480.2 408.2 482.1 406.4 482.8 406.2z"/><path color="#20ffdf" d="M480.2 408.2 479.4 408.4 481.3 406.7 482.1 406.4z"/><path color="#00ffff" d="M479.4 408.4 478.7 408.7 480.6 407 481.3 406.7z"/><path color="#00dfff" d="M478.7 408.7 478 409 479.9 407.2 480.6 407z"/><path color="#00bfff" d="M478 409 477.2 409.3 479.1 407.5 479.9 407.2z"/><path color="#009fff" d="M477.2 409.3 476 409.5 477.9 407.7 479.1 407.5z"/><path color="#008fff" d="M476 409.5 474.8 409.7 476.7 407.9 477.9 407.7z"/><path color="#0070ff" d="M474.8 409.7 473.6 409.9 475.5 408.1 476.7 407.9z"/><path color="#0060ff" d="M473.6 409.9 471.7 410 473.6 408.2 475.5 408.1z"/><path color="#0040ff" d="M471.7 410 469.9 410 471.8 408.3 473.6 408.2z"/><path color="#0030ff" d="M469.9 410 466.2 409.9 468.1 408.1 471.8 408.3z"/><path color="#0010ff" d="M466.2 409.9 462.6 409.5 464.5 407.8 468.1 408.1z"/><path color="#0000ff" d="M462.6 409.5 458.9 409 460.8 407.2 464.5 407.8z"/><path color="#0000ef" d="M458.9 409 455.2 408.3 457.1 406.6 460.8 407.2z"/><path color="#0000df" d="M455.2 408.3 451.6 407.6 447.9 406.8 449.8 405.1 453.4 405.9 457.1 406.6z"/><path color="#0000cf" d="M447.9 406.8 444.2 405.9 440.6 405 436.9 404 438.8 402.3 442.4 403.3 446.1 404.2 449.8 405.1z"/><path color="#0000bf" d="M436.9 404 433.2 403 429.6 402 425.9 400.9 422.2 399.9 418.6 398.8 420.4 397.1 424.1 398.2 427.8 399.3 431.4 400.3 435.1 401.3 438.8 402.3z"/><path color="#0000af" d="M418.6 398.8 414.9 397.6 411.2 396.5 407.6 395.4 403.9 394.2 405.8 392.5 409.4 393.7 413.1 394.9 416.8 396 420.4 397.1z"/><path color="#0000af" d="M548.7 456 545.1 453.9 541.4 451.8 537.7 449.7 534 447.6 530.4 445.4 532.3 443.6 535.9 445.8 539.6 447.9 543.3 450 546.9 452.1 550.6 454.2z"/><path color="#0000bf" d="M530.4 445.4 526.7 443.2 523 441 524.9 439.2 528.6 441.5 532.3 443.6z"/><path color="#0000cf" d="M523 441 519.4 438.7 515.7 436.3 517.6 434.6 521.3 436.9 524.9 439.2z"/><path color="#0000df" d="M515.7 436.3 512 433.9 513.9 432.1 517.6 434.6z"/><path color="#0000ef" d="M512 433.9 508.4 431.3 510.3 429.6 513.9 432.1z"/><path color="#0000ff" d="M508.4 431.3 504.7 428.6 506.6 426.9 510.3 429.6z"/><path color="#0010ff" d="M504.7 428.6 501 425.7 502.9 424 506.6 426.9z"/><path color="#0030ff" d="M501 425.7 499.2 424.1 501.1 422.4 502.9 424z"/><path color="#0050ff" d="M499.2 424.1 497.4 422.5 499.3 420.8 501.1 422.4z"/><path color="#0060ff" d="M497.4 422.5 496.2 421.2 498 419.5 499.3 420.8z"/><path color="#0080ff" d="M496.2 421.2 494.9 420 496.8 418.3 498 419.5z"/><path color="#008fff" d="M494.9 420 493.7 418.7 495.6 417.1 496.8 418.3z"/><path color="#00afff" d="M493.7 418.7 493 417.9 494.8 416.2 495.6 417.1z"/><path color="#00cfff" d="M493 417.9 492.2 417 494.1 415.3 494.8 416.2z"/><path color="#00efff" d="M492.2 417 491.5 416.1 493.4 414.4 494.1 415.3z"/><path color="#10ffef" d="M491.5 416.1 490.8 415.2 492.6 413.6 493.4 414.4z"/><path color="#20ffdf" d="M490.8 415.2 490 414.3 491.9 412.7 492.6 413.6z"/><path color="#40ffbf" d="M490 414.3 489.6 413.7 491.5 412.1 491.9 412.7z"/><path color="#60ff9f" d="M489.6 413.7 489.2 413.1 491.1 411.6 491.5 412.1z"/><path color="#80ff80" d="M489.2 413.1 488.8 412.5 490.7 411 491.1 411.6z"/><path color="#afff50" d="M488.8 412.5 488.4 411.9 490.3 410.4 490.7 411z"/><path color="#cfff30" d="M488.4 411.9 488 411.3 489.9 409.9 490.3 410.4z"/><path color="#efff10" d="M488 411.3 487.6 410.8 489.5 409.3 489.9 409.9z"/><path color="#ffef00" d="M487.6 410.8 487.2 410.2 489.1 408.7 489.5 409.3z"/><path color="#ffcf00" d="M487.2 410.2 486.8 409.6 488.7 408.2 489.1 408.7z"/><path color="#ffaf00" d="M486.8 409.6 486.4 409 488.2 407.6 488.7 408.2z"/><path color="#ff9f00" d="M486.4 409 482.7 407.4 482.3 407.7 484.2 406.1 484.6 405.9 488.2 407.6z"/><path color="#ffbf00" d="M482.3 407.7 481.9 407.9 483.8 406.4 484.2 406.1z"/><path color="#ffdf00" d="M481.9 407.9 481.5 408.2 483.4 406.6 483.8 406.4z"/><path color="#ffff00" d="M481.5 408.2 481.1 408.4 483 406.8 483.4 406.6z"/><path color="#dfff20" d="M481.1 408.4 480.7 408.7 482.5 407 483 406.8z"/><path color="#bfff40" d="M480.7 408.7 480.3 408.9 482.1 407.2 482.5 407z"/><path color="#9fff60" d="M480.3 408.9 479.9 409.1 481.7 407.5 482.1 407.2z"/><path color="#80ff80" d="M479.9 409.1 479.4 409.4 481.3 407.7 481.7 407.5z"/><path color="#60ff9f" d="M479.4 409.4 479 409.6 480.9 407.9 481.3 407.7z"/><path color="#40ffbf" d="M479 409.6 478.3 409.9 480.2 408.2 480.9 407.9z"/><path color="#20ffdf" d="M478.3 409.9 477.6 410.2 479.4 408.4 480.2 408.2z"/><path color="#00ffff" d="M477.6 410.2 476.8 410.5 478.7 408.7 479.4 408.4z"/><path color="#00dfff" d="M476.8 410.5 476.1 410.7 478 409 478.7 408.7z"/><path color="#00bfff" d="M476.1 410.7 475.4 411 477.2 409.3 478 409z"/><path color="#00afff" d="M475.4 411 474.1 411.2 476 409.5 477.2 409.3z"/><path color="#008fff" d="M474.1 411.2 472.9 411.4 474.8 409.7 476 409.5z"/><path color="#0070ff" d="M472.9 411.4 471.7 411.7 473.6 409.9 474.8 409.7z"/><path color="#0060ff" d="M471.7 411.7 469.9 411.7 471.7 410 473.6 409.9z"/><path color="#0040ff" d="M469.9 411.7 468 411.8 469.9 410 471.7 410z"/><path color="#0030ff" d="M468 411.8 464.4 411.6 466.2 409.9 469.9 410z"/><path color="#0010ff" d="M464.4 411.6 460.7 411.3 462.6 409.5 466.2 409.9z"/><path color="#0000ff" d="M460.7 411.3 457 410.7 458.9 409 462.6 409.5z"/><path color="#0000ef" d="M457 410.7 453.4 410.1 455.2 408.3 458.9 409z"/><path color="#0000df" d="M453.4 410.1 449.7 409.3 446 408.5 447.9 406.8 451.6 407.6 455.2 408.3z"/><path color="#0000cf" d="M446 408.5 442.4 407.7 438.7 406.7 435 405.8 436.9 404 440.6 405 444.2 405.9 447.9 406.8z"/><path color="#0000bf" d="M435 405.8 431.4 404.8 427.7 403.7 424 402.7 420.4 401.6 416.7 400.5 418.6 398.8 422.2 399.9 425.9 400.9 429.6 402 433.2 403 436.9 404z"/><path color="#0000af" d="M416.7 400.5 413 399.3 409.4 398.2 405.7 397 402 395.9 403.9 394.2 407.6 395.4 411.2 396.5 414.9 397.6 418.6 398.8z"/><path color="#0000af" d="M546.8 457.8 543.2 455.7 539.5 453.6 535.8 451.5 532.2 449.4 528.5 447.2 530.4 445.4 534 447.6 537.7 449.7 541.4 451.8 545.1 453.9 548.7 456z"/><path color="#0000bf" d="M528.5 447.2 524.8 445 521.2 442.8 523 441 526.7 443.2 530.4 445.4z"/><path color="#0000cf" d="M521.2 442.8 517.5 440.5 513.8 438.1 515.7 436.3 519.4 438.7 523 441z"/><path color="#0000df" d="M513.8 438.1 510.2 435.7 512 433.9 515.7 436.3z"/><path color="#0000ef" d="M510.2 435.7 506.5 433.1 508.4 431.3 512 433.9z"/><path color="#0000ff" d="M506.5 433.1 502.8 430.4 504.7 428.6 508.4 431.3z"/><path color="#0020ff" d="M502.8 430.4 499.2 427.4 501 425.7 504.7 428.6z"/><path color="#0030ff" d="M499.2 427.4 497.3 425.8 499.2 424.1 501 425.7z"/><path color="#0050ff" d="M497.3 425.8 495.5 424.2 497.4 422.5 499.2 424.1z"/><path color="#0060ff" d="M495.5 424.2 494.3 422.9 496.2 421.2 497.4 422.5z"/><path color="#0080ff" d="M494.3 422.9 493.1 421.7 494.9 420 496.2 421.2z"/><path color="#009fff" d="M493.1 421.7 491.8 420.5 493.7 418.7 494.9 420z"/><path color="#00afff" d="M491.8 420.5 491.1 419.5 493 417.9 493.7 418.7z"/><path color="#00cfff" d="M491.1 419.5 490.4 418.6 492.2 417 493 417.9z"/><path color="#00efff" d="M490.4 418.6 489.6 417.7 491.5 416.1 492.2 417z"/><path color="#10ffef" d="M489.6 417.7 488.9 416.8 490.8 415.2 491.5 416.1z"/><path color="#30ffcf" d="M488.9 416.8 488.2 415.9 490 414.3 490.8 415.2z"/><path color="#50ffaf" d="M488.2 415.9 487.8 415.4 489.7 413.7 490 414.3z"/><path color="#70ff8f" d="M487.8 415.4 487.4 414.8 489.3 413.2 489.7 413.7z"/><path color="#8fff70" d="M487.4 414.8 487.1 414.3 488.9 412.7 489.3 413.2z"/><path color="#afff50" d="M487.1 414.3 486.7 413.7 488.6 412.2 488.9 412.7z"/><path color="#cfff30" d="M486.7 413.7 486.3 413.2 488.2 411.6 488.6 412.2z"/><path color="#efff10" d="M486.3 413.2 486 412.6 487.8 411.1 488.2 411.6z"/><path color="#ffef00" d="M486 412.6 485.6 412.1 487.5 410.6 487.8 411.1z"/><path color="#ffcf00" d="M485.6 412.1 485.2 411.5 487.1 410.1 487.5 410.6z"/><path color="#ffaf00" d="M485.2 411.5 484.9 411 486.7 409.5 487.1 410.1z"/><path color="#ff8f00" d="M484.9 411 484.5 410.5 486.4 409 486.7 409.5z"/><path color="#ff7000" d="M484.5 410.5 480.8 409 482.7 407.4 486.4 409z"/><path color="#ff8000" d="M480.8 409 480.5 409.2 482.3 407.7 482.7 407.4z"/><path color="#ff9f00" d="M480.5 409.2 480.1 409.5 482 407.9 482.3 407.7z"/><path color="#ffbf00" d="M480.1 409.5 479.7 409.7 481.6 408.1 482 407.9z"/><path color="#ffdf00" d="M479.7 409.7 479.4 409.9 481.2 408.3 481.6 408.1z"/><path color="#ffff00" d="M479.4 409.9 479 410.2 480.9 408.5 481.2 408.3z"/><path color="#dfff20" d="M479 410.2 478.6 410.4 480.5 408.8 480.9 408.5z"/><path color="#bfff40" d="M478.6 410.4 478.3 410.7 480.1 409 480.5 408.8z"/><path color="#9fff60" d="M478.3 410.7 477.9 410.9 479.8 409.2 480.1 409z"/><path color="#80ff80" d="M477.9 410.9 477.5 411.1 479.4 409.4 479.8 409.2z"/><path color="#60ff9f" d="M477.5 411.1 477.2 411.4 479 409.6 479.4 409.4z"/><path color="#40ffbf" d="M477.2 411.4 476.4 411.7 478.3 409.9 479 409.6z"/><path color="#20ffdf" d="M476.4 411.7 475.7 411.9 477.6 410.2 478.3 409.9z"/><path color="#00ffff" d="M475.7 411.9 475 412.2 476.8 410.5 477.6 410.2z"/><path color="#00dfff" d="M475 412.2 474.2 412.5 476.1 410.7 476.8 410.5z"/><path color="#00bfff" d="M474.2 412.5 473.5 412.8 475.4 411 476.1 410.7z"/><path color="#00afff" d="M473.5 412.8 472.3 413 474.1 411.2 475.4 411z"/><path color="#008fff" d="M472.3 413 471 413.2 472.9 411.4 474.1 411.2z"/><path color="#0070ff" d="M471 413.2 469.8 413.4 471.7 411.7 472.9 411.4z"/><path color="#0060ff" d="M469.8 413.4 468 413.5 469.9 411.7 471.7 411.7z"/><path color="#0040ff" d="M468 413.5 466.2 413.6 468 411.8 469.9 411.7z"/><path color="#0030ff" d="M466.2 413.6 462.5 413.4 464.4 411.6 468 411.8z"/><path color="#0010ff" d="M462.5 413.4 458.8 413 460.7 411.3 464.4 411.6z"/><path color="#0000ff" d="M458.8 413 455.2 412.5 457 410.7 460.7 411.3z"/><path color="#0000ef" d="M455.2 412.5 451.5 411.9 453.4 410.1 457 410.7z"/><path color="#0000df" d="M451.5 411.9 447.8 411.1 444.2 410.3 446 408.5 449.7 409.3 453.4 410.1z"/><path color="#0000cf" d="M444.2 410.3 440.5 409.4 436.8 408.5 433.2 407.5 435 405.8 438.7 406.7 442.4 407.7 446 408.5z"/><path color="#0000bf" d="M433.2 407.5 429.5 406.5 425.8 405.5 422.1 404.4 418.5 403.3 414.8 402.2 411.1 401.1 413 399.3 416.7 400.5 420.4 401.6 424 402.7 427.7 403.7 431.4 404.8 435 405.8z"/><path color="#0000af" d="M411.1 401.1 407.5 399.9 403.8 398.8 400.1 397.6 402 395.9 405.7 397 409.4 398.2 413 399.3z"/><path color="#0000af" d="M545 459.6 541.3 457.5 537.6 455.4 534 453.3 530.3 451.2 526.6 449 528.5 447.2 532.2 449.4 535.8 451.5 539.5 453.6 543.2 455.7 546.8 457.8z"/><path color="#0000bf" d="M526.6 449 523 446.8 519.3 444.6 521.2 442.8 524.8 445 528.5 447.2z"/><path color="#0000cf" d="M519.3 444.6 515.6 442.3 512 439.9 513.8 438.1 517.5 440.5 521.2 442.8z"/><path color="#0000df" d="M512 439.9 508.3 437.5 510.2 435.7 513.8 438.1z"/><path color="#0000ef" d="M508.3 437.5 504.6 434.9 506.5 433.1 510.2 435.7z"/><path color="#0000ff" d="M504.6 434.9 501 432.2 502.8 430.4 506.5 433.1z"/><path color="#0020ff" d="M501 432.2 497.3 429.2 499.2 427.4 502.8 430.4z"/><path color="#0030ff" d="M497.3 429.2 495.5 427.6 497.3 425.8 499.2 427.4z"/><path color="#0050ff" d="M495.5 427.6 493.6 426 495.5 424.2 497.3 425.8z"/><path color="#0060ff" d="M493.6 426 492.4 424.7 494.3 422.9 495.5 424.2z"/><path color="#0080ff" d="M492.4 424.7 491.2 423.4 493.1 421.7 494.3 422.9z"/><path color="#009fff" d="M491.2 423.4 490 422.2 491.8 420.5 493.1 421.7z"/><path color="#00bfff" d="M490 422.2 489.2 421.3 491.1 419.5 491.8 420.5z"/><path color="#00dfff" d="M489.2 421.3 488.5 420.3 490.4 418.6 491.1 419.5z"/><path color="#00ffff" d="M488.5 420.3 487.8 419.4 489.6 417.7 490.4 418.6z"/><path color="#20ffdf" d="M487.8 419.4 487 418.5 488.9 416.8 489.6 417.7z"/><path color="#40ffbf" d="M487 418.5 486.3 417.6 488.2 415.9 488.9 416.8z"/><path color="#60ff9f" d="M486.3 417.6 486 417.1 487.8 415.4 488.2 415.9z"/><path color="#80ff80" d="M486 417.1 485.6 416.6 487.5 414.9 487.8 415.4z"/><path color="#9fff60" d="M485.6 416.6 485.3 416 487.2 414.4 487.5 414.9z"/><path color="#bfff40" d="M485.3 416 485 415.5 486.8 413.9 487.2 414.4z"/><path color="#dfff20" d="M485 415.5 484.6 415 486.5 413.4 486.8 413.9z"/><path color="#ffff00" d="M484.6 415 484.3 414.5 486.2 412.9 486.5 413.4z"/><path color="#ffdf00" d="M484.3 414.5 484 414 485.8 412.4 486.2 412.9z"/><path color="#ffbf00" d="M484 414 483.6 413.5 485.5 411.9 485.8 412.4z"/><path color="#ff9f00" d="M483.6 413.5 483.3 413 485.2 411.4 485.5 411.9z"/><path color="#ff8000" d="M483.3 413 483 412.5 484.8 410.9 485.2 411.4z"/><path color="#ff6000" d="M483 412.5 482.6 412 484.5 410.5 484.8 410.9z"/><path color="#ff5000" d="M482.6 412 479 410.6 480.8 409 484.5 410.5z"/><path color="#ff7000" d="M479 410.6 478.6 410.9 480.5 409.2 480.8 409z"/><path color="#ff8f00" d="M478.6 410.9 478.2 411.1 480.1 409.5 480.5 409.2z"/><path color="#ffaf00" d="M478.2 411.1 477.9 411.4 479.7 409.7 480.1 409.5z"/><path color="#ffcf00" d="M477.9 411.4 477.5 411.6 479.4 409.9 479.7 409.7z"/><path color="#ffef00" d="M477.5 411.6 477.1 411.9 479 410.2 479.4 409.9z"/><path color="#efff10" d="M477.1 411.9 476.8 412.1 478.6 410.4 479 410.2z"/><path color="#cfff30" d="M476.8 412.1 476.4 412.4 478.3 410.7 478.6 410.4z"/><path color="#afff50" d="M476.4 412.4 476 412.6 477.9 410.9 478.3 410.7z"/><path color="#8fff70" d="M476 412.6 475.7 412.9 477.5 411.1 477.9 410.9z"/><path color="#60ff9f" d="M475.7 412.9 475.3 413.1 477.2 411.4 477.5 411.1z"/><path color="#40ffbf" d="M475.3 413.1 474.6 413.4 476.4 411.7 477.2 411.4z"/><path color="#20ffdf" d="M474.6 413.4 473.8 413.7 475.7 411.9 476.4 411.7z"/><path color="#00ffff" d="M473.8 413.7 473.1 414 475 412.2 475.7 411.9z"/><path color="#00efff" d="M473.1 414 472.4 414.3 474.2 412.5 475 412.2z"/><path color="#00cfff" d="M472.4 414.3 471.6 414.6 473.5 412.8 474.2 412.5z"/><path color="#00afff" d="M471.6 414.6 470.4 414.8 472.3 413 473.5 412.8z"/><path color="#008fff" d="M470.4 414.8 469.2 415 471 413.2 472.3 413z"/><path color="#0080ff" d="M469.2 415 468 415.2 469.8 413.4 471 413.2z"/><path color="#0060ff" d="M468 415.2 466.1 415.3 468 413.5 469.8 413.4z"/><path color="#0050ff" d="M466.1 415.3 464.3 415.4 466.2 413.6 468 413.5z"/><path color="#0030ff" d="M464.3 415.4 460.6 415.2 462.5 413.4 466.2 413.6z"/><path color="#0010ff" d="M460.6 415.2 456.9 414.8 458.8 413 462.5 413.4z"/><path color="#0000ff" d="M456.9 414.8 453.3 414.3 455.2 412.5 458.8 413z"/><path color="#0000ef" d="M453.3 414.3 449.6 413.6 451.5 411.9 455.2 412.5z"/><path color="#0000df" d="M449.6 413.6 445.9 412.9 442.3 412.1 444.2 410.3 447.8 411.1 451.5 411.9z"/><path color="#0000cf" d="M442.3 412.1 438.6 411.2 434.9 410.3 431.3 409.3 433.2 407.5 436.8 408.5 440.5 409.4 444.2 410.3z"/><path color="#0000bf" d="M431.3 409.3 427.6 408.3 423.9 407.2 420.3 406.2 416.6 405.1 412.9 404 409.3 402.8 411.1 401.1 414.8 402.2 418.5 403.3 422.1 404.4 425.8 405.5 429.5 406.5 433.2 407.5z"/><path color="#0000af" d="M409.3 402.8 405.6 401.7 401.9 400.5 398.3 399.4 400.1 397.6 403.8 398.8 407.5 399.9 411.1 401.1z"/><path color="#0000af" d="M543.1 461.4 539.4 459.4 535.8 457.3 532.1 455.1 528.4 453 524.8 450.8 526.6 449 530.3 451.2 534 453.3 537.6 455.4 541.3 457.5 545 459.6z"/><path color="#0000bf" d="M524.8 450.8 521.1 448.6 517.4 446.4 519.3 444.6 523 446.8 526.6 449z"/><path color="#0000cf" d="M517.4 446.4 513.8 444.1 510.1 441.7 512 439.9 515.6 442.3 519.3 444.6z"/><path color="#0000df" d="M510.1 441.7 506.4 439.3 508.3 437.5 512 439.9z"/><path color="#0000ef" d="M506.4 439.3 502.7 436.7 504.6 434.9 508.3 437.5z"/><path color="#0000ff" d="M502.7 436.7 499.1 434 501 432.2 504.6 434.9z"/><path color="#0020ff" d="M499.1 434 495.4 431 497.3 429.2 501 432.2z"/><path color="#0030ff" d="M495.4 431 493.6 429.4 495.5 427.6 497.3 429.2z"/><path color="#0050ff" d="M493.6 429.4 491.7 427.7 493.6 426 495.5 427.6z"/><path color="#0070ff" d="M491.7 427.7 490.5 426.5 492.4 424.7 493.6 426z"/><path color="#0080ff" d="M490.5 426.5 489.3 425.2 491.2 423.4 492.4 424.7z"/><path color="#009fff" d="M489.3 425.2 488.1 423.9 490 422.2 491.2 423.4z"/><path color="#00bfff" d="M488.1 423.9 487.3 423 489.2 421.3 490 422.2z"/><path color="#00dfff" d="M487.3 423 486.6 422.1 488.5 420.3 489.2 421.3z"/><path color="#00ffff" d="M486.6 422.1 485.9 421.2 487.8 419.4 488.5 420.3z"/><path color="#20ffdf" d="M485.9 421.2 485.1 420.2 487 418.5 487.8 419.4z"/><path color="#40ffbf" d="M485.1 420.2 484.4 419.3 486.3 417.6 487 418.5z"/><path color="#60ff9f" d="M484.4 419.3 484.1 418.8 486 417.1 486.3 417.6z"/><path color="#8fff70" d="M484.1 418.8 483.7 418.2 485.6 416.6 486 417.1z"/><path color="#afff50" d="M483.7 418.2 483.4 417.7 485.3 416 485.6 416.6z"/><path color="#cfff30" d="M483.4 417.7 483.1 417.2 485 415.5 485.3 416z"/><path color="#efff10" d="M483.1 417.2 482.7 416.7 484.6 415 485 415.5z"/><path color="#ffef00" d="M482.7 416.7 482.4 416.1 484.3 414.5 484.6 415z"/><path color="#ffcf00" d="M482.4 416.1 482.1 415.6 484 414 484.3 414.5z"/><path color="#ffaf00" d="M482.1 415.6 481.7 415.1 483.6 413.5 484 414z"/><path color="#ff8000" d="M481.7 415.1 481.4 414.6 483.3 413 483.6 413.5z"/><path color="#ff6000" d="M481.4 414.6 481.1 414 483 412.5 483.3 413z"/><path color="#ff4000" d="M481.1 414 480.7 413.5 477.1 412.2 479 410.6 482.6 412 483 412.5z"/><path color="#ff5000" d="M477.1 412.2 476.7 412.5 478.6 410.8 479 410.6z"/><path color="#ff7000" d="M476.7 412.5 476.4 412.7 478.3 411.1 478.6 410.8z"/><path color="#ff8f00" d="M476.4 412.7 476.1 413 478 411.3 478.3 411.1z"/><path color="#ffaf00" d="M476.1 413 475.7 413.2 477.6 411.5 478 411.3z"/><path color="#ffcf00" d="M475.7 413.2 475.4 413.4 477.3 411.7 477.6 411.5z"/><path color="#ffef00" d="M475.4 413.4 475.1 413.7 477 412 477.3 411.7z"/><path color="#efff10" d="M475.1 413.7 474.7 413.9 476.6 412.2 477 412z"/><path color="#cfff30" d="M474.7 413.9 474.4 414.2 476.3 412.4 476.6 412.2z"/><path color="#afff50" d="M474.4 414.2 474.1 414.4 476 412.7 476.3 412.4z"/><path color="#8fff70" d="M474.1 414.4 473.7 414.6 475.6 412.9 476 412.7z"/><path color="#70ff8f" d="M473.7 414.6 473.4 414.9 475.3 413.1 475.6 412.9z"/><path color="#50ffaf" d="M473.4 414.9 472.7 415.2 474.6 413.4 475.3 413.1z"/><path color="#30ffcf" d="M472.7 415.2 471.9 415.5 473.8 413.7 474.6 413.4z"/><path color="#10ffef" d="M471.9 415.5 471.2 415.8 473.1 414 473.8 413.7z"/><path color="#00efff" d="M471.2 415.8 470.5 416.1 472.4 414.3 473.1 414z"/><path color="#00cfff" d="M470.5 416.1 469.7 416.4 471.6 414.6 472.4 414.3z"/><path color="#00afff" d="M469.7 416.4 468.5 416.6 470.4 414.8 471.6 414.6z"/><path color="#008fff" d="M468.5 416.6 467.3 416.8 469.2 415 470.4 414.8z"/><path color="#0080ff" d="M467.3 416.8 466.1 417 468 415.2 469.2 415z"/><path color="#0060ff" d="M466.1 417 464.2 417.1 466.1 415.3 468 415.2z"/><path color="#0050ff" d="M464.2 417.1 462.4 417.2 464.3 415.4 466.1 415.3z"/><path color="#0030ff" d="M462.4 417.2 458.7 417 460.6 415.2 464.3 415.4z"/><path color="#0010ff" d="M458.7 417 455.1 416.6 456.9 414.8 460.6 415.2z"/><path color="#0000ff" d="M455.1 416.6 451.4 416.1 453.3 414.3 456.9 414.8z"/><path color="#0000ef" d="M451.4 416.1 447.7 415.4 444.1 414.7 445.9 412.9 449.6 413.6 453.3 414.3z"/><path color="#0000df" d="M444.1 414.7 440.4 413.9 442.3 412.1 445.9 412.9z"/><path color="#0000cf" d="M440.4 413.9 436.7 413 433.1 412.1 429.4 411.1 425.7 410.1 427.6 408.3 431.3 409.3 434.9 410.3 438.6 411.2 442.3 412.1z"/><path color="#0000bf" d="M425.7 410.1 422.1 409 418.4 408 414.7 406.9 411.1 405.8 407.4 404.6 409.3 402.8 412.9 404 416.6 405.1 420.3 406.2 423.9 407.2 427.6 408.3z"/><path color="#0000af" d="M407.4 404.6 403.7 403.5 400.1 402.3 396.4 401.1 398.3 399.4 401.9 400.5 405.6 401.7 409.3 402.8z"/><path color="#0000af" d="M541.2 463.3 537.5 461.2 533.9 459.1 530.2 457 526.5 454.8 522.9 452.6 524.8 450.8 528.4 453 532.1 455.1 535.8 457.3 539.4 459.4 543.1 461.4z"/><path color="#0000bf" d="M522.9 452.6 519.2 450.4 515.5 448.2 517.4 446.4 521.1 448.6 524.8 450.8z"/><path color="#0000cf" d="M515.5 448.2 511.9 445.9 508.2 443.5 510.1 441.7 513.8 444.1 517.4 446.4z"/><path color="#0000df" d="M508.2 443.5 504.5 441.1 506.4 439.3 510.1 441.7z"/><path color="#0000ef" d="M504.5 441.1 500.9 438.5 502.7 436.7 506.4 439.3z"/><path color="#0000ff" d="M500.9 438.5 497.2 435.8 499.1 434 502.7 436.7z"/><path color="#0020ff" d="M497.2 435.8 493.5 432.8 495.4 431 499.1 434z"/><path color="#0030ff" d="M493.5 432.8 491.7 431.2 493.6 429.4 495.4 431z"/><path color="#0050ff" d="M491.7 431.2 489.9 429.5 491.7 427.7 493.6 429.4z"/><path color="#0070ff" d="M489.9 429.5 488.6 428.3 490.5 426.5 491.7 427.7z"/><path color="#0080ff" d="M488.6 428.3 487.4 427 489.3 425.2 490.5 426.5z"/><path color="#009fff" d="M487.4 427 486.2 425.7 488.1 423.9 489.3 425.2z"/><path color="#00bfff" d="M486.2 425.7 485.5 424.8 487.3 423 488.1 423.9z"/><path color="#00dfff" d="M485.5 424.8 484.7 423.8 486.6 422.1 487.3 423z"/><path color="#00ffff" d="M484.7 423.8 484 422.9 485.9 421.2 486.6 422.1z"/><path color="#30ffcf" d="M484 422.9 483.3 422 485.1 420.2 485.9 421.2z"/><path color="#50ffaf" d="M483.3 422 482.5 421 484.4 419.3 485.1 420.2z"/><path color="#70ff8f" d="M482.5 421 482.2 420.5 484.1 418.8 484.4 419.3z"/><path color="#8fff70" d="M482.2 420.5 481.9 420 483.8 418.3 484.1 418.8z"/><path color="#afff50" d="M481.9 420 481.6 419.5 483.5 417.8 483.8 418.3z"/><path color="#cfff30" d="M481.6 419.5 481.3 419 483.2 417.4 483.5 417.8z"/><path color="#efff10" d="M481.3 419 481 418.6 482.9 416.9 483.2 417.4z"/><path color="#ffef00" d="M481 418.6 480.7 418.1 482.6 416.4 482.9 416.9z"/><path color="#ffcf00" d="M480.7 418.1 480.4 417.6 482.3 415.9 482.6 416.4z"/><path color="#ffaf00" d="M480.4 417.6 480.1 417.1 482 415.4 482.3 415.9z"/><path color="#ff8f00" d="M480.1 417.1 479.8 416.6 481.7 415 482 415.4z"/><path color="#ff6000" d="M479.8 416.6 479.5 416.1 481.4 414.5 481.7 415z"/><path color="#ff4000" d="M479.5 416.1 479.2 415.6 481.1 414 481.4 414.5z"/><path color="#ff2000" d="M479.2 415.6 478.9 415.1 475.2 413.9 477.1 412.2 480.7 413.5 481.1 414z"/><path color="#ff4000" d="M475.2 413.9 474.9 414.1 476.7 412.5 477.1 412.2z"/><path color="#ff6000" d="M474.9 414.1 474.5 414.4 476.4 412.7 476.7 412.5z"/><path color="#ff8000" d="M474.5 414.4 474.2 414.6 476.1 413 476.4 412.7z"/><path color="#ff9f00" d="M474.2 414.6 473.9 414.9 475.7 413.2 476.1 413z"/><path color="#ffbf00" d="M473.9 414.9 473.5 415.1 475.4 413.4 475.7 413.2z"/><path color="#ffdf00" d="M473.5 415.1 473.2 415.4 475.1 413.7 475.4 413.4z"/><path color="#efff10" d="M473.2 415.4 472.9 415.7 474.7 413.9 475.1 413.7z"/><path color="#cfff30" d="M472.9 415.7 472.5 415.9 474.4 414.2 474.7 413.9z"/><path color="#afff50" d="M472.5 415.9 472.2 416.2 474.1 414.4 474.4 414.2z"/><path color="#8fff70" d="M472.2 416.2 471.9 416.4 473.7 414.6 474.1 414.4z"/><path color="#70ff8f" d="M471.9 416.4 471.5 416.7 473.4 414.9 473.7 414.6z"/><path color="#50ffaf" d="M471.5 416.7 470.8 417 472.7 415.2 473.4 414.9z"/><path color="#30ffcf" d="M470.8 417 470.1 417.3 471.9 415.5 472.7 415.2z"/><path color="#10ffef" d="M470.1 417.3 469.3 417.6 471.2 415.8 471.9 415.5z"/><path color="#00efff" d="M469.3 417.6 468.6 417.9 470.5 416.1 471.2 415.8z"/><path color="#00cfff" d="M468.6 417.9 467.9 418.2 469.7 416.4 470.5 416.1z"/><path color="#00afff" d="M467.9 418.2 466.6 418.4 468.5 416.6 469.7 416.4z"/><path color="#008fff" d="M466.6 418.4 465.4 418.6 467.3 416.8 468.5 416.6z"/><path color="#0080ff" d="M465.4 418.6 464.2 418.8 466.1 417 467.3 416.8z"/><path color="#0060ff" d="M464.2 418.8 462.4 418.9 464.2 417.1 466.1 417z"/><path color="#0050ff" d="M462.4 418.9 460.5 419 462.4 417.2 464.2 417.1z"/><path color="#0030ff" d="M460.5 419 456.9 418.8 458.7 417 462.4 417.2z"/><path color="#0010ff" d="M456.9 418.8 453.2 418.4 455.1 416.6 458.7 417z"/><path color="#0000ff" d="M453.2 418.4 449.5 417.9 451.4 416.1 455.1 416.6z"/><path color="#0000ef" d="M449.5 417.9 445.9 417.2 442.2 416.5 444.1 414.7 447.7 415.4 451.4 416.1z"/><path color="#0000df" d="M442.2 416.5 438.5 415.7 434.9 414.8 436.7 413 440.4 413.9 444.1 414.7z"/><path color="#0000cf" d="M434.9 414.8 431.2 413.9 427.5 412.9 423.9 411.9 425.7 410.1 429.4 411.1 433.1 412.1 436.7 413z"/><path color="#0000bf" d="M423.9 411.9 420.2 410.8 416.5 409.8 412.9 408.7 409.2 407.5 405.5 406.4 407.4 404.6 411.1 405.8 414.7 406.9 418.4 408 422.1 409 425.7 410.1z"/><path color="#0000af" d="M405.5 406.4 401.9 405.3 398.2 404.1 394.5 402.9 396.4 401.1 400.1 402.3 403.7 403.5 407.4 404.6z"/><path color="#0000af" d="M539.3 465.1 535.7 463 532 460.9 528.3 458.8 524.7 456.6 526.5 454.8 530.2 457 533.9 459.1 537.5 461.2 541.2 463.3z"/><path color="#0000bf" d="M524.7 456.6 521 454.5 517.3 452.3 513.7 450 515.5 448.2 519.2 450.4 522.9 452.6 526.5 454.8z"/><path color="#0000cf" d="M513.7 450 510 447.7 506.3 445.3 508.2 443.5 511.9 445.9 515.5 448.2z"/><path color="#0000df" d="M506.3 445.3 502.7 442.9 504.5 441.1 508.2 443.5z"/><path color="#0000ef" d="M502.7 442.9 499 440.3 500.9 438.5 504.5 441.1z"/><path color="#0000ff" d="M499 440.3 495.3 437.6 497.2 435.8 500.9 438.5z"/><path color="#0020ff" d="M495.3 437.6 491.7 434.6 493.5 432.8 497.2 435.8z"/><path color="#0040ff" d="M491.7 434.6 489.8 433 491.7 431.2 493.5 432.8z"/><path color="#0050ff" d="M489.8 433 488 431.3 489.9 429.5 491.7 431.2z"/><path color="#0070ff" d="M488 431.3 486.8 430 488.6 428.3 489.9 429.5z"/><path color="#0080ff" d="M486.8 430 485.6 428.8 487.4 427 488.6 428.3z"/><path color="#009fff" d="M485.6 428.8 484.3 427.5 486.2 425.7 487.4 427z"/><path color="#00bfff" d="M484.3 427.5 483.6 426.6 485.5 424.8 486.2 425.7z"/><path color="#00dfff" d="M483.6 426.6 482.9 425.6 484.7 423.8 485.5 424.8z"/><path color="#10ffef" d="M482.9 425.6 482.1 424.7 484 422.9 484.7 423.8z"/><path color="#30ffcf" d="M482.1 424.7 481.4 423.7 483.3 422 484 422.9z"/><path color="#50ffaf" d="M481.4 423.7 480.7 422.8 482.5 421 483.3 422z"/><path color="#70ff8f" d="M480.7 422.8 480.4 422.3 482.2 420.5 482.5 421z"/><path color="#8fff70" d="M480.4 422.3 480 421.8 481.9 420 482.2 420.5z"/><path color="#bfff40" d="M480 421.8 479.7 421.3 481.6 419.5 481.9 420z"/><path color="#dfff20" d="M479.7 421.3 479.4 420.8 481.3 419 481.6 419.5z"/><path color="#ffff00" d="M479.4 420.8 479.1 420.3 481 418.6 481.3 419z"/><path color="#ffdf00" d="M479.1 420.3 478.8 419.8 480.7 418.1 481 418.6z"/><path color="#ffbf00" d="M478.8 419.8 478.5 419.3 480.4 417.6 480.7 418.1z"/><path color="#ff8f00" d="M478.5 419.3 478.2 418.7 480.1 417.1 480.4 417.6z"/><path color="#ff7000" d="M478.2 418.7 477.9 418.2 479.8 416.6 480.1 417.1z"/><path color="#ff5000" d="M477.9 418.2 477.6 417.7 479.5 416.1 479.8 416.6z"/><path color="#ff3000" d="M477.6 417.7 477.3 417.2 479.2 415.6 479.5 416.1z"/><path color="#ff1000" d="M477.3 417.2 477 416.7 473.3 415.6 475.2 413.9 478.9 415.1 479.2 415.6z"/><path color="#ff3000" d="M473.3 415.6 473 415.8 474.9 414.1 475.2 413.9z"/><path color="#ff5000" d="M473 415.8 472.7 416 474.6 414.3 474.9 414.1z"/><path color="#ff7000" d="M472.7 416 472.4 416.3 474.3 414.6 474.6 414.3z"/><path color="#ff8f00" d="M472.4 416.3 472.1 416.5 474 414.8 474.3 414.6z"/><path color="#ffaf00" d="M472.1 416.5 471.8 416.8 473.7 415 474 414.8z"/><path color="#ffcf00" d="M471.8 416.8 471.5 417 473.4 415.3 473.7 415z"/><path color="#ffef00" d="M471.5 417 471.2 417.2 473.1 415.5 473.4 415.3z"/><path color="#efff10" d="M471.2 417.2 470.9 417.5 472.8 415.7 473.1 415.5z"/><path color="#cfff30" d="M470.9 417.5 470.6 417.7 472.5 416 472.8 415.7z"/><path color="#afff50" d="M470.6 417.7 470.3 418 472.1 416.2 472.5 416z"/><path color="#8fff70" d="M470.3 418 470 418.2 471.8 416.4 472.1 416.2z"/><path color="#70ff8f" d="M470 418.2 469.7 418.4 471.5 416.7 471.8 416.4z"/><path color="#50ffaf" d="M469.7 418.4 468.9 418.8 470.8 417 471.5 416.7z"/><path color="#30ffcf" d="M468.9 418.8 468.2 419.1 470.1 417.3 470.8 417z"/><path color="#10ffef" d="M468.2 419.1 467.5 419.4 469.3 417.6 470.1 417.3z"/><path color="#00efff" d="M467.5 419.4 466.7 419.7 468.6 417.9 469.3 417.6z"/><path color="#00cfff" d="M466.7 419.7 466 420 467.9 418.2 468.6 417.9z"/><path color="#00afff" d="M466 420 464.8 420.2 466.6 418.4 467.9 418.2z"/><path color="#008fff" d="M464.8 420.2 463.5 420.4 465.4 418.6 466.6 418.4z"/><path color="#0080ff" d="M463.5 420.4 462.3 420.6 464.2 418.8 465.4 418.6z"/><path color="#0060ff" d="M462.3 420.6 460.5 420.7 462.4 418.9 464.2 418.8z"/><path color="#0050ff" d="M460.5 420.7 458.7 420.8 460.5 419 462.4 418.9z"/><path color="#0030ff" d="M458.7 420.8 455 420.6 456.9 418.8 460.5 419z"/><path color="#0010ff" d="M455 420.6 451.3 420.2 453.2 418.4 456.9 418.8z"/><path color="#0000ff" d="M451.3 420.2 447.7 419.7 449.5 417.9 453.2 418.4z"/><path color="#0000ef" d="M447.7 419.7 444 419.1 440.3 418.3 442.2 416.5 445.9 417.2 449.5 417.9z"/><path color="#0000df" d="M440.3 418.3 436.6 417.5 433 416.6 434.9 414.8 438.5 415.7 442.2 416.5z"/><path color="#0000cf" d="M433 416.6 429.3 415.7 425.6 414.7 422 413.7 423.9 411.9 427.5 412.9 431.2 413.9 434.9 414.8z"/><path color="#0000bf" d="M422 413.7 418.3 412.6 414.6 411.6 411 410.5 407.3 409.3 403.6 408.2 405.5 406.4 409.2 407.5 412.9 408.7 416.5 409.8 420.2 410.8 423.9 411.9z"/><path color="#0000af" d="M403.6 408.2 400 407.1 396.3 405.9 392.6 404.7 394.5 402.9 398.2 404.1 401.9 405.3 405.5 406.4z"/><path color="#0000af" d="M537.5 466.9 533.8 464.8 530.1 462.7 526.5 460.6 522.8 458.4 524.7 456.6 528.3 458.8 532 460.9 535.7 463 539.3 465.1z"/><path color="#0000bf" d="M522.8 458.4 519.1 456.3 515.5 454.1 511.8 451.8 513.7 450 517.3 452.3 521 454.5 524.7 456.6z"/><path color="#0000cf" d="M511.8 451.8 508.1 449.5 504.5 447.1 506.3 445.3 510 447.7 513.7 450z"/><path color="#0000df" d="M504.5 447.1 500.8 444.7 502.7 442.9 506.3 445.3z"/><path color="#0000ef" d="M500.8 444.7 497.1 442.1 499 440.3 502.7 442.9z"/><path color="#0000ff" d="M497.1 442.1 493.5 439.4 495.3 437.6 499 440.3z"/><path color="#0020ff" d="M493.5 439.4 489.8 436.4 491.7 434.6 495.3 437.6z"/><path color="#0040ff" d="M489.8 436.4 488 434.8 489.8 433 491.7 434.6z"/><path color="#0050ff" d="M488 434.8 486.1 433.1 488 431.3 489.8 433z"/><path color="#0070ff" d="M486.1 433.1 484.9 431.8 486.8 430 488 431.3z"/><path color="#008fff" d="M484.9 431.8 483.7 430.6 485.6 428.8 486.8 430z"/><path color="#009fff" d="M483.7 430.6 482.5 429.3 484.3 427.5 485.6 428.8z"/><path color="#00bfff" d="M482.5 429.3 481.8 428.5 483.7 426.7 484.3 427.5z"/><path color="#00dfff" d="M481.8 428.5 481.2 427.7 483.1 425.9 483.7 426.7z"/><path color="#00ffff" d="M481.2 427.7 480.6 426.9 482.5 425.1 483.1 425.9z"/><path color="#20ffdf" d="M480.6 426.9 480 426.1 481.9 424.3 482.5 425.1z"/><path color="#40ffbf" d="M480 426.1 479.4 425.3 481.3 423.6 481.9 424.3z"/><path color="#50ffaf" d="M479.4 425.3 478.8 424.5 480.7 422.8 481.3 423.6z"/><path color="#70ff8f" d="M478.8 424.5 478.5 424.1 480.4 422.3 480.7 422.8z"/><path color="#9fff60" d="M478.5 424.1 478.2 423.6 480.1 421.8 480.4 422.3z"/><path color="#bfff40" d="M478.2 423.6 477.9 423.1 479.8 421.4 480.1 421.8z"/><path color="#dfff20" d="M477.9 423.1 477.7 422.6 479.5 420.9 479.8 421.4z"/><path color="#ffff00" d="M477.7 422.6 477.4 422.2 479.2 420.5 479.5 420.9z"/><path color="#ffdf00" d="M477.4 422.2 477.1 421.7 479 420 479.2 420.5z"/><path color="#ffbf00" d="M477.1 421.7 476.8 421.2 478.7 419.5 479 420z"/><path color="#ff9f00" d="M476.8 421.2 476.5 420.8 478.4 419.1 478.7 419.5z"/><path color="#ff8000" d="M476.5 420.8 476.2 420.3 478.1 418.6 478.4 419.1z"/><path color="#ff6000" d="M476.2 420.3 476 419.8 477.8 418.1 478.1 418.6z"/><path color="#ff4000" d="M476 419.8 475.7 419.3 477.6 417.7 477.8 418.1z"/><path color="#ff1000" d="M475.7 419.3 475.4 418.9 477.3 417.2 477.6 417.7z"/><path color="#ef0000" d="M475.4 418.9 475.1 418.4 473.3 417.8 475.2 416.2 477 416.7 477.3 417.2z"/><path color="#ff0000" d="M473.3 417.8 471.4 417.3 473.3 415.6 475.2 416.2z"/><path color="#ff2000" d="M471.4 417.3 471.1 417.5 473 415.8 473.3 415.6z"/><path color="#ff4000" d="M471.1 417.5 470.8 417.8 472.7 416 473 415.8z"/><path color="#ff6000" d="M470.8 417.8 470.5 418 472.4 416.3 472.7 416z"/><path color="#ff8000" d="M470.5 418 470.2 418.3 472.1 416.5 472.4 416.3z"/><path color="#ff9f00" d="M470.2 418.3 469.9 418.5 471.8 416.8 472.1 416.5z"/><path color="#ffbf00" d="M469.9 418.5 469.6 418.8 471.5 417 471.8 416.8z"/><path color="#ffdf00" d="M469.6 418.8 469.3 419 471.2 417.2 471.5 417z"/><path color="#ffff00" d="M469.3 419 469 419.2 470.9 417.5 471.2 417.2z"/><path color="#dfff20" d="M469 419.2 468.7 419.5 470.6 417.7 470.9 417.5z"/><path color="#afff50" d="M468.7 419.5 468.4 419.7 470.3 418 470.6 417.7z"/><path color="#8fff70" d="M468.4 419.7 468.1 420 470 418.2 470.3 418z"/><path color="#70ff8f" d="M468.1 420 467.8 420.2 469.7 418.4 470 418.2z"/><path color="#50ffaf" d="M467.8 420.2 467 420.5 468.9 418.8 469.7 418.4z"/><path color="#30ffcf" d="M467 420.5 466.3 420.9 468.2 419.1 468.9 418.8z"/><path color="#10ffef" d="M466.3 420.9 465.6 421.2 467.5 419.4 468.2 419.1z"/><path color="#00efff" d="M465.6 421.2 464.8 421.5 466.7 419.7 467.5 419.4z"/><path color="#00cfff" d="M464.8 421.5 464.1 421.8 466 420 466.7 419.7z"/><path color="#00afff" d="M464.1 421.8 462.9 422 464.8 420.2 466 420z"/><path color="#008fff" d="M462.9 422 461.7 422.2 463.5 420.4 464.8 420.2z"/><path color="#0080ff" d="M461.7 422.2 460.4 422.4 462.3 420.6 463.5 420.4z"/><path color="#0060ff" d="M460.4 422.4 458.6 422.5 460.5 420.7 462.3 420.6z"/><path color="#0050ff" d="M458.6 422.5 456.8 422.6 458.7 420.8 460.5 420.7z"/><path color="#0030ff" d="M456.8 422.6 453.1 422.4 455 420.6 458.7 420.8z"/><path color="#0010ff" d="M453.1 422.4 449.4 422.1 451.3 420.2 455 420.6z"/><path color="#0000ff" d="M449.4 422.1 445.8 421.5 447.7 419.7 451.3 420.2z"/><path color="#0000ef" d="M445.8 421.5 442.1 420.9 438.4 420.1 440.3 418.3 444 419.1 447.7 419.7z"/><path color="#0000df" d="M438.4 420.1 434.8 419.3 431.1 418.4 433 416.6 436.6 417.5 440.3 418.3z"/><path color="#0000cf" d="M431.1 418.4 427.4 417.5 423.8 416.5 420.1 415.5 422 413.7 425.6 414.7 429.3 415.7 433 416.6z"/><path color="#0000bf" d="M420.1 415.5 416.4 414.4 412.8 413.4 409.1 412.3 405.4 411.2 401.8 410 403.6 408.2 407.3 409.3 411 410.5 414.6 411.6 418.3 412.6 422 413.7z"/><path color="#0000af" d="M401.8 410 398.1 408.9 394.4 407.7 390.8 406.5 392.6 404.7 396.3 405.9 400 407.1 403.6 408.2z"/><path color="#0000af" d="M535.6 468.7 531.9 466.6 528.3 464.5 524.6 462.4 520.9 460.3 522.8 458.4 526.5 460.6 530.1 462.7 533.8 464.8 537.5 466.9z"/><path color="#0000bf" d="M520.9 460.3 517.3 458.1 513.6 455.9 509.9 453.6 511.8 451.8 515.5 454.1 519.1 456.3 522.8 458.4z"/><path color="#0000cf" d="M509.9 453.6 506.2 451.3 502.6 449 504.5 447.1 508.1 449.5 511.8 451.8z"/><path color="#0000df" d="M502.6 449 498.9 446.5 500.8 444.7 504.5 447.1z"/><path color="#0000ef" d="M498.9 446.5 495.2 443.9 497.1 442.1 500.8 444.7z"/><path color="#0000ff" d="M495.2 443.9 491.6 441.2 493.5 439.4 497.1 442.1z"/><path color="#0020ff" d="M491.6 441.2 487.9 438.2 489.8 436.4 493.5 439.4z"/><path color="#0040ff" d="M487.9 438.2 486.1 436.6 488 434.8 489.8 436.4z"/><path color="#0050ff" d="M486.1 436.6 484.2 434.9 486.1 433.1 488 434.8z"/><path color="#0070ff" d="M484.2 434.9 483 433.6 484.9 431.8 486.1 433.1z"/><path color="#008fff" d="M483 433.6 481.8 432.4 483.7 430.6 484.9 431.8z"/><path color="#009fff" d="M481.8 432.4 480.6 431.1 482.5 429.3 483.7 430.6z"/><path color="#00bfff" d="M480.6 431.1 480 430.3 481.8 428.5 482.5 429.3z"/><path color="#00dfff" d="M480 430.3 479.4 429.5 481.2 427.7 481.8 428.5z"/><path color="#00ffff" d="M479.4 429.5 478.7 428.7 480.6 426.9 481.2 427.7z"/><path color="#20ffdf" d="M478.7 428.7 478.1 427.9 480 426.1 480.6 426.9z"/><path color="#40ffbf" d="M478.1 427.9 477.5 427.1 479.4 425.3 480 426.1z"/><path color="#60ff9f" d="M477.5 427.1 476.9 426.3 478.8 424.5 479.4 425.3z"/><path color="#80ff80" d="M476.9 426.3 476.6 425.8 478.5 424.1 478.8 424.5z"/><path color="#9fff60" d="M476.6 425.8 476.3 425.4 478.2 423.6 478.5 424.1z"/><path color="#bfff40" d="M476.3 425.4 476.1 424.9 477.9 423.1 478.2 423.6z"/><path color="#dfff20" d="M476.1 424.9 475.8 424.4 477.7 422.6 477.9 423.1z"/><path color="#ffff00" d="M475.8 424.4 475.5 423.9 477.4 422.2 477.7 422.6z"/><path color="#ffcf00" d="M475.5 423.9 475.2 423.4 477.1 421.7 477.4 422.2z"/><path color="#ffaf00" d="M475.2 423.4 474.9 423 476.8 421.2 477.1 421.7z"/><path color="#ff8f00" d="M474.9 423 474.7 422.5 476.5 420.8 476.8 421.2z"/><path color="#ff7000" d="M474.7 422.5 474.4 422 476.2 420.3 476.5 420.8z"/><path color="#ff5000" d="M474.4 422 474.1 421.5 476 419.8 476.2 420.3z"/><path color="#ff3000" d="M474.1 421.5 473.8 421.1 475.7 419.3 476 419.8z"/><path color="#ff0000" d="M473.8 421.1 473.5 420.6 475.4 418.9 475.7 419.3z"/><path color="#df0000" d="M473.5 420.6 473.2 420.1 471.4 419.5 473.3 417.8 475.1 418.4 475.4 418.9z"/><path color="#ef0000" d="M471.4 419.5 469.6 419 471.4 417.3 473.3 417.8z"/><path color="#ff1000" d="M469.6 419 469.3 419.2 471.1 417.5 471.4 417.3z"/><path color="#ff3000" d="M469.3 419.2 469 419.5 470.8 417.8 471.1 417.5z"/><path color="#ff5000" d="M469 419.5 468.7 419.7 470.5 418 470.8 417.8z"/><path color="#ff7000" d="M468.7 419.7 468.4 420 470.2 418.3 470.5 418z"/><path color="#ff8f00" d="M468.4 420 468 420.3 469.9 418.5 470.2 418.3z"/><path color="#ffbf00" d="M468 420.3 467.7 420.5 469.6 418.8 469.9 418.5z"/><path color="#ffdf00" d="M467.7 420.5 467.4 420.8 469.3 419 469.6 418.8z"/><path color="#ffff00" d="M467.4 420.8 467.1 421 469 419.2 469.3 419z"/><path color="#dfff20" d="M467.1 421 466.8 421.3 468.7 419.5 469 419.2z"/><path color="#bfff40" d="M466.8 421.3 466.5 421.5 468.4 419.7 468.7 419.5z"/><path color="#9fff60" d="M466.5 421.5 466.2 421.8 468.1 420 468.4 419.7z"/><path color="#70ff8f" d="M466.2 421.8 465.9 422 467.8 420.2 468.1 420z"/><path color="#50ffaf" d="M465.9 422 465.2 422.3 467 420.5 467.8 420.2z"/><path color="#30ffcf" d="M465.2 422.3 464.4 422.7 466.3 420.9 467 420.5z"/><path color="#10ffef" d="M464.4 422.7 463.7 423 465.6 421.2 466.3 420.9z"/><path color="#00efff" d="M463.7 423 463 423.3 464.8 421.5 465.6 421.2z"/><path color="#00cfff" d="M463 423.3 462.2 423.6 464.1 421.8 464.8 421.5z"/><path color="#00afff" d="M462.2 423.6 461 423.8 462.9 422 464.1 421.8z"/><path color="#008fff" d="M461 423.8 459.8 424 461.7 422.2 462.9 422z"/><path color="#0080ff" d="M459.8 424 458.6 424.3 460.4 422.4 461.7 422.2z"/><path color="#0060ff" d="M458.6 424.3 456.7 424.3 458.6 422.5 460.4 422.4z"/><path color="#0050ff" d="M456.7 424.3 454.9 424.4 456.8 422.6 458.6 422.5z"/><path color="#0030ff" d="M454.9 424.4 451.2 424.3 453.1 422.4 456.8 422.6z"/><path color="#0010ff" d="M451.2 424.3 447.6 423.9 449.4 422.1 453.1 422.4z"/><path color="#0000ff" d="M447.6 423.9 443.9 423.3 445.8 421.5 449.4 422.1z"/><path color="#0000ef" d="M443.9 423.3 440.2 422.7 436.6 421.9 438.4 420.1 442.1 420.9 445.8 421.5z"/><path color="#0000df" d="M436.6 421.9 432.9 421.1 429.2 420.2 431.1 418.4 434.8 419.3 438.4 420.1z"/><path color="#0000cf" d="M429.2 420.2 425.6 419.3 421.9 418.3 418.2 417.3 420.1 415.5 423.8 416.5 427.4 417.5 431.1 418.4z"/><path color="#0000bf" d="M418.2 417.3 414.6 416.2 410.9 415.2 407.2 414.1 403.6 413 399.9 411.8 401.8 410 405.4 411.2 409.1 412.3 412.8 413.4 416.4 414.4 420.1 415.5z"/><path color="#0000af" d="M399.9 411.8 396.2 410.7 392.6 409.5 388.9 408.3 390.8 406.5 394.4 407.7 398.1 408.9 401.8 410z"/><path color="#0000af" d="M533.7 470.5 530 468.4 526.4 466.3 522.7 464.2 519 462.1 520.9 460.3 524.6 462.4 528.3 464.5 531.9 466.6 535.6 468.7z"/><path color="#0000bf" d="M519 462.1 515.4 459.9 511.7 457.7 508 455.5 509.9 453.6 513.6 455.9 517.3 458.1 520.9 460.3z"/><path color="#0000cf" d="M508 455.5 504.4 453.2 500.7 450.8 502.6 449 506.2 451.3 509.9 453.6z"/><path color="#0000df" d="M500.7 450.8 497 448.3 498.9 446.5 502.6 449z"/><path color="#0000ef" d="M497 448.3 493.4 445.7 495.2 443.9 498.9 446.5z"/><path color="#0000ff" d="M493.4 445.7 489.7 443 491.6 441.2 495.2 443.9z"/><path color="#0020ff" d="M489.7 443 486 440 487.9 438.2 491.6 441.2z"/><path color="#0040ff" d="M486 440 484.2 438.4 486.1 436.6 487.9 438.2z"/><path color="#0050ff" d="M484.2 438.4 482.4 436.7 484.2 434.9 486.1 436.6z"/><path color="#0070ff" d="M482.4 436.7 481.1 435.5 483 433.6 484.2 434.9z"/><path color="#008fff" d="M481.1 435.5 479.9 434.2 481.8 432.4 483 433.6z"/><path color="#009fff" d="M479.9 434.2 478.7 432.9 480.6 431.1 481.8 432.4z"/><path color="#00bfff" d="M478.7 432.9 478.1 432.1 480 430.3 480.6 431.1z"/><path color="#00dfff" d="M478.1 432.1 477.5 431.3 479.4 429.5 480 430.3z"/><path color="#00ffff" d="M477.5 431.3 476.9 430.5 478.7 428.7 479.4 429.5z"/><path color="#20ffdf" d="M476.9 430.5 476.3 429.7 478.1 427.9 478.7 428.7z"/><path color="#40ffbf" d="M476.3 429.7 475.6 428.9 477.5 427.1 478.1 427.9z"/><path color="#60ff9f" d="M475.6 428.9 475 428.1 476.9 426.3 477.5 427.1z"/><path color="#80ff80" d="M475 428.1 474.8 427.7 476.6 425.9 476.9 426.3z"/><path color="#9fff60" d="M474.8 427.7 474.5 427.2 476.4 425.4 476.6 425.9z"/><path color="#bfff40" d="M474.5 427.2 474.2 426.8 476.1 425 476.4 425.4z"/><path color="#dfff20" d="M474.2 426.8 474 426.3 475.9 424.5 476.1 425z"/><path color="#ffff00" d="M474 426.3 473.7 425.9 475.6 424.1 475.9 424.5z"/><path color="#ffdf00" d="M473.7 425.9 473.5 425.4 475.3 423.6 475.6 424.1z"/><path color="#ffbf00" d="M473.5 425.4 473.2 425 475.1 423.2 475.3 423.6z"/><path color="#ff9f00" d="M473.2 425 472.9 424.5 474.8 422.8 475.1 423.2z"/><path color="#ff8000" d="M472.9 424.5 472.7 424.1 474.6 422.3 474.8 422.8z"/><path color="#ff5000" d="M472.7 424.1 472.4 423.6 474.3 421.9 474.6 422.3z"/><path color="#ff3000" d="M472.4 423.6 472.2 423.2 474 421.4 474.3 421.9z"/><path color="#ff1000" d="M472.2 423.2 471.9 422.7 473.8 421 474 421.4z"/><path color="#ef0000" d="M471.9 422.7 471.6 422.3 473.5 420.5 473.8 421z"/><path color="#cf0000" d="M471.6 422.3 471.4 421.8 469.5 421.3 471.4 419.5 473.2 420.1 473.5 420.5z"/><path color="#df0000" d="M469.5 421.3 467.7 420.7 469.6 419 471.4 419.5z"/><path color="#ff0000" d="M467.7 420.7 467.4 421 469.3 419.2 469.6 419z"/><path color="#ff2000" d="M467.4 421 467.1 421.2 469 419.5 469.3 419.2z"/><path color="#ff4000" d="M467.1 421.2 466.9 421.4 468.7 419.7 469 419.5z"/><path color="#ff6000" d="M466.9 421.4 466.6 421.7 468.4 419.9 468.7 419.7z"/><path color="#ff8000" d="M466.6 421.7 466.3 421.9 468.2 420.2 468.4 419.9z"/><path color="#ff9f00" d="M466.3 421.9 466 422.2 467.9 420.4 468.2 420.2z"/><path color="#ffbf00" d="M466 422.2 465.7 422.4 467.6 420.6 467.9 420.4z"/><path color="#ffdf00" d="M465.7 422.4 465.4 422.6 467.3 420.9 467.6 420.6z"/><path color="#ffff00" d="M465.4 422.6 465.2 422.9 467 421.1 467.3 420.9z"/><path color="#dfff20" d="M465.2 422.9 464.9 423.1 466.8 421.3 467 421.1z"/><path color="#bfff40" d="M464.9 423.1 464.6 423.3 466.5 421.6 466.8 421.3z"/><path color="#8fff70" d="M464.6 423.3 464.3 423.6 466.2 421.8 466.5 421.6z"/><path color="#70ff8f" d="M464.3 423.6 464 423.8 465.9 422 466.2 421.8z"/><path color="#50ffaf" d="M464 423.8 463.3 424.1 465.2 422.3 465.9 422z"/><path color="#30ffcf" d="M463.3 424.1 462.6 424.5 464.4 422.7 465.2 422.3z"/><path color="#10ffef" d="M462.6 424.5 461.8 424.8 463.7 423 464.4 422.7z"/><path color="#00efff" d="M461.8 424.8 461.1 425.1 463 423.3 463.7 423z"/><path color="#00cfff" d="M461.1 425.1 460.4 425.4 462.2 423.6 463 423.3z"/><path color="#00afff" d="M460.4 425.4 459.1 425.6 461 423.8 462.2 423.6z"/><path color="#008fff" d="M459.1 425.6 457.9 425.9 459.8 424 461 423.8z"/><path color="#0080ff" d="M457.9 425.9 456.7 426.1 458.6 424.3 459.8 424z"/><path color="#0060ff" d="M456.7 426.1 454.9 426.2 456.7 424.3 458.6 424.3z"/><path color="#0050ff" d="M454.9 426.2 453 426.2 454.9 424.4 456.7 424.3z"/><path color="#0030ff" d="M453 426.2 449.4 426.1 451.2 424.3 454.9 424.4z"/><path color="#0010ff" d="M449.4 426.1 445.7 425.7 447.6 423.9 451.2 424.3z"/><path color="#0000ff" d="M445.7 425.7 442 425.2 443.9 423.3 447.6 423.9z"/><path color="#0000ef" d="M442 425.2 438.4 424.5 434.7 423.7 436.6 421.9 440.2 422.7 443.9 423.3z"/><path color="#0000df" d="M434.7 423.7 431 422.9 427.4 422 429.2 420.2 432.9 421.1 436.6 421.9z"/><path color="#0000cf" d="M427.4 422 423.7 421.1 420 420.1 416.4 419.1 418.2 417.3 421.9 418.3 425.6 419.3 429.2 420.2z"/><path color="#0000bf" d="M416.4 419.1 412.7 418.1 409 417 405.3 415.9 401.7 414.8 398 413.6 399.9 411.8 403.6 413 407.2 414.1 410.9 415.2 414.6 416.2 418.2 417.3z"/><path color="#0000af" d="M398 413.6 394.3 412.5 390.7 411.3 387 410.1 388.9 408.3 392.6 409.5 396.2 410.7 399.9 411.8z"/><path color="#0000af" d="M531.8 472.3 528.2 470.3 524.5 468.2 520.8 466 517.2 463.9 519 462.1 522.7 464.2 526.4 466.3 530 468.4 533.7 470.5z"/><path color="#0000bf" d="M517.2 463.9 513.5 461.7 509.8 459.5 506.2 457.3 508 455.5 511.7 457.7 515.4 459.9 519 462.1z"/><path color="#0000cf" d="M506.2 457.3 502.5 455 498.8 452.6 500.7 450.8 504.4 453.2 508 455.5z"/><path color="#0000df" d="M498.8 452.6 495.2 450.1 497 448.3 500.7 450.8z"/><path color="#0000ef" d="M495.2 450.1 491.5 447.6 493.4 445.7 497 448.3z"/><path color="#0000ff" d="M491.5 447.6 487.8 444.8 489.7 443 493.4 445.7z"/><path color="#0020ff" d="M487.8 444.8 484.2 441.8 486 440 489.7 443z"/><path color="#0040ff" d="M484.2 441.8 482.3 440.2 484.2 438.4 486 440z"/><path color="#0050ff" d="M482.3 440.2 480.5 438.5 482.4 436.7 484.2 438.4z"/><path color="#0070ff" d="M480.5 438.5 479.3 437.3 481.1 435.5 482.4 436.7z"/><path color="#008fff" d="M479.3 437.3 478 436 479.9 434.2 481.1 435.5z"/><path color="#009fff" d="M478 436 476.8 434.7 478.7 432.9 479.9 434.2z"/><path color="#00bfff" d="M476.8 434.7 476.2 433.9 478.1 432.1 478.7 432.9z"/><path color="#00dfff" d="M476.2 433.9 475.6 433.1 477.5 431.3 478.1 432.1z"/><path color="#00ffff" d="M475.6 433.1 475 432.3 476.9 430.5 477.5 431.3z"/><path color="#20ffdf" d="M475 432.3 474.4 431.5 476.3 429.7 476.9 430.5z"/><path color="#40ffbf" d="M474.4 431.5 473.8 430.7 475.6 428.9 476.3 429.7z"/><path color="#60ff9f" d="M473.8 430.7 473.2 429.9 475 428.1 475.6 428.9z"/><path color="#80ff80" d="M473.2 429.9 472.9 429.4 474.8 427.7 475 428.1z"/><path color="#9fff60" d="M472.9 429.4 472.6 429 474.5 427.2 474.8 427.7z"/><path color="#bfff40" d="M472.6 429 472.4 428.5 474.2 426.8 474.5 427.2z"/><path color="#dfff20" d="M472.4 428.5 472.1 428.1 474 426.3 474.2 426.8z"/><path color="#ffff00" d="M472.1 428.1 471.8 427.6 473.7 425.9 474 426.3z"/><path color="#ffcf00" d="M471.8 427.6 471.6 427.2 473.5 425.4 473.7 425.9z"/><path color="#ffaf00" d="M471.6 427.2 471.3 426.7 473.2 425 473.5 425.4z"/><path color="#ff8f00" d="M471.3 426.7 471.1 426.3 472.9 424.5 473.2 425z"/><path color="#ff7000" d="M471.1 426.3 470.8 425.8 472.7 424.1 472.9 424.5z"/><path color="#ff5000" d="M470.8 425.8 470.5 425.4 472.4 423.6 472.7 424.1z"/><path color="#ff3000" d="M470.5 425.4 470.3 424.9 472.2 423.2 472.4 423.6z"/><path color="#ff1000" d="M470.3 424.9 470 424.4 471.9 422.7 472.2 423.2z"/><path color="#df0000" d="M470 424.4 469.8 424 471.6 422.3 471.9 422.7z"/><path color="#bf0000" d="M469.8 424 469.5 423.5 467.7 423 469.5 421.3 471.4 421.8 471.6 422.3z"/><path color="#df0000" d="M467.7 423 465.8 422.5 467.7 420.7 469.5 421.3z"/><path color="#ef0000" d="M465.8 422.5 465.5 422.7 467.4 421 467.7 420.7z"/><path color="#ff2000" d="M465.5 422.7 465.3 423 467.1 421.2 467.4 421z"/><path color="#ff4000" d="M465.3 423 465 423.2 466.9 421.4 467.1 421.2z"/><path color="#ff6000" d="M465 423.2 464.7 423.4 466.6 421.7 466.9 421.4z"/><path color="#ff8000" d="M464.7 423.4 464.4 423.7 466.3 421.9 466.6 421.7z"/><path color="#ff9f00" d="M464.4 423.7 464.1 423.9 466 422.2 466.3 421.9z"/><path color="#ffbf00" d="M464.1 423.9 463.8 424.2 465.7 422.4 466 422.2z"/><path color="#ffdf00" d="M463.8 424.2 463.6 424.4 465.4 422.6 465.7 422.4z"/><path color="#ffff00" d="M463.6 424.4 463.3 424.7 465.2 422.9 465.4 422.6z"/><path color="#dfff20" d="M463.3 424.7 463 424.9 464.9 423.1 465.2 422.9z"/><path color="#bfff40" d="M463 424.9 462.7 425.1 464.6 423.3 464.9 423.1z"/><path color="#9fff60" d="M462.7 425.1 462.4 425.4 464.3 423.6 464.6 423.3z"/><path color="#80ff80" d="M462.4 425.4 462.2 425.6 464 423.8 464.3 423.6z"/><path color="#50ffaf" d="M462.2 425.6 461.4 425.9 463.3 424.1 464 423.8z"/><path color="#30ffcf" d="M461.4 425.9 460.7 426.3 462.6 424.5 463.3 424.1z"/><path color="#10ffef" d="M460.7 426.3 460 426.6 461.8 424.8 462.6 424.5z"/><path color="#00efff" d="M460 426.6 459.2 426.9 461.1 425.1 461.8 424.8z"/><path color="#00cfff" d="M459.2 426.9 458.5 427.2 460.4 425.4 461.1 425.1z"/><path color="#00afff" d="M458.5 427.2 457.3 427.4 459.1 425.6 460.4 425.4z"/><path color="#008fff" d="M457.3 427.4 456 427.7 457.9 425.9 459.1 425.6z"/><path color="#0080ff" d="M456 427.7 454.8 427.9 456.7 426.1 457.9 425.9z"/><path color="#0060ff" d="M454.8 427.9 453 428 454.9 426.2 456.7 426.1z"/><path color="#0050ff" d="M453 428 451.2 428 453 426.2 454.9 426.2z"/><path color="#0030ff" d="M451.2 428 447.5 427.9 449.4 426.1 453 426.2z"/><path color="#0010ff" d="M447.5 427.9 443.8 427.5 445.7 425.7 449.4 426.1z"/><path color="#0000ff" d="M443.8 427.5 440.1 427 442 425.2 445.7 425.7z"/><path color="#0000ef" d="M440.1 427 436.5 426.3 432.8 425.6 434.7 423.7 438.4 424.5 442 425.2z"/><path color="#0000df" d="M432.8 425.6 429.1 424.7 425.5 423.9 427.4 422 431 422.9 434.7 423.7z"/><path color="#0000cf" d="M425.5 423.9 421.8 422.9 418.1 421.9 414.5 420.9 416.4 419.1 420 420.1 423.7 421.1 427.4 422z"/><path color="#0000bf" d="M414.5 420.9 410.8 419.9 407.1 418.8 403.5 417.7 399.8 416.6 396.1 415.5 398 413.6 401.7 414.8 405.3 415.9 409 417 412.7 418.1 416.4 419.1z"/><path color="#0000af" d="M396.1 415.5 392.5 414.3 388.8 413.1 385.1 412 387 410.1 390.7 411.3 394.3 412.5 398 413.6z"/><path color="#0000af" d="M530 474.2 526.3 472.1 522.6 470 519 467.9 515.3 465.7 517.2 463.9 520.8 466 524.5 468.2 528.2 470.3 531.8 472.3z"/><path color="#0000bf" d="M515.3 465.7 511.6 463.5 508 461.3 504.3 459.1 506.2 457.3 509.8 459.5 513.5 461.7 517.2 463.9z"/><path color="#0000cf" d="M504.3 459.1 500.6 456.8 497 454.4 498.8 452.6 502.5 455 506.2 457.3z"/><path color="#0000df" d="M497 454.4 493.3 452 495.2 450.1 498.8 452.6z"/><path color="#0000ef" d="M493.3 452 489.6 449.4 491.5 447.6 495.2 450.1z"/><path color="#0000ff" d="M489.6 449.4 486 446.6 487.8 444.8 491.5 447.6z"/><path color="#0020ff" d="M486 446.6 482.3 443.7 484.2 441.8 487.8 444.8z"/><path color="#0040ff" d="M482.3 443.7 480.4 442 482.3 440.2 484.2 441.8z"/><path color="#0050ff" d="M480.4 442 478.6 440.4 480.5 438.5 482.3 440.2z"/><path color="#0070ff" d="M478.6 440.4 477.4 439.1 479.3 437.3 480.5 438.5z"/><path color="#008fff" d="M477.4 439.1 476.2 437.8 478 436 479.3 437.3z"/><path color="#009fff" d="M476.2 437.8 474.9 436.5 476.8 434.7 478 436z"/><path color="#00bfff" d="M474.9 436.5 474.3 435.7 476.2 433.9 476.8 434.7z"/><path color="#00dfff" d="M474.3 435.7 473.7 434.9 475.6 433.1 476.2 433.9z"/><path color="#00ffff" d="M473.7 434.9 473.1 434.1 475 432.3 475.6 433.1z"/><path color="#20ffdf" d="M473.1 434.1 472.5 433.3 474.4 431.5 475 432.3z"/><path color="#40ffbf" d="M472.5 433.3 471.9 432.5 473.8 430.7 474.4 431.5z"/><path color="#60ff9f" d="M471.9 432.5 471.3 431.7 473.2 429.9 473.8 430.7z"/><path color="#80ff80" d="M471.3 431.7 471 431.2 472.9 429.4 473.2 429.9z"/><path color="#9fff60" d="M471 431.2 470.8 430.8 472.6 429 472.9 429.4z"/><path color="#bfff40" d="M470.8 430.8 470.5 430.3 472.4 428.5 472.6 429z"/><path color="#efff10" d="M470.5 430.3 470.2 429.9 472.1 428.1 472.4 428.5z"/><path color="#ffef00" d="M470.2 429.9 470 429.4 471.8 427.6 472.1 428.1z"/><path color="#ffcf00" d="M470 429.4 469.7 428.9 471.6 427.2 471.8 427.6z"/><path color="#ffaf00" d="M469.7 428.9 469.4 428.5 471.3 426.7 471.6 427.2z"/><path color="#ff8f00" d="M469.4 428.5 469.2 428 471.1 426.3 471.3 426.7z"/><path color="#ff7000" d="M469.2 428 468.9 427.6 470.8 425.8 471.1 426.3z"/><path color="#ff4000" d="M468.9 427.6 468.7 427.1 470.5 425.4 470.8 425.8z"/><path color="#ff2000" d="M468.7 427.1 468.4 426.7 470.3 424.9 470.5 425.4z"/><path color="#ff0000" d="M468.4 426.7 468.1 426.2 470 424.4 470.3 424.9z"/><path color="#df0000" d="M468.1 426.2 467.9 425.7 469.8 424 470 424.4z"/><path color="#bf0000" d="M467.9 425.7 467.6 425.3 469.5 423.5 469.8 424z"/><path color="#af0000" d="M467.6 425.3 465.8 424.8 467.7 423 469.5 423.5z"/><path color="#cf0000" d="M465.8 424.8 463.9 424.2 465.8 422.5 467.7 423z"/><path color="#ef0000" d="M463.9 424.2 463.7 424.5 465.5 422.7 465.8 422.5z"/><path color="#ff1000" d="M463.7 424.5 463.4 424.7 465.3 423 465.5 422.7z"/><path color="#ff3000" d="M463.4 424.7 463.1 425 465 423.2 465.3 423z"/><path color="#ff5000" d="M463.1 425 462.8 425.2 464.7 423.4 465 423.2z"/><path color="#ff7000" d="M462.8 425.2 462.5 425.5 464.4 423.7 464.7 423.4z"/><path color="#ff9f00" d="M462.5 425.5 462.3 425.7 464.1 423.9 464.4 423.7z"/><path color="#ffbf00" d="M462.3 425.7 462 426 463.8 424.2 464.1 423.9z"/><path color="#ffdf00" d="M462 426 461.7 426.2 463.6 424.4 463.8 424.2z"/><path color="#ffff00" d="M461.7 426.2 461.4 426.4 463.3 424.7 463.6 424.4z"/><path color="#dfff20" d="M461.4 426.4 461.1 426.7 463 424.9 463.3 424.7z"/><path color="#bfff40" d="M461.1 426.7 460.8 426.9 462.7 425.1 463 424.9z"/><path color="#9fff60" d="M460.8 426.9 460.6 427.2 462.4 425.4 462.7 425.1z"/><path color="#80ff80" d="M460.6 427.2 460.3 427.4 462.2 425.6 462.4 425.4z"/><path color="#60ff9f" d="M460.3 427.4 459.5 427.7 461.4 425.9 462.2 425.6z"/><path color="#30ffcf" d="M459.5 427.7 458.8 428.1 460.7 426.3 461.4 425.9z"/><path color="#10ffef" d="M458.8 428.1 458.1 428.4 460 426.6 460.7 426.3z"/><path color="#00efff" d="M458.1 428.4 457.3 428.7 459.2 426.9 460 426.6z"/><path color="#00cfff" d="M457.3 428.7 456.6 429 458.5 427.2 459.2 426.9z"/><path color="#00afff" d="M456.6 429 455.4 429.3 457.3 427.4 458.5 427.2z"/><path color="#008fff" d="M455.4 429.3 454.2 429.5 456 427.7 457.3 427.4z"/><path color="#0080ff" d="M454.2 429.5 452.9 429.7 454.8 427.9 456 427.7z"/><path color="#0060ff" d="M452.9 429.7 451.1 429.8 453 428 454.8 427.9z"/><path color="#0050ff" d="M451.1 429.8 449.3 429.9 451.2 428 453 428z"/><path color="#0030ff" d="M449.3 429.9 445.6 429.7 447.5 427.9 451.2 428z"/><path color="#0010ff" d="M445.6 429.7 441.9 429.3 443.8 427.5 447.5 427.9z"/><path color="#0000ff" d="M441.9 429.3 438.3 428.8 440.1 427 443.8 427.5z"/><path color="#0000ef" d="M438.3 428.8 434.6 428.1 430.9 427.4 432.8 425.6 436.5 426.3 440.1 427z"/><path color="#0000df" d="M430.9 427.4 427.3 426.6 423.6 425.7 425.5 423.9 429.1 424.7 432.8 425.6z"/><path color="#0000cf" d="M423.6 425.7 419.9 424.7 416.3 423.8 412.6 422.7 414.5 420.9 418.1 421.9 421.8 422.9 425.5 423.9z"/><path color="#0000bf" d="M412.6 422.7 408.9 421.7 405.3 420.6 401.6 419.5 397.9 418.4 394.3 417.3 396.1 415.5 399.8 416.6 403.5 417.7 407.1 418.8 410.8 419.9 414.5 420.9z"/><path color="#0000af" d="M394.3 417.3 390.6 416.1 386.9 415 383.3 413.8 385.1 412 388.8 413.1 392.5 414.3 396.1 415.5z"/><path color="#0000af" d="M528.1 476 524.4 473.9 520.7 471.8 517.1 469.7 513.4 467.5 515.3 465.7 519 467.9 522.6 470 526.3 472.1 530 474.2z"/><path color="#0000bf" d="M513.4 467.5 509.7 465.4 506.1 463.2 502.4 460.9 504.3 459.1 508 461.3 511.6 463.5 515.3 465.7z"/><path color="#0000cf" d="M502.4 460.9 498.7 458.6 495.1 456.2 497 454.4 500.6 456.8 504.3 459.1z"/><path color="#0000df" d="M495.1 456.2 491.4 453.8 493.3 452 497 454.4z"/><path color="#0000ef" d="M491.4 453.8 487.7 451.2 489.6 449.4 493.3 452z"/><path color="#0000ff" d="M487.7 451.2 484.1 448.4 486 446.6 489.6 449.4z"/><path color="#0020ff" d="M484.1 448.4 480.4 445.5 482.3 443.7 486 446.6z"/><path color="#0040ff" d="M480.4 445.5 478.6 443.8 480.4 442 482.3 443.7z"/><path color="#0050ff" d="M478.6 443.8 476.7 442.2 478.6 440.4 480.4 442z"/><path color="#0070ff" d="M476.7 442.2 475.5 440.9 477.4 439.1 478.6 440.4z"/><path color="#008fff" d="M475.5 440.9 474.3 439.6 476.2 437.8 477.4 439.1z"/><path color="#00afff" d="M474.3 439.6 473.1 438.3 474.9 436.5 476.2 437.8z"/><path color="#00bfff" d="M473.1 438.3 472.5 437.5 474.3 435.7 474.9 436.5z"/><path color="#00dfff" d="M472.5 437.5 471.8 436.7 473.7 434.9 474.3 435.7z"/><path color="#00ffff" d="M471.8 436.7 471.2 435.9 473.1 434.1 473.7 434.9z"/><path color="#20ffdf" d="M471.2 435.9 470.6 435.1 472.5 433.3 473.1 434.1z"/><path color="#40ffbf" d="M470.6 435.1 470 434.3 471.9 432.5 472.5 433.3z"/><path color="#60ff9f" d="M470 434.3 469.4 433.5 471.3 431.7 471.9 432.5z"/><path color="#80ff80" d="M469.4 433.5 469.1 433 471 431.2 471.3 431.7z"/><path color="#9fff60" d="M469.1 433 468.9 432.6 470.8 430.8 471 431.2z"/><path color="#cfff30" d="M468.9 432.6 468.6 432.1 470.5 430.3 470.8 430.8z"/><path color="#efff10" d="M468.6 432.1 468.4 431.7 470.2 429.9 470.5 430.3z"/><path color="#ffef00" d="M468.4 431.7 468.1 431.2 470 429.4 470.2 429.9z"/><path color="#ffcf00" d="M468.1 431.2 467.8 430.7 469.7 428.9 470 429.4z"/><path color="#ffaf00" d="M467.8 430.7 467.6 430.3 469.4 428.5 469.7 428.9z"/><path color="#ff8000" d="M467.6 430.3 467.3 429.8 469.2 428 469.4 428.5z"/><path color="#ff6000" d="M467.3 429.8 467 429.3 468.9 427.6 469.2 428z"/><path color="#ff4000" d="M467 429.3 466.8 428.9 468.7 427.1 468.9 427.6z"/><path color="#ff2000" d="M466.8 428.9 466.5 428.4 468.4 426.7 468.7 427.1z"/><path color="#ef0000" d="M466.5 428.4 466.3 428 468.1 426.2 468.4 426.7z"/><path color="#cf0000" d="M466.3 428 466 427.5 467.9 425.7 468.1 426.2z"/><path color="#af0000" d="M466 427.5 465.7 427 463.9 426.5 465.8 424.8 467.6 425.3 467.9 425.7z"/><path color="#cf0000" d="M463.9 426.5 462.1 426 463.9 424.2 465.8 424.8z"/><path color="#df0000" d="M462.1 426 461.8 426.3 463.7 424.5 463.9 424.2z"/><path color="#ff1000" d="M461.8 426.3 461.5 426.5 463.4 424.7 463.7 424.5z"/><path color="#ff3000" d="M461.5 426.5 461.2 426.7 463.1 425 463.4 424.7z"/><path color="#ff5000" d="M461.2 426.7 460.9 427 462.8 425.2 463.1 425z"/><path color="#ff7000" d="M460.9 427 460.7 427.2 462.5 425.5 462.8 425.2z"/><path color="#ff8f00" d="M460.7 427.2 460.4 427.5 462.3 425.7 462.5 425.5z"/><path color="#ffaf00" d="M460.4 427.5 460.1 427.7 462 426 462.3 425.7z"/><path color="#ffdf00" d="M460.1 427.7 459.8 428 461.7 426.2 462 426z"/><path color="#ffff00" d="M459.8 428 459.5 428.2 461.4 426.4 461.7 426.2z"/><path color="#dfff20" d="M459.5 428.2 459.2 428.5 461.1 426.7 461.4 426.4z"/><path color="#bfff40" d="M459.2 428.5 459 428.7 460.8 426.9 461.1 426.7z"/><path color="#9fff60" d="M459 428.7 458.7 429 460.6 427.2 460.8 426.9z"/><path color="#80ff80" d="M458.7 429 458.4 429.2 460.3 427.4 460.6 427.2z"/><path color="#60ff9f" d="M458.4 429.2 457.7 429.6 459.5 427.7 460.3 427.4z"/><path color="#30ffcf" d="M457.7 429.6 456.9 429.9 458.8 428.1 459.5 427.7z"/><path color="#10ffef" d="M456.9 429.9 456.2 430.2 458.1 428.4 458.8 428.1z"/><path color="#00efff" d="M456.2 430.2 455.5 430.5 457.3 428.7 458.1 428.4z"/><path color="#00cfff" d="M455.5 430.5 454.7 430.8 456.6 429 457.3 428.7z"/><path color="#00afff" d="M454.7 430.8 453.5 431.1 455.4 429.3 456.6 429z"/><path color="#008fff" d="M453.5 431.1 452.3 431.3 454.2 429.5 455.4 429.3z"/><path color="#0080ff" d="M452.3 431.3 451.1 431.5 452.9 429.7 454.2 429.5z"/><path color="#0060ff" d="M451.1 431.5 449.2 431.6 451.1 429.8 452.9 429.7z"/><path color="#0050ff" d="M449.2 431.6 447.4 431.7 449.3 429.9 451.1 429.8z"/><path color="#0030ff" d="M447.4 431.7 443.7 431.5 445.6 429.7 449.3 429.9z"/><path color="#0010ff" d="M443.7 431.5 440.1 431.1 441.9 429.3 445.6 429.7z"/><path color="#0000ff" d="M440.1 431.1 436.4 430.6 438.3 428.8 441.9 429.3z"/><path color="#0000ef" d="M436.4 430.6 432.7 429.9 429.1 429.2 430.9 427.4 434.6 428.1 438.3 428.8z"/><path color="#0000df" d="M429.1 429.2 425.4 428.4 421.7 427.5 423.6 425.7 427.3 426.6 430.9 427.4z"/><path color="#0000cf" d="M421.7 427.5 418.1 426.6 414.4 425.6 410.7 424.6 412.6 422.7 416.3 423.8 419.9 424.7 423.6 425.7z"/><path color="#0000bf" d="M410.7 424.6 407.1 423.5 403.4 422.4 399.7 421.3 396.1 420.2 392.4 419.1 394.3 417.3 397.9 418.4 401.6 419.5 405.3 420.6 408.9 421.7 412.6 422.7z"/><path color="#0000af" d="M392.4 419.1 388.7 417.9 385.1 416.8 381.4 415.6 383.3 413.8 386.9 415 390.6 416.1 394.3 417.3z"/><path color="#0000af" d="M526.2 477.8 522.5 475.7 518.9 473.6 515.2 471.5 511.5 469.4 513.4 467.5 517.1 469.7 520.7 471.8 524.4 473.9 528.1 476z"/><path color="#0000bf" d="M511.5 469.4 507.9 467.2 504.2 465 500.5 462.7 502.4 460.9 506.1 463.2 509.7 465.4 513.4 467.5z"/><path color="#0000cf" d="M500.5 462.7 496.9 460.4 493.2 458.1 495.1 456.2 498.7 458.6 502.4 460.9z"/><path color="#0000df" d="M493.2 458.1 489.5 455.6 491.4 453.8 495.1 456.2z"/><path color="#0000ef" d="M489.5 455.6 485.9 453 487.7 451.2 491.4 453.8z"/><path color="#0000ff" d="M485.9 453 482.2 450.3 484.1 448.4 487.7 451.2z"/><path color="#0020ff" d="M482.2 450.3 478.5 447.3 480.4 445.5 484.1 448.4z"/><path color="#0040ff" d="M478.5 447.3 476.7 445.6 478.6 443.8 480.4 445.5z"/><path color="#0050ff" d="M476.7 445.6 474.9 444 476.7 442.2 478.6 443.8z"/><path color="#0070ff" d="M474.9 444 473.6 442.7 475.5 440.9 476.7 442.2z"/><path color="#008fff" d="M473.6 442.7 472.4 441.4 474.3 439.6 475.5 440.9z"/><path color="#00afff" d="M472.4 441.4 471.2 440.1 473.1 438.3 474.3 439.6z"/><path color="#00bfff" d="M471.2 440.1 470.6 439.3 472.5 437.5 473.1 438.3z"/><path color="#00dfff" d="M470.6 439.3 470 438.5 471.8 436.7 472.5 437.5z"/><path color="#00ffff" d="M470 438.5 469.4 437.7 471.2 435.9 471.8 436.7z"/><path color="#20ffdf" d="M469.4 437.7 468.8 436.9 470.6 435.1 471.2 435.9z"/><path color="#40ffbf" d="M468.8 436.9 468.1 436.1 470 434.3 470.6 435.1z"/><path color="#60ff9f" d="M468.1 436.1 467.5 435.3 469.4 433.5 470 434.3z"/><path color="#80ff80" d="M467.5 435.3 467.3 434.9 469.2 433.1 469.4 433.5z"/><path color="#9fff60" d="M467.3 434.9 467 434.4 468.9 432.6 469.2 433.1z"/><path color="#bfff40" d="M467 434.4 466.8 434 468.7 432.2 468.9 432.6z"/><path color="#dfff20" d="M466.8 434 466.6 433.6 468.4 431.8 468.7 432.2z"/><path color="#ffef00" d="M466.6 433.6 466.3 433.1 468.2 431.3 468.4 431.8z"/><path color="#ffcf00" d="M466.3 433.1 466.1 432.7 467.9 430.9 468.2 431.3z"/><path color="#ffaf00" d="M466.1 432.7 465.8 432.3 467.7 430.5 467.9 430.9z"/><path color="#ff8f00" d="M465.8 432.3 465.6 431.8 467.4 430.1 467.7 430.5z"/><path color="#ff7000" d="M465.6 431.8 465.3 431.4 467.2 429.6 467.4 430.1z"/><path color="#ff5000" d="M465.3 431.4 465.1 431 467 429.2 467.2 429.6z"/><path color="#ff3000" d="M465.1 431 464.8 430.5 466.7 428.8 467 429.2z"/><path color="#ff1000" d="M464.8 430.5 464.6 430.1 466.5 428.3 466.7 428.8z"/><path color="#ef0000" d="M464.6 430.1 464.3 429.7 466.2 427.9 466.5 428.3z"/><path color="#cf0000" d="M464.3 429.7 464.1 429.2 466 427.5 466.2 427.9z"/><path color="#af0000" d="M464.1 429.2 463.9 428.8 465.7 427 466 427.5z"/><path color="#9f0000" d="M463.9 428.8 462 428.3 463.9 426.5 465.7 427z"/><path color="#bf0000" d="M462 428.3 460.2 427.8 462.1 426 463.9 426.5z"/><path color="#df0000" d="M460.2 427.8 459.9 428 461.8 426.3 462.1 426z"/><path color="#ff0000" d="M459.9 428 459.6 428.3 461.5 426.5 461.8 426.3z"/><path color="#ff2000" d="M459.6 428.3 459.3 428.5 461.2 426.7 461.5 426.5z"/><path color="#ff5000" d="M459.3 428.5 459.1 428.8 460.9 427 461.2 426.7z"/><path color="#ff7000" d="M459.1 428.8 458.8 429 460.7 427.2 460.9 427z"/><path color="#ff8f00" d="M458.8 429 458.5 429.3 460.4 427.5 460.7 427.2z"/><path color="#ffaf00" d="M458.5 429.3 458.2 429.5 460.1 427.7 460.4 427.5z"/><path color="#ffcf00" d="M458.2 429.5 457.9 429.8 459.8 428 460.1 427.7z"/><path color="#ffff00" d="M457.9 429.8 457.7 430 459.5 428.2 459.8 428z"/><path color="#dfff20" d="M457.7 430 457.4 430.3 459.2 428.5 459.5 428.2z"/><path color="#bfff40" d="M457.4 430.3 457.1 430.5 459 428.7 459.2 428.5z"/><path color="#9fff60" d="M457.1 430.5 456.8 430.8 458.7 429 459 428.7z"/><path color="#80ff80" d="M456.8 430.8 456.5 431 458.4 429.2 458.7 429z"/><path color="#60ff9f" d="M456.5 431 455.8 431.4 457.7 429.6 458.4 429.2z"/><path color="#30ffcf" d="M455.8 431.4 455.1 431.7 456.9 429.9 457.7 429.6z"/><path color="#10ffef" d="M455.1 431.7 454.3 432 456.2 430.2 456.9 429.9z"/><path color="#00efff" d="M454.3 432 453.6 432.3 455.5 430.5 456.2 430.2z"/><path color="#00cfff" d="M453.6 432.3 452.9 432.7 454.7 430.8 455.5 430.5z"/><path color="#00afff" d="M452.9 432.7 451.6 432.9 453.5 431.1 454.7 430.8z"/><path color="#008fff" d="M451.6 432.9 450.4 433.1 452.3 431.3 453.5 431.1z"/><path color="#0080ff" d="M450.4 433.1 449.2 433.3 451.1 431.5 452.3 431.3z"/><path color="#0060ff" d="M449.2 433.3 447.4 433.4 449.2 431.6 451.1 431.5z"/><path color="#0050ff" d="M447.4 433.4 445.5 433.5 447.4 431.7 449.2 431.6z"/><path color="#0030ff" d="M445.5 433.5 441.9 433.3 443.7 431.5 447.4 431.7z"/><path color="#0010ff" d="M441.9 433.3 438.2 433 440.1 431.1 443.7 431.5z"/><path color="#0000ff" d="M438.2 433 434.5 432.4 436.4 430.6 440.1 431.1z"/><path color="#0000ef" d="M434.5 432.4 430.9 431.8 427.2 431 429.1 429.2 432.7 429.9 436.4 430.6z"/><path color="#0000df" d="M427.2 431 423.5 430.2 419.9 429.3 421.7 427.5 425.4 428.4 429.1 429.2z"/><path color="#0000cf" d="M419.9 429.3 416.2 428.4 412.5 427.4 408.8 426.4 410.7 424.6 414.4 425.6 418.1 426.6 421.7 427.5z"/><path color="#0000bf" d="M408.8 426.4 405.2 425.3 401.5 424.3 397.8 423.2 394.2 422 390.5 420.9 392.4 419.1 396.1 420.2 399.7 421.3 403.4 422.4 407.1 423.5 410.7 424.6z"/><path color="#0000af" d="M390.5 420.9 386.8 419.8 383.2 418.6 379.5 417.4 381.4 415.6 385.1 416.8 388.7 417.9 392.4 419.1z"/><path color="#0000af" d="M524.3 479.6 520.7 477.5 517 475.4 513.3 473.3 509.7 471.2 511.5 469.4 515.2 471.5 518.9 473.6 522.5 475.7 526.2 477.8z"/><path color="#0000bf" d="M509.7 471.2 506 469 502.3 466.8 498.7 464.6 500.5 462.7 504.2 465 507.9 467.2 511.5 469.4z"/><path color="#0000cf" d="M498.7 464.6 495 462.2 491.3 459.9 493.2 458.1 496.9 460.4 500.5 462.7z"/><path color="#0000df" d="M491.3 459.9 487.7 457.4 489.5 455.6 493.2 458.1z"/><path color="#0000ef" d="M487.7 457.4 484 454.8 485.9 453 489.5 455.6z"/><path color="#0000ff" d="M484 454.8 480.3 452.1 482.2 450.3 485.9 453z"/><path color="#0020ff" d="M480.3 452.1 476.7 449.1 478.5 447.3 482.2 450.3z"/><path color="#0040ff" d="M476.7 449.1 474.8 447.5 476.7 445.6 478.5 447.3z"/><path color="#0050ff" d="M474.8 447.5 473 445.8 474.9 444 476.7 445.6z"/><path color="#0070ff" d="M473 445.8 471.8 444.5 473.6 442.7 474.9 444z"/><path color="#008fff" d="M471.8 444.5 470.5 443.2 472.4 441.4 473.6 442.7z"/><path color="#00afff" d="M470.5 443.2 469.3 442 471.2 440.1 472.4 441.4z"/><path color="#00bfff" d="M469.3 442 468.7 441.2 470.6 439.3 471.2 440.1z"/><path color="#00dfff" d="M468.7 441.2 468.1 440.3 470 438.5 470.6 439.3z"/><path color="#00ffff" d="M468.1 440.3 467.5 439.5 469.4 437.7 470 438.5z"/><path color="#20ffdf" d="M467.5 439.5 466.9 438.7 468.8 436.9 469.4 437.7z"/><path color="#40ffbf" d="M466.9 438.7 466.3 437.9 468.1 436.1 468.8 436.9z"/><path color="#60ff9f" d="M466.3 437.9 465.7 437.1 467.5 435.3 468.1 436.1z"/><path color="#80ff80" d="M465.7 437.1 465.4 436.7 467.3 434.9 467.5 435.3z"/><path color="#9fff60" d="M465.4 436.7 465.2 436.2 467 434.4 467.3 434.9z"/><path color="#bfff40" d="M465.2 436.2 464.9 435.8 466.8 434 467 434.4z"/><path color="#efff10" d="M464.9 435.8 464.7 435.4 466.6 433.6 466.8 434z"/><path color="#ffef00" d="M464.7 435.4 464.4 434.9 466.3 433.1 466.6 433.6z"/><path color="#ffcf00" d="M464.4 434.9 464.2 434.5 466.1 432.7 466.3 433.1z"/><path color="#ffaf00" d="M464.2 434.5 463.9 434.1 465.8 432.3 466.1 432.7z"/><path color="#ff8f00" d="M463.9 434.1 463.7 433.6 465.6 431.8 465.8 432.3z"/><path color="#ff7000" d="M463.7 433.6 463.5 433.2 465.3 431.4 465.6 431.8z"/><path color="#ff5000" d="M463.5 433.2 463.2 432.8 465.1 431 465.3 431.4z"/><path color="#ff3000" d="M463.2 432.8 463 432.3 464.8 430.5 465.1 431z"/><path color="#ff0000" d="M463 432.3 462.7 431.9 464.6 430.1 464.8 430.5z"/><path color="#df0000" d="M462.7 431.9 462.5 431.5 464.3 429.7 464.6 430.1z"/><path color="#bf0000" d="M462.5 431.5 462.2 431 464.1 429.2 464.3 429.7z"/><path color="#9f0000" d="M462.2 431 462 430.6 460.2 430.1 462 428.3 463.9 428.8 464.1 429.2z"/><path color="#bf0000" d="M460.2 430.1 458.3 429.6 460.2 427.8 462 428.3z"/><path color="#df0000" d="M458.3 429.6 458 429.8 459.9 428 460.2 427.8z"/><path color="#ff0000" d="M458 429.8 457.8 430.1 459.6 428.3 459.9 428z"/><path color="#ff2000" d="M457.8 430.1 457.5 430.3 459.3 428.5 459.6 428.3z"/><path color="#ff4000" d="M457.5 430.3 457.2 430.6 459.1 428.8 459.3 428.5z"/><path color="#ff7000" d="M457.2 430.6 456.9 430.8 458.8 429 459.1 428.8z"/><path color="#ff8f00" d="M456.9 430.8 456.6 431.1 458.5 429.3 458.8 429z"/><path color="#ffaf00" d="M456.6 431.1 456.3 431.3 458.2 429.5 458.5 429.3z"/><path color="#ffcf00" d="M456.3 431.3 456.1 431.6 457.9 429.8 458.2 429.5z"/><path color="#ffef00" d="M456.1 431.6 455.8 431.8 457.7 430 457.9 429.8z"/><path color="#dfff20" d="M455.8 431.8 455.5 432.1 457.4 430.3 457.7 430z"/><path color="#bfff40" d="M455.5 432.1 455.2 432.4 457.1 430.5 457.4 430.3z"/><path color="#9fff60" d="M455.2 432.4 454.9 432.6 456.8 430.8 457.1 430.5z"/><path color="#80ff80" d="M454.9 432.6 454.6 432.9 456.5 431 456.8 430.8z"/><path color="#60ff9f" d="M454.6 432.9 453.9 433.2 455.8 431.4 456.5 431z"/><path color="#40ffbf" d="M453.9 433.2 453.2 433.5 455.1 431.7 455.8 431.4z"/><path color="#10ffef" d="M453.2 433.5 452.4 433.8 454.3 432 455.1 431.7z"/><path color="#00efff" d="M452.4 433.8 451.7 434.2 453.6 432.3 454.3 432z"/><path color="#00cfff" d="M451.7 434.2 451 434.5 452.9 432.7 453.6 432.3z"/><path color="#00afff" d="M451 434.5 449.8 434.7 451.6 432.9 452.9 432.7z"/><path color="#008fff" d="M449.8 434.7 448.5 434.9 450.4 433.1 451.6 432.9z"/><path color="#0080ff" d="M448.5 434.9 447.3 435.2 449.2 433.3 450.4 433.1z"/><path color="#0060ff" d="M447.3 435.2 445.5 435.2 447.4 433.4 449.2 433.3z"/><path color="#0050ff" d="M445.5 435.2 443.6 435.3 445.5 433.5 447.4 433.4z"/><path color="#0030ff" d="M443.6 435.3 440 435.2 441.9 433.3 445.5 433.5z"/><path color="#0010ff" d="M440 435.2 436.3 434.8 438.2 433 441.9 433.3z"/><path color="#0000ff" d="M436.3 434.8 432.6 434.2 434.5 432.4 438.2 433z"/><path color="#0000ef" d="M432.6 434.2 429 433.6 425.3 432.8 427.2 431 430.9 431.8 434.5 432.4z"/><path color="#0000df" d="M425.3 432.8 421.6 432 418 431.1 419.9 429.3 423.5 430.2 427.2 431z"/><path color="#0000cf" d="M418 431.1 414.3 430.2 410.6 429.2 407 428.2 408.8 426.4 412.5 427.4 416.2 428.4 419.9 429.3z"/><path color="#0000bf" d="M407 428.2 403.3 427.2 399.6 426.1 396 425 392.3 423.9 388.6 422.7 390.5 420.9 394.2 422 397.8 423.2 401.5 424.3 405.2 425.3 408.8 426.4z"/><path color="#0000af" d="M388.6 422.7 385 421.6 381.3 420.4 377.6 419.2 379.5 417.4 383.2 418.6 386.8 419.8 390.5 420.9z"/><path color="#0000af" d="M522.5 481.4 518.8 479.4 515.1 477.3 511.5 475.1 507.8 473 509.7 471.2 513.3 473.3 517 475.4 520.7 477.5 524.3 479.6z"/><path color="#0000bf" d="M507.8 473 504.1 470.8 500.5 468.6 496.8 466.4 498.7 464.6 502.3 466.8 506 469 509.7 471.2z"/><path color="#0000cf" d="M496.8 466.4 493.1 464.1 489.4 461.7 491.3 459.9 495 462.2 498.7 464.6z"/><path color="#0000df" d="M489.4 461.7 485.8 459.2 487.7 457.4 491.3 459.9z"/><path color="#0000ef" d="M485.8 459.2 482.1 456.6 484 454.8 487.7 457.4z"/><path color="#0000ff" d="M482.1 456.6 478.4 453.9 480.3 452.1 484 454.8z"/><path color="#0020ff" d="M478.4 453.9 474.8 450.9 476.7 449.1 480.3 452.1z"/><path color="#0040ff" d="M474.8 450.9 472.9 449.3 474.8 447.5 476.7 449.1z"/><path color="#0050ff" d="M472.9 449.3 471.1 447.6 473 445.8 474.8 447.5z"/><path color="#0070ff" d="M471.1 447.6 469.9 446.3 471.8 444.5 473 445.8z"/><path color="#008fff" d="M469.9 446.3 468.7 445.1 470.5 443.2 471.8 444.5z"/><path color="#00afff" d="M468.7 445.1 467.4 443.8 469.3 442 470.5 443.2z"/><path color="#00bfff" d="M467.4 443.8 466.8 443 468.7 441.2 469.3 442z"/><path color="#00dfff" d="M466.8 443 466.2 442.2 468.1 440.3 468.7 441.2z"/><path color="#00ffff" d="M466.2 442.2 465.6 441.3 467.5 439.5 468.1 440.3z"/><path color="#20ffdf" d="M465.6 441.3 465 440.5 466.9 438.7 467.5 439.5z"/><path color="#40ffbf" d="M465 440.5 464.4 439.7 466.3 437.9 466.9 438.7z"/><path color="#60ff9f" d="M464.4 439.7 463.8 438.9 465.7 437.1 466.3 437.9z"/><path color="#80ff80" d="M463.8 438.9 463.5 438.5 465.4 436.7 465.7 437.1z"/><path color="#9fff60" d="M463.5 438.5 463.3 438 465.2 436.2 465.4 436.7z"/><path color="#cfff30" d="M463.3 438 463 437.6 464.9 435.8 465.2 436.2z"/><path color="#efff10" d="M463 437.6 462.8 437.2 464.7 435.4 464.9 435.8z"/><path color="#ffef00" d="M462.8 437.2 462.6 436.7 464.4 434.9 464.7 435.4z"/><path color="#ffcf00" d="M462.6 436.7 462.3 436.3 464.2 434.5 464.4 434.9z"/><path color="#ffaf00" d="M462.3 436.3 462.1 435.9 463.9 434.1 464.2 434.5z"/><path color="#ff8f00" d="M462.1 435.9 461.8 435.4 463.7 433.6 463.9 434.1z"/><path color="#ff7000" d="M461.8 435.4 461.6 435 463.5 433.2 463.7 433.6z"/><path color="#ff4000" d="M461.6 435 461.3 434.6 463.2 432.8 463.5 433.2z"/><path color="#ff2000" d="M461.3 434.6 461.1 434.1 463 432.3 463.2 432.8z"/><path color="#ff0000" d="M461.1 434.1 460.8 433.7 462.7 431.9 463 432.3z"/><path color="#df0000" d="M460.8 433.7 460.6 433.2 462.5 431.5 462.7 431.9z"/><path color="#bf0000" d="M460.6 433.2 460.4 432.8 462.2 431 462.5 431.5z"/><path color="#9f0000" d="M460.4 432.8 460.1 432.4 458.3 431.9 460.2 430.1 462 430.6 462.2 431z"/><path color="#af0000" d="M458.3 431.9 456.4 431.4 458.3 429.6 460.2 430.1z"/><path color="#df0000" d="M456.4 431.4 456.2 431.6 458 429.8 458.3 429.6z"/><path color="#ff0000" d="M456.2 431.6 455.9 431.9 457.8 430.1 458 429.8z"/><path color="#ff2000" d="M455.9 431.9 455.6 432.1 457.5 430.3 457.8 430.1z"/><path color="#ff4000" d="M455.6 432.1 455.3 432.4 457.2 430.6 457.5 430.3z"/><path color="#ff6000" d="M455.3 432.4 455 432.6 456.9 430.8 457.2 430.6z"/><path color="#ff8f00" d="M455 432.6 454.7 432.9 456.6 431.1 456.9 430.8z"/><path color="#ffaf00" d="M454.7 432.9 454.5 433.1 456.3 431.3 456.6 431.1z"/><path color="#ffcf00" d="M454.5 433.1 454.2 433.4 456.1 431.6 456.3 431.3z"/><path color="#ffef00" d="M454.2 433.4 453.9 433.7 455.8 431.8 456.1 431.6z"/><path color="#efff10" d="M453.9 433.7 453.6 433.9 455.5 432.1 455.8 431.8z"/><path color="#bfff40" d="M453.6 433.9 453.3 434.2 455.2 432.4 455.5 432.1z"/><path color="#9fff60" d="M453.3 434.2 453.1 434.4 454.9 432.6 455.2 432.4z"/><path color="#80ff80" d="M453.1 434.4 452.8 434.7 454.6 432.9 454.9 432.6z"/><path color="#60ff9f" d="M452.8 434.7 452 435 453.9 433.2 454.6 432.9z"/><path color="#40ffbf" d="M452 435 451.3 435.3 453.2 433.5 453.9 433.2z"/><path color="#10ffef" d="M451.3 435.3 450.6 435.6 452.4 433.8 453.2 433.5z"/><path color="#00efff" d="M450.6 435.6 449.8 436 451.7 434.2 452.4 433.8z"/><path color="#00cfff" d="M449.8 436 449.1 436.3 451 434.5 451.7 434.2z"/><path color="#00afff" d="M449.1 436.3 447.9 436.5 449.8 434.7 451 434.5z"/><path color="#008fff" d="M447.9 436.5 446.7 436.7 448.5 434.9 449.8 434.7z"/><path color="#0080ff" d="M446.7 436.7 445.4 437 447.3 435.2 448.5 434.9z"/><path color="#0060ff" d="M445.4 437 443.6 437.1 445.5 435.2 447.3 435.2z"/><path color="#0050ff" d="M443.6 437.1 441.8 437.1 443.6 435.3 445.5 435.2z"/><path color="#0030ff" d="M441.8 437.1 438.1 437 440 435.2 443.6 435.3z"/><path color="#0010ff" d="M438.1 437 434.4 436.6 436.3 434.8 440 435.2z"/><path color="#0000ff" d="M434.4 436.6 430.8 436.1 432.6 434.2 436.3 434.8z"/><path color="#0000ef" d="M430.8 436.1 427.1 435.4 423.4 434.7 425.3 432.8 429 433.6 432.6 434.2z"/><path color="#0000df" d="M423.4 434.7 419.8 433.8 416.1 432.9 418 431.1 421.6 432 425.3 432.8z"/><path color="#0000cf" d="M416.1 432.9 412.4 432 408.8 431 405.1 430 407 428.2 410.6 429.2 414.3 430.2 418 431.1z"/><path color="#0000bf" d="M405.1 430 401.4 429 397.8 427.9 394.1 426.8 390.4 425.7 386.8 424.5 388.6 422.7 392.3 423.9 396 425 399.6 426.1 403.3 427.2 407 428.2z"/><path color="#0000af" d="M386.8 424.5 383.1 423.4 379.4 422.2 375.8 421 377.6 419.2 381.3 420.4 385 421.6 388.6 422.7z"/><path color="#0000af" d="M520.6 483.3 516.9 481.2 513.2 479.1 509.6 477 505.9 474.8 507.8 473 511.5 475.1 515.1 477.3 518.8 479.4 522.5 481.4z"/><path color="#0000bf" d="M505.9 474.8 502.2 472.6 498.6 470.4 494.9 468.2 496.8 466.4 500.5 468.6 504.1 470.8 507.8 473z"/><path color="#0000cf" d="M494.9 468.2 491.2 465.9 487.6 463.5 489.4 461.7 493.1 464.1 496.8 466.4z"/><path color="#0000df" d="M487.6 463.5 483.9 461 485.8 459.2 489.4 461.7z"/><path color="#0000ef" d="M483.9 461 480.2 458.5 482.1 456.6 485.8 459.2z"/><path color="#0000ff" d="M480.2 458.5 476.6 455.7 478.4 453.9 482.1 456.6z"/><path color="#0020ff" d="M476.6 455.7 472.9 452.7 474.8 450.9 478.4 453.9z"/><path color="#0040ff" d="M472.9 452.7 471.1 451.1 472.9 449.3 474.8 450.9z"/><path color="#0050ff" d="M471.1 451.1 469.2 449.4 471.1 447.6 472.9 449.3z"/><path color="#0070ff" d="M469.2 449.4 468 448.2 469.9 446.3 471.1 447.6z"/><path color="#008fff" d="M468 448.2 466.8 446.9 468.7 445.1 469.9 446.3z"/><path color="#00afff" d="M466.8 446.9 465.6 445.6 467.4 443.8 468.7 445.1z"/><path color="#00bfff" d="M465.6 445.6 465 444.8 466.8 443 467.4 443.8z"/><path color="#00dfff" d="M465 444.8 464.3 444 466.2 442.2 466.8 443z"/><path color="#00ffff" d="M464.3 444 463.7 443.2 465.6 441.3 466.2 442.2z"/><path color="#20ffdf" d="M463.7 443.2 463.1 442.4 465 440.5 465.6 441.3z"/><path color="#40ffbf" d="M463.1 442.4 462.5 441.5 464.4 439.7 465 440.5z"/><path color="#60ff9f" d="M462.5 441.5 461.9 440.7 463.8 438.9 464.4 439.7z"/><path color="#80ff80" d="M461.9 440.7 461.7 440.3 463.5 438.5 463.8 438.9z"/><path color="#afff50" d="M461.7 440.3 461.4 439.9 463.3 438 463.5 438.5z"/><path color="#cfff30" d="M461.4 439.9 461.2 439.4 463 437.6 463.3 438z"/><path color="#efff10" d="M461.2 439.4 460.9 439 462.8 437.2 463 437.6z"/><path color="#ffef00" d="M460.9 439 460.7 438.5 462.6 436.7 462.8 437.2z"/><path color="#ffcf00" d="M460.7 438.5 460.4 438.1 462.3 436.3 462.6 436.7z"/><path color="#ffaf00" d="M460.4 438.1 460.2 437.7 462.1 435.9 462.3 436.3z"/><path color="#ff8f00" d="M460.2 437.7 459.9 437.2 461.8 435.4 462.1 435.9z"/><path color="#ff6000" d="M459.9 437.2 459.7 436.8 461.6 435 461.8 435.4z"/><path color="#ff4000" d="M459.7 436.8 459.5 436.4 461.3 434.6 461.6 435z"/><path color="#ff2000" d="M459.5 436.4 459.2 435.9 461.1 434.1 461.3 434.6z"/><path color="#ff0000" d="M459.2 435.9 459 435.5 460.8 433.7 461.1 434.1z"/><path color="#df0000" d="M459 435.5 458.7 435 460.6 433.2 460.8 433.7z"/><path color="#bf0000" d="M458.7 435 458.5 434.6 460.4 432.8 460.6 433.2z"/><path color="#8f0000" d="M458.5 434.6 458.2 434.2 456.4 433.7 458.3 431.9 460.1 432.4 460.4 432.8z"/><path color="#af0000" d="M456.4 433.7 454.6 433.2 456.4 431.4 458.3 431.9z"/><path color="#cf0000" d="M454.6 433.2 454.3 433.4 456.2 431.6 456.4 431.4z"/><path color="#ef0000" d="M454.3 433.4 454 433.6 455.9 431.8 456.2 431.6z"/><path color="#ff1000" d="M454 433.6 453.8 433.9 455.7 432.1 455.9 431.8z"/><path color="#ff3000" d="M453.8 433.9 453.5 434.1 455.4 432.3 455.7 432.1z"/><path color="#ff6000" d="M453.5 434.1 453.3 434.3 455.1 432.5 455.4 432.3z"/><path color="#ff8000" d="M453.3 434.3 453 434.6 454.9 432.8 455.1 432.5z"/><path color="#ff9f00" d="M453 434.6 452.7 434.8 454.6 433 454.9 432.8z"/><path color="#ffbf00" d="M452.7 434.8 452.5 435.1 454.3 433.2 454.6 433z"/><path color="#ffdf00" d="M452.5 435.1 452.2 435.3 454.1 433.5 454.3 433.2z"/><path color="#ffff00" d="M452.2 435.3 451.9 435.5 453.8 433.7 454.1 433.5z"/><path color="#dfff20" d="M451.9 435.5 451.7 435.8 453.6 434 453.8 433.7z"/><path color="#bfff40" d="M451.7 435.8 451.4 436 453.3 434.2 453.6 434z"/><path color="#9fff60" d="M451.4 436 451.2 436.2 453 434.4 453.3 434.2z"/><path color="#80ff80" d="M451.2 436.2 450.9 436.5 452.8 434.7 453 434.4z"/><path color="#60ff9f" d="M450.9 436.5 450.2 436.8 452 435 452.8 434.7z"/><path color="#40ffbf" d="M450.2 436.8 449.4 437.1 451.3 435.3 452 435z"/><path color="#10ffef" d="M449.4 437.1 448.7 437.5 450.6 435.6 451.3 435.3z"/><path color="#00efff" d="M448.7 437.5 448 437.8 449.8 436 450.6 435.6z"/><path color="#00cfff" d="M448 437.8 447.2 438.1 449.1 436.3 449.8 436z"/><path color="#00afff" d="M447.2 438.1 446 438.3 447.9 436.5 449.1 436.3z"/><path color="#008fff" d="M446 438.3 444.8 438.6 446.7 436.7 447.9 436.5z"/><path color="#0080ff" d="M444.8 438.6 443.6 438.8 445.4 437 446.7 436.7z"/><path color="#0060ff" d="M443.6 438.8 441.7 438.9 443.6 437.1 445.4 437z"/><path color="#0050ff" d="M441.7 438.9 439.9 439 441.8 437.1 443.6 437.1z"/><path color="#0030ff" d="M439.9 439 436.2 438.8 438.1 437 441.8 437.1z"/><path color="#0010ff" d="M436.2 438.8 432.6 438.4 434.4 436.6 438.1 437z"/><path color="#0000ff" d="M432.6 438.4 428.9 437.9 430.8 436.1 434.4 436.6z"/><path color="#0000ef" d="M428.9 437.9 425.2 437.2 421.6 436.5 423.4 434.7 427.1 435.4 430.8 436.1z"/><path color="#0000df" d="M421.6 436.5 417.9 435.6 414.2 434.8 416.1 432.9 419.8 433.8 423.4 434.7z"/><path color="#0000cf" d="M414.2 434.8 410.6 433.8 406.9 432.8 403.2 431.8 405.1 430 408.8 431 412.4 432 416.1 432.9z"/><path color="#0000bf" d="M403.2 431.8 399.6 430.8 395.9 429.7 392.2 428.6 388.6 427.5 384.9 426.4 386.8 424.5 390.4 425.7 394.1 426.8 397.8 427.9 401.4 429 405.1 430z"/><path color="#0000af" d="M384.9 426.4 381.2 425.2 377.5 424 373.9 422.9 375.8 421 379.4 422.2 383.1 423.4 386.8 424.5z"/><path color="#0000af" d="M518.7 485.1 515 483 511.4 480.9 507.7 478.8 504 476.6 505.9 474.8 509.6 477 513.2 479.1 516.9 481.2 520.6 483.3z"/><path color="#0000bf" d="M504 476.6 500.4 474.5 496.7 472.3 493 470 494.9 468.2 498.6 470.4 502.2 472.6 505.9 474.8z"/><path color="#0000cf" d="M493 470 489.4 467.7 485.7 465.3 487.6 463.5 491.2 465.9 494.9 468.2z"/><path color="#0000df" d="M485.7 465.3 482 462.9 483.9 461 487.6 463.5z"/><path color="#0000ef" d="M482 462.9 478.4 460.3 480.2 458.5 483.9 461z"/><path color="#0000ff" d="M478.4 460.3 474.7 457.5 476.6 455.7 480.2 458.5z"/><path color="#0020ff" d="M474.7 457.5 471 454.6 472.9 452.7 476.6 455.7z"/><path color="#0040ff" d="M471 454.6 469.2 452.9 471.1 451.1 472.9 452.7z"/><path color="#0050ff" d="M469.2 452.9 467.4 451.3 469.2 449.4 471.1 451.1z"/><path color="#0070ff" d="M467.4 451.3 466.1 450 468 448.2 469.2 449.4z"/><path color="#008fff" d="M466.1 450 464.9 448.7 466.8 446.9 468 448.2z"/><path color="#00afff" d="M464.9 448.7 463.7 447.4 465.6 445.6 466.8 446.9z"/><path color="#00bfff" d="M463.7 447.4 463.1 446.6 465 444.8 465.6 445.6z"/><path color="#00dfff" d="M463.1 446.6 462.5 445.8 464.3 444 465 444.8z"/><path color="#00ffff" d="M462.5 445.8 461.9 445 463.7 443.2 464.3 444z"/><path color="#20ffdf" d="M461.9 445 461.2 444.2 463.1 442.4 463.7 443.2z"/><path color="#40ffbf" d="M461.2 444.2 460.6 443.4 462.5 441.5 463.1 442.4z"/><path color="#60ff9f" d="M460.6 443.4 460 442.5 461.9 440.7 462.5 441.5z"/><path color="#80ff80" d="M460 442.5 459.8 442.1 461.7 440.3 461.9 440.7z"/><path color="#afff50" d="M459.8 442.1 459.5 441.7 461.4 439.9 461.7 440.3z"/><path color="#cfff30" d="M459.5 441.7 459.3 441.2 461.2 439.4 461.4 439.9z"/><path color="#efff10" d="M459.3 441.2 459 440.8 460.9 439 461.2 439.4z"/><path color="#ffef00" d="M459 440.8 458.8 440.4 460.7 438.5 460.9 439z"/><path color="#ffcf00" d="M458.8 440.4 458.6 439.9 460.4 438.1 460.7 438.5z"/><path color="#ffaf00" d="M458.6 439.9 458.3 439.5 460.2 437.7 460.4 438.1z"/><path color="#ff8000" d="M458.3 439.5 458.1 439 459.9 437.2 460.2 437.7z"/><path color="#ff6000" d="M458.1 439 457.8 438.6 459.7 436.8 459.9 437.2z"/><path color="#ff4000" d="M457.8 438.6 457.6 438.2 459.5 436.4 459.7 436.8z"/><path color="#ff2000" d="M457.6 438.2 457.3 437.7 459.2 435.9 459.5 436.4z"/><path color="#ff0000" d="M457.3 437.7 457.1 437.3 459 435.5 459.2 435.9z"/><path color="#df0000" d="M457.1 437.3 456.8 436.8 458.7 435 459 435.5z"/><path color="#af0000" d="M456.8 436.8 456.6 436.4 458.5 434.6 458.7 435z"/><path color="#8f0000" d="M456.6 436.4 456.4 436 454.5 435.5 456.4 433.7 458.2 434.2 458.5 434.6z"/><path color="#af0000" d="M454.5 435.5 452.7 435 454.6 433.2 456.4 433.7z"/><path color="#cf0000" d="M452.7 435 452.4 435.2 454.3 433.4 454.6 433.2z"/><path color="#ef0000" d="M452.4 435.2 452.2 435.4 454 433.6 454.3 433.4z"/><path color="#ff1000" d="M452.2 435.4 451.9 435.7 453.8 433.9 454 433.6z"/><path color="#ff3000" d="M451.9 435.7 451.6 435.9 453.5 434.1 453.8 433.9z"/><path color="#ff5000" d="M451.6 435.9 451.4 436.1 453.3 434.3 453.5 434.1z"/><path color="#ff7000" d="M451.4 436.1 451.1 436.4 453 434.6 453.3 434.3z"/><path color="#ff9f00" d="M451.1 436.4 450.9 436.6 452.7 434.8 453 434.6z"/><path color="#ffbf00" d="M450.9 436.6 450.6 436.9 452.5 435.1 452.7 434.8z"/><path color="#ffdf00" d="M450.6 436.9 450.3 437.1 452.2 435.3 452.5 435.1z"/><path color="#ffff00" d="M450.3 437.1 450.1 437.3 451.9 435.5 452.2 435.3z"/><path color="#dfff20" d="M450.1 437.3 449.8 437.6 451.7 435.8 451.9 435.5z"/><path color="#bfff40" d="M449.8 437.6 449.5 437.8 451.4 436 451.7 435.8z"/><path color="#9fff60" d="M449.5 437.8 449.3 438.1 451.2 436.2 451.4 436z"/><path color="#80ff80" d="M449.3 438.1 449 438.3 450.9 436.5 451.2 436.2z"/><path color="#60ff9f" d="M449 438.3 448.3 438.6 450.2 436.8 450.9 436.5z"/><path color="#40ffbf" d="M448.3 438.6 447.6 438.9 449.4 437.1 450.2 436.8z"/><path color="#10ffef" d="M447.6 438.9 446.8 439.3 448.7 437.5 449.4 437.1z"/><path color="#00efff" d="M446.8 439.3 446.1 439.6 448 437.8 448.7 437.5z"/><path color="#00cfff" d="M446.1 439.6 445.4 439.9 447.2 438.1 448 437.8z"/><path color="#00afff" d="M445.4 439.9 444.1 440.2 446 438.3 447.2 438.1z"/><path color="#008fff" d="M444.1 440.2 442.9 440.4 444.8 438.6 446 438.3z"/><path color="#0080ff" d="M442.9 440.4 441.7 440.6 443.6 438.8 444.8 438.6z"/><path color="#0060ff" d="M441.7 440.6 439.9 440.7 441.7 438.9 443.6 438.8z"/><path color="#0050ff" d="M439.9 440.7 438 440.8 439.9 439 441.7 438.9z"/><path color="#0030ff" d="M438 440.8 434.4 440.6 436.2 438.8 439.9 439z"/><path color="#0010ff" d="M434.4 440.6 430.7 440.2 432.6 438.4 436.2 438.8z"/><path color="#0000ff" d="M430.7 440.2 427 439.7 428.9 437.9 432.6 438.4z"/><path color="#0000ef" d="M427 439.7 423.3 439 419.7 438.3 421.6 436.5 425.2 437.2 428.9 437.9z"/><path color="#0000df" d="M419.7 438.3 416 437.5 412.3 436.6 414.2 434.8 417.9 435.6 421.6 436.5z"/><path color="#0000cf" d="M412.3 436.6 408.7 435.6 405 434.7 401.3 433.7 403.2 431.8 406.9 432.8 410.6 433.8 414.2 434.8z"/><path color="#0000bf" d="M401.3 433.7 397.7 432.6 394 431.5 390.3 430.4 386.7 429.3 383 428.2 384.9 426.4 388.6 427.5 392.2 428.6 395.9 429.7 399.6 430.8 403.2 431.8z"/><path color="#0000af" d="M383 428.2 379.3 427 375.7 425.9 372 424.7 373.9 422.9 377.5 424 381.2 425.2 384.9 426.4z"/><path color="#0000af" d="M516.8 486.9 513.2 484.8 509.5 482.7 505.8 480.6 502.2 478.5 504 476.6 507.7 478.8 511.4 480.9 515 483 518.7 485.1z"/><path color="#0000bf" d="M502.2 478.5 498.5 476.3 494.8 474.1 491.2 471.8 493 470 496.7 472.3 500.4 474.5 504 476.6z"/><path color="#0000cf" d="M491.2 471.8 487.5 469.5 483.8 467.2 485.7 465.3 489.4 467.7 493 470z"/><path color="#0000df" d="M483.8 467.2 480.2 464.7 482 462.9 485.7 465.3z"/><path color="#0000ef" d="M480.2 464.7 476.5 462.1 478.4 460.3 482 462.9z"/><path color="#0000ff" d="M476.5 462.1 472.8 459.4 474.7 457.5 478.4 460.3z"/><path color="#0020ff" d="M472.8 459.4 469.2 456.4 471 454.6 474.7 457.5z"/><path color="#0040ff" d="M469.2 456.4 467.3 454.7 469.2 452.9 471 454.6z"/><path color="#0050ff" d="M467.3 454.7 465.5 453.1 467.4 451.3 469.2 452.9z"/><path color="#0070ff" d="M465.5 453.1 464.3 451.8 466.1 450 467.4 451.3z"/><path color="#008fff" d="M464.3 451.8 463 450.5 464.9 448.7 466.1 450z"/><path color="#00afff" d="M463 450.5 461.8 449.2 463.7 447.4 464.9 448.7z"/><path color="#00bfff" d="M461.8 449.2 461.2 448.4 463.1 446.6 463.7 447.4z"/><path color="#00dfff" d="M461.2 448.4 460.6 447.6 462.5 445.8 463.1 446.6z"/><path color="#00ffff" d="M460.6 447.6 460 446.8 461.9 445 462.5 445.8z"/><path color="#20ffdf" d="M460 446.8 459.4 446 461.2 444.2 461.9 445z"/><path color="#40ffbf" d="M459.4 446 458.8 445.2 460.6 443.4 461.2 444.2z"/><path color="#60ff9f" d="M458.8 445.2 458.1 444.4 460 442.5 460.6 443.4z"/><path color="#80ff80" d="M458.1 444.4 457.9 443.9 459.8 442.1 460 442.5z"/><path color="#afff50" d="M457.9 443.9 457.7 443.5 459.5 441.7 459.8 442.1z"/><path color="#cfff30" d="M457.7 443.5 457.4 443 459.3 441.2 459.5 441.7z"/><path color="#efff10" d="M457.4 443 457.2 442.6 459 440.8 459.3 441.2z"/><path color="#ffef00" d="M457.2 442.6 456.9 442.2 458.8 440.4 459 440.8z"/><path color="#ffcf00" d="M456.9 442.2 456.7 441.7 458.6 439.9 458.8 440.4z"/><path color="#ffaf00" d="M456.7 441.7 456.4 441.3 458.3 439.5 458.6 439.9z"/><path color="#ff8000" d="M456.4 441.3 456.2 440.8 458.1 439 458.3 439.5z"/><path color="#ff6000" d="M456.2 440.8 455.9 440.4 457.8 438.6 458.1 439z"/><path color="#ff4000" d="M455.9 440.4 455.7 440 457.6 438.2 457.8 438.6z"/><path color="#ff2000" d="M455.7 440 455.5 439.5 457.3 437.7 457.6 438.2z"/><path color="#ff0000" d="M455.5 439.5 455.2 439.1 457.1 437.3 457.3 437.7z"/><path color="#cf0000" d="M455.2 439.1 455 438.6 456.8 436.8 457.1 437.3z"/><path color="#af0000" d="M455 438.6 454.7 438.2 456.6 436.4 456.8 436.8z"/><path color="#8f0000" d="M454.7 438.2 454.5 437.8 452.6 437.3 454.5 435.5 456.4 436 456.6 436.4z"/><path color="#af0000" d="M452.6 437.3 450.8 436.8 452.7 435 454.5 435.5z"/><path color="#cf0000" d="M450.8 436.8 450.6 437 452.4 435.2 452.7 435z"/><path color="#ef0000" d="M450.6 437 450.3 437.2 452.2 435.4 452.4 435.2z"/><path color="#ff1000" d="M450.3 437.2 450 437.5 451.9 435.7 452.2 435.4z"/><path color="#ff3000" d="M450 437.5 449.8 437.7 451.6 435.9 451.9 435.7z"/><path color="#ff5000" d="M449.8 437.7 449.5 438 451.4 436.1 451.6 435.9z"/><path color="#ff7000" d="M449.5 438 449.2 438.2 451.1 436.4 451.4 436.1z"/><path color="#ff8f00" d="M449.2 438.2 449 438.4 450.9 436.6 451.1 436.4z"/><path color="#ffbf00" d="M449 438.4 448.7 438.7 450.6 436.9 450.9 436.6z"/><path color="#ffdf00" d="M448.7 438.7 448.5 438.9 450.3 437.1 450.6 436.9z"/><path color="#ffff00" d="M448.5 438.9 448.2 439.2 450.1 437.3 450.3 437.1z"/><path color="#dfff20" d="M448.2 439.2 447.9 439.4 449.8 437.6 450.1 437.3z"/><path color="#bfff40" d="M447.9 439.4 447.7 439.6 449.5 437.8 449.8 437.6z"/><path color="#9fff60" d="M447.7 439.6 447.4 439.9 449.3 438.1 449.5 437.8z"/><path color="#80ff80" d="M447.4 439.9 447.1 440.1 449 438.3 449.3 438.1z"/><path color="#60ff9f" d="M447.1 440.1 446.4 440.4 448.3 438.6 449 438.3z"/><path color="#40ffbf" d="M446.4 440.4 445.7 440.8 447.6 438.9 448.3 438.6z"/><path color="#10ffef" d="M445.7 440.8 444.9 441.1 446.8 439.3 447.6 438.9z"/><path color="#00efff" d="M444.9 441.1 444.2 441.4 446.1 439.6 446.8 439.3z"/><path color="#00cfff" d="M444.2 441.4 443.5 441.7 445.4 439.9 446.1 439.6z"/><path color="#00afff" d="M443.5 441.7 442.3 442 444.1 440.2 445.4 439.9z"/><path color="#008fff" d="M442.3 442 441 442.2 442.9 440.4 444.1 440.2z"/><path color="#0080ff" d="M441 442.2 439.8 442.4 441.7 440.6 442.9 440.4z"/><path color="#0060ff" d="M439.8 442.4 438 442.5 439.9 440.7 441.7 440.6z"/><path color="#0050ff" d="M438 442.5 436.1 442.6 438 440.8 439.9 440.7z"/><path color="#0030ff" d="M436.1 442.6 432.5 442.4 434.4 440.6 438 440.8z"/><path color="#0010ff" d="M432.5 442.4 428.8 442.1 430.7 440.2 434.4 440.6z"/><path color="#0000ff" d="M428.8 442.1 425.1 441.5 427 439.7 430.7 440.2z"/><path color="#0000ef" d="M425.1 441.5 421.5 440.9 417.8 440.1 419.7 438.3 423.3 439 427 439.7z"/><path color="#0000df" d="M417.8 440.1 414.1 439.3 410.5 438.4 412.3 436.6 416 437.5 419.7 438.3z"/><path color="#0000cf" d="M410.5 438.4 406.8 437.5 403.1 436.5 399.5 435.5 401.3 433.7 405 434.7 408.7 435.6 412.3 436.6z"/><path color="#0000bf" d="M399.5 435.5 395.8 434.4 392.1 433.4 388.5 432.3 384.8 431.1 381.1 430 383 428.2 386.7 429.3 390.3 430.4 394 431.5 397.7 432.6 401.3 433.7z"/><path color="#0000af" d="M381.1 430 377.5 428.9 373.8 427.7 370.1 426.5 372 424.7 375.7 425.9 379.3 427 383 428.2z"/><path color="#0000af" d="M515 488.7 511.3 486.6 507.6 484.5 503.9 482.4 500.3 480.3 502.2 478.5 505.8 480.6 509.5 482.7 513.2 484.8 516.8 486.9z"/><path color="#0000bf" d="M500.3 480.3 496.6 478.1 492.9 475.9 489.3 473.7 491.2 471.8 494.8 474.1 498.5 476.3 502.2 478.5z"/><path color="#0000cf" d="M489.3 473.7 485.6 471.3 481.9 469 483.8 467.2 487.5 469.5 491.2 471.8z"/><path color="#0000df" d="M481.9 469 478.3 466.5 480.2 464.7 483.8 467.2z"/><path color="#0000ef" d="M478.3 466.5 474.6 463.9 476.5 462.1 480.2 464.7z"/><path color="#0000ff" d="M474.6 463.9 470.9 461.2 472.8 459.4 476.5 462.1z"/><path color="#0020ff" d="M470.9 461.2 467.3 458.2 469.2 456.4 472.8 459.4z"/><path color="#0040ff" d="M467.3 458.2 465.4 456.6 467.3 454.7 469.2 456.4z"/><path color="#0050ff" d="M465.4 456.6 463.6 454.9 465.5 453.1 467.3 454.7z"/><path color="#0070ff" d="M463.6 454.9 462.4 453.6 464.3 451.8 465.5 453.1z"/><path color="#008fff" d="M462.4 453.6 461.2 452.3 463 450.5 464.3 451.8z"/><path color="#00afff" d="M461.2 452.3 459.9 451 461.8 449.2 463 450.5z"/><path color="#00bfff" d="M459.9 451 459.3 450.2 461.2 448.4 461.8 449.2z"/><path color="#00dfff" d="M459.3 450.2 458.7 449.4 460.6 447.6 461.2 448.4z"/><path color="#00ffff" d="M458.7 449.4 458.1 448.6 460 446.8 460.6 447.6z"/><path color="#20ffdf" d="M458.1 448.6 457.5 447.8 459.4 446 460 446.8z"/><path color="#40ffbf" d="M457.5 447.8 456.9 447 458.8 445.2 459.4 446z"/><path color="#60ff9f" d="M456.9 447 456.3 446.2 458.1 444.4 458.8 445.2z"/><path color="#80ff80" d="M456.3 446.2 456 445.7 457.9 443.9 458.1 444.4z"/><path color="#afff50" d="M456 445.7 455.8 445.3 457.7 443.5 457.9 443.9z"/><path color="#cfff30" d="M455.8 445.3 455.5 444.9 457.4 443 457.7 443.5z"/><path color="#efff10" d="M455.5 444.9 455.3 444.4 457.2 442.6 457.4 443z"/><path color="#ffef00" d="M455.3 444.4 455 444 456.9 442.2 457.2 442.6z"/><path color="#ffcf00" d="M455 444 454.8 443.5 456.7 441.7 456.9 442.2z"/><path color="#ff9f00" d="M454.8 443.5 454.6 443.1 456.4 441.3 456.7 441.7z"/><path color="#ff8000" d="M454.6 443.1 454.3 442.6 456.2 440.8 456.4 441.3z"/><path color="#ff6000" d="M454.3 442.6 454.1 442.2 455.9 440.4 456.2 440.8z"/><path color="#ff4000" d="M454.1 442.2 453.8 441.8 455.7 440 455.9 440.4z"/><path color="#ff2000" d="M453.8 441.8 453.6 441.3 455.5 439.5 455.7 440z"/><path color="#ef0000" d="M453.6 441.3 453.3 440.9 455.2 439.1 455.5 439.5z"/><path color="#cf0000" d="M453.3 440.9 453.1 440.4 455 438.6 455.2 439.1z"/><path color="#af0000" d="M453.1 440.4 452.8 440 454.7 438.2 455 438.6z"/><path color="#8f0000" d="M452.8 440 452.6 439.6 450.8 439.1 452.6 437.3 454.5 437.8 454.7 438.2z"/><path color="#af0000" d="M450.8 439.1 448.9 438.6 450.8 436.8 452.6 437.3z"/><path color="#cf0000" d="M448.9 438.6 448.7 438.8 450.6 437 450.8 436.8z"/><path color="#ef0000" d="M448.7 438.8 448.4 439 450.3 437.2 450.6 437z"/><path color="#ff1000" d="M448.4 439 448.2 439.3 450 437.5 450.3 437.2z"/><path color="#ff3000" d="M448.2 439.3 447.9 439.5 449.8 437.7 450 437.5z"/><path color="#ff5000" d="M447.9 439.5 447.6 439.8 449.5 438 449.8 437.7z"/><path color="#ff7000" d="M447.6 439.8 447.4 440 449.2 438.2 449.5 438z"/><path color="#ff8f00" d="M447.4 440 447.1 440.2 449 438.4 449.2 438.2z"/><path color="#ffaf00" d="M447.1 440.2 446.8 440.5 448.7 438.7 449 438.4z"/><path color="#ffdf00" d="M446.8 440.5 446.6 440.7 448.5 438.9 448.7 438.7z"/><path color="#ffff00" d="M446.6 440.7 446.3 441 448.2 439.2 448.5 438.9z"/><path color="#dfff20" d="M446.3 441 446.1 441.2 447.9 439.4 448.2 439.2z"/><path color="#bfff40" d="M446.1 441.2 445.8 441.4 447.7 439.6 447.9 439.4z"/><path color="#9fff60" d="M445.8 441.4 445.5 441.7 447.4 439.9 447.7 439.6z"/><path color="#80ff80" d="M445.5 441.7 445.3 441.9 447.1 440.1 447.4 439.9z"/><path color="#60ff9f" d="M445.3 441.9 444.5 442.3 446.4 440.4 447.1 440.1z"/><path color="#40ffbf" d="M444.5 442.3 443.8 442.6 445.7 440.8 446.4 440.4z"/><path color="#10ffef" d="M443.8 442.6 443.1 442.9 444.9 441.1 445.7 440.8z"/><path color="#00efff" d="M443.1 442.9 442.3 443.2 444.2 441.4 444.9 441.1z"/><path color="#00cfff" d="M442.3 443.2 441.6 443.6 443.5 441.7 444.2 441.4z"/><path color="#00afff" d="M441.6 443.6 440.4 443.8 442.3 442 443.5 441.7z"/><path color="#008fff" d="M440.4 443.8 439.2 444 441 442.2 442.3 442z"/><path color="#0080ff" d="M439.2 444 437.9 444.3 439.8 442.4 441 442.2z"/><path color="#0060ff" d="M437.9 444.3 436.1 444.3 438 442.5 439.8 442.4z"/><path color="#0050ff" d="M436.1 444.3 434.3 444.4 436.1 442.6 438 442.5z"/><path color="#0030ff" d="M434.3 444.4 430.6 444.3 432.5 442.4 436.1 442.6z"/><path color="#0010ff" d="M430.6 444.3 426.9 443.9 428.8 442.1 432.5 442.4z"/><path color="#0000ff" d="M426.9 443.9 423.3 443.3 425.1 441.5 428.8 442.1z"/><path color="#0000ef" d="M423.3 443.3 419.6 442.7 415.9 441.9 417.8 440.1 421.5 440.9 425.1 441.5z"/><path color="#0000df" d="M415.9 441.9 412.3 441.1 408.6 440.2 410.5 438.4 414.1 439.3 417.8 440.1z"/><path color="#0000cf" d="M408.6 440.2 404.9 439.3 401.3 438.3 397.6 437.3 399.5 435.5 403.1 436.5 406.8 437.5 410.5 438.4z"/><path color="#0000bf" d="M397.6 437.3 393.9 436.2 390.3 435.2 386.6 434.1 382.9 433 379.3 431.8 381.1 430 384.8 431.1 388.5 432.3 392.1 433.4 395.8 434.4 399.5 435.5z"/><path color="#0000af" d="M379.3 431.8 375.6 430.7 371.9 429.5 368.3 428.3 370.1 426.5 373.8 427.7 377.5 428.9 381.1 430z"/><path color="#0000af" d="M513.1 490.5 509.4 488.5 505.7 486.4 502.1 484.2 498.4 482.1 500.3 480.3 503.9 482.4 507.6 484.5 511.3 486.6 515 488.7z"/><path color="#0000bf" d="M498.4 482.1 494.7 479.9 491.1 477.7 487.4 475.5 489.3 473.7 492.9 475.9 496.6 478.1 500.3 480.3z"/><path color="#0000cf" d="M487.4 475.5 483.7 473.2 480.1 470.8 481.9 469 485.6 471.3 489.3 473.7z"/><path color="#0000df" d="M480.1 470.8 476.4 468.3 478.3 466.5 481.9 469z"/><path color="#0000ef" d="M476.4 468.3 472.7 465.7 474.6 463.9 478.3 466.5z"/><path color="#0000ff" d="M472.7 465.7 469.1 463 470.9 461.2 474.6 463.9z"/><path color="#0020ff" d="M469.1 463 465.4 460 467.3 458.2 470.9 461.2z"/><path color="#0040ff" d="M465.4 460 463.6 458.4 465.4 456.6 467.3 458.2z"/><path color="#0050ff" d="M463.6 458.4 461.7 456.7 463.6 454.9 465.4 456.6z"/><path color="#0070ff" d="M461.7 456.7 460.5 455.4 462.4 453.6 463.6 454.9z"/><path color="#008fff" d="M460.5 455.4 459.3 454.1 461.2 452.3 462.4 453.6z"/><path color="#00afff" d="M459.3 454.1 458.1 452.9 459.9 451 461.2 452.3z"/><path color="#00bfff" d="M458.1 452.9 457.5 452.1 459.3 450.2 459.9 451z"/><path color="#00dfff" d="M457.5 452.1 456.8 451.2 458.7 449.4 459.3 450.2z"/><path color="#00ffff" d="M456.8 451.2 456.2 450.4 458.1 448.6 458.7 449.4z"/><path color="#20ffdf" d="M456.2 450.4 455.6 449.6 457.5 447.8 458.1 448.6z"/><path color="#40ffbf" d="M455.6 449.6 455 448.8 456.9 447 457.5 447.8z"/><path color="#60ff9f" d="M455 448.8 454.4 448 456.3 446.2 456.9 447z"/><path color="#80ff80" d="M454.4 448 454.2 447.6 456 445.7 456.3 446.2z"/><path color="#afff50" d="M454.2 447.6 453.9 447.1 455.8 445.3 456 445.7z"/><path color="#cfff30" d="M453.9 447.1 453.7 446.7 455.5 444.9 455.8 445.3z"/><path color="#efff10" d="M453.7 446.7 453.4 446.2 455.3 444.4 455.5 444.9z"/><path color="#ffef00" d="M453.4 446.2 453.2 445.8 455 444 455.3 444.4z"/><path color="#ffcf00" d="M453.2 445.8 452.9 445.3 454.8 443.5 455 444z"/><path color="#ff9f00" d="M452.9 445.3 452.7 444.9 454.6 443.1 454.8 443.5z"/><path color="#ff8000" d="M452.7 444.9 452.4 444.5 454.3 442.6 454.6 443.1z"/><path color="#ff6000" d="M452.4 444.5 452.2 444 454.1 442.2 454.3 442.6z"/><path color="#ff4000" d="M452.2 444 452 443.6 453.8 441.8 454.1 442.2z"/><path color="#ff2000" d="M452 443.6 451.7 443.1 453.6 441.3 453.8 441.8z"/><path color="#ef0000" d="M451.7 443.1 451.5 442.7 453.3 440.9 453.6 441.3z"/><path color="#cf0000" d="M451.5 442.7 451.2 442.2 453.1 440.4 453.3 440.9z"/><path color="#af0000" d="M451.2 442.2 451 441.8 452.8 440 453.1 440.4z"/><path color="#8f0000" d="M451 441.8 450.7 441.4 448.9 440.9 450.8 439.1 452.6 439.6 452.8 440z"/><path color="#af0000" d="M448.9 440.9 447.1 440.4 448.9 438.6 450.8 439.1z"/><path color="#cf0000" d="M447.1 440.4 446.8 440.6 448.7 438.8 448.9 438.6z"/><path color="#ef0000" d="M446.8 440.6 446.5 440.8 448.4 439 448.7 438.8z"/><path color="#ff1000" d="M446.5 440.8 446.3 441.1 448.2 439.3 448.4 439z"/><path color="#ff3000" d="M446.3 441.1 446 441.3 447.9 439.5 448.2 439.3z"/><path color="#ff5000" d="M446 441.3 445.8 441.6 447.6 439.8 447.9 439.5z"/><path color="#ff7000" d="M445.8 441.6 445.5 441.8 447.4 440 447.6 439.8z"/><path color="#ff8f00" d="M445.5 441.8 445.2 442.1 447.1 440.2 447.4 440z"/><path color="#ffaf00" d="M445.2 442.1 445 442.3 446.8 440.5 447.1 440.2z"/><path color="#ffdf00" d="M445 442.3 444.7 442.5 446.6 440.7 446.8 440.5z"/><path color="#ffff00" d="M444.7 442.5 444.4 442.8 446.3 441 446.6 440.7z"/><path color="#dfff20" d="M444.4 442.8 444.2 443 446.1 441.2 446.3 441z"/><path color="#bfff40" d="M444.2 443 443.9 443.3 445.8 441.4 446.1 441.2z"/><path color="#9fff60" d="M443.9 443.3 443.7 443.5 445.5 441.7 445.8 441.4z"/><path color="#80ff80" d="M443.7 443.5 443.4 443.7 445.3 441.9 445.5 441.7z"/><path color="#60ff9f" d="M443.4 443.7 442.7 444.1 444.5 442.3 445.3 441.9z"/><path color="#40ffbf" d="M442.7 444.1 441.9 444.4 443.8 442.6 444.5 442.3z"/><path color="#10ffef" d="M441.9 444.4 441.2 444.7 443.1 442.9 443.8 442.6z"/><path color="#00efff" d="M441.2 444.7 440.5 445.1 442.3 443.2 443.1 442.9z"/><path color="#00cfff" d="M440.5 445.1 439.7 445.4 441.6 443.6 442.3 443.2z"/><path color="#00afff" d="M439.7 445.4 438.5 445.6 440.4 443.8 441.6 443.6z"/><path color="#008fff" d="M438.5 445.6 437.3 445.8 439.2 444 440.4 443.8z"/><path color="#0080ff" d="M437.3 445.8 436.1 446.1 437.9 444.3 439.2 444z"/><path color="#0060ff" d="M436.1 446.1 434.2 446.2 436.1 444.3 437.9 444.3z"/><path color="#0050ff" d="M434.2 446.2 432.4 446.2 434.3 444.4 436.1 444.3z"/><path color="#0030ff" d="M432.4 446.2 428.7 446.1 430.6 444.3 434.3 444.4z"/><path color="#0010ff" d="M428.7 446.1 425.1 445.7 426.9 443.9 430.6 444.3z"/><path color="#0000ff" d="M425.1 445.7 421.4 445.2 423.3 443.3 426.9 443.9z"/><path color="#0000ef" d="M421.4 445.2 417.7 444.5 414.1 443.8 415.9 441.9 419.6 442.7 423.3 443.3z"/><path color="#0000df" d="M414.1 443.8 410.4 442.9 406.7 442 408.6 440.2 412.3 441.1 415.9 441.9z"/><path color="#0000cf" d="M406.7 442 403.1 441.1 399.4 440.1 395.7 439.1 397.6 437.3 401.3 438.3 404.9 439.3 408.6 440.2z"/><path color="#0000bf" d="M395.7 439.1 392 438.1 388.4 437 384.7 435.9 381 434.8 377.4 433.6 379.3 431.8 382.9 433 386.6 434.1 390.3 435.2 393.9 436.2 397.6 437.3z"/><path color="#0000af" d="M377.4 433.6 373.7 432.5 370 431.3 366.4 430.1 368.3 428.3 371.9 429.5 375.6 430.7 379.3 431.8z"/><path color="#0000af" d="M511.2 492.4 507.5 490.3 503.9 488.2 500.2 486.1 496.5 483.9 498.4 482.1 502.1 484.2 505.7 486.4 509.4 488.5 513.1 490.5z"/><path color="#0000bf" d="M496.5 483.9 492.9 481.7 489.2 479.5 485.5 477.3 487.4 475.5 491.1 477.7 494.7 479.9 498.4 482.1z"/><path color="#0000cf" d="M485.5 477.3 481.9 475 478.2 472.6 480.1 470.8 483.7 473.2 487.4 475.5z"/><path color="#0000df" d="M478.2 472.6 474.5 470.1 476.4 468.3 480.1 470.8z"/><path color="#0000ef" d="M474.5 470.1 470.9 467.6 472.7 465.7 476.4 468.3z"/><path color="#0000ff" d="M470.9 467.6 467.2 464.8 469.1 463 472.7 465.7z"/><path color="#0020ff" d="M467.2 464.8 463.5 461.8 465.4 460 469.1 463z"/><path color="#0040ff" d="M463.5 461.8 461.7 460.2 463.6 458.4 465.4 460z"/><path color="#0050ff" d="M461.7 460.2 459.9 458.5 461.7 456.7 463.6 458.4z"/><path color="#0070ff" d="M459.9 458.5 458.6 457.3 460.5 455.4 461.7 456.7z"/><path color="#008fff" d="M458.6 457.3 457.4 456 459.3 454.1 460.5 455.4z"/><path color="#00afff" d="M457.4 456 456.2 454.7 458.1 452.9 459.3 454.1z"/><path color="#00bfff" d="M456.2 454.7 455.6 453.9 457.5 452.1 458.1 452.9z"/><path color="#00dfff" d="M455.6 453.9 455 453.1 456.8 451.2 457.5 452.1z"/><path color="#00ffff" d="M455 453.1 454.4 452.2 456.2 450.4 456.8 451.2z"/><path color="#20ffdf" d="M454.4 452.2 453.7 451.4 455.6 449.6 456.2 450.4z"/><path color="#40ffbf" d="M453.7 451.4 453.1 450.6 455 448.8 455.6 449.6z"/><path color="#60ff9f" d="M453.1 450.6 452.5 449.8 454.4 448 455 448.8z"/><path color="#80ff80" d="M452.5 449.8 452.3 449.4 454.2 447.6 454.4 448z"/><path color="#afff50" d="M452.3 449.4 452 448.9 453.9 447.1 454.2 447.6z"/><path color="#cfff30" d="M452 448.9 451.8 448.5 453.7 446.7 453.9 447.1z"/><path color="#efff10" d="M451.8 448.5 451.5 448 453.4 446.2 453.7 446.7z"/><path color="#ffef00" d="M451.5 448 451.3 447.6 453.2 445.8 453.4 446.2z"/><path color="#ffbf00" d="M451.3 447.6 451.1 447.2 452.9 445.3 453.2 445.8z"/><path color="#ff9f00" d="M451.1 447.2 450.8 446.7 452.7 444.9 452.9 445.3z"/><path color="#ff8000" d="M450.8 446.7 450.6 446.3 452.4 444.5 452.7 444.9z"/><path color="#ff6000" d="M450.6 446.3 450.3 445.8 452.2 444 452.4 444.5z"/><path color="#ff4000" d="M450.3 445.8 450.1 445.4 452 443.6 452.2 444z"/><path color="#ff1000" d="M450.1 445.4 449.8 444.9 451.7 443.1 452 443.6z"/><path color="#ef0000" d="M449.8 444.9 449.6 444.5 451.5 442.7 451.7 443.1z"/><path color="#cf0000" d="M449.6 444.5 449.3 444.1 451.2 442.2 451.5 442.7z"/><path color="#af0000" d="M449.3 444.1 449.1 443.6 451 441.8 451.2 442.2z"/><path color="#8f0000" d="M449.1 443.6 448.9 443.2 447 442.7 448.9 440.9 450.7 441.4 451 441.8z"/><path color="#9f0000" d="M447 442.7 445.2 442.2 447.1 440.4 448.9 440.9z"/><path color="#cf0000" d="M445.2 442.2 444.9 442.4 446.8 440.6 447.1 440.4z"/><path color="#ef0000" d="M444.9 442.4 444.7 442.7 446.5 440.8 446.8 440.6z"/><path color="#ff1000" d="M444.7 442.7 444.4 442.9 446.3 441.1 446.5 440.8z"/><path color="#ff3000" d="M444.4 442.9 444.1 443.1 446 441.3 446.3 441.1z"/><path color="#ff5000" d="M444.1 443.1 443.9 443.4 445.8 441.6 446 441.3z"/><path color="#ff7000" d="M443.9 443.4 443.6 443.6 445.5 441.8 445.8 441.6z"/><path color="#ff8f00" d="M443.6 443.6 443.4 443.9 445.2 442.1 445.5 441.8z"/><path color="#ffaf00" d="M443.4 443.9 443.1 444.1 445 442.3 445.2 442.1z"/><path color="#ffcf00" d="M443.1 444.1 442.8 444.4 444.7 442.5 445 442.3z"/><path color="#ffff00" d="M442.8 444.4 442.6 444.6 444.4 442.8 444.7 442.5z"/><path color="#dfff20" d="M442.6 444.6 442.3 444.8 444.2 443 444.4 442.8z"/><path color="#bfff40" d="M442.3 444.8 442 445.1 443.9 443.3 444.2 443z"/><path color="#9fff60" d="M442 445.1 441.8 445.3 443.7 443.5 443.9 443.3z"/><path color="#80ff80" d="M441.8 445.3 441.5 445.6 443.4 443.7 443.7 443.5z"/><path color="#60ff9f" d="M441.5 445.6 440.8 445.9 442.7 444.1 443.4 443.7z"/><path color="#40ffbf" d="M440.8 445.9 440.1 446.2 441.9 444.4 442.7 444.1z"/><path color="#10ffef" d="M440.1 446.2 439.3 446.5 441.2 444.7 441.9 444.4z"/><path color="#00efff" d="M439.3 446.5 438.6 446.9 440.5 445.1 441.2 444.7z"/><path color="#00cfff" d="M438.6 446.9 437.8 447.2 439.7 445.4 440.5 445.1z"/><path color="#00afff" d="M437.8 447.2 436.6 447.4 438.5 445.6 439.7 445.4z"/><path color="#008fff" d="M436.6 447.4 435.4 447.7 437.3 445.8 438.5 445.6z"/><path color="#0080ff" d="M435.4 447.7 434.2 447.9 436.1 446.1 437.3 445.8z"/><path color="#0060ff" d="M434.2 447.9 432.3 448 434.2 446.2 436.1 446.1z"/><path color="#0050ff" d="M432.3 448 430.5 448.1 432.4 446.2 434.2 446.2z"/><path color="#0030ff" d="M430.5 448.1 426.8 447.9 428.7 446.1 432.4 446.2z"/><path color="#0010ff" d="M426.8 447.9 423.2 447.5 425.1 445.7 428.7 446.1z"/><path color="#0000ff" d="M423.2 447.5 419.5 447 421.4 445.2 425.1 445.7z"/><path color="#0000ef" d="M419.5 447 415.8 446.3 412.2 445.6 414.1 443.8 417.7 444.5 421.4 445.2z"/><path color="#0000df" d="M412.2 445.6 408.5 444.7 404.8 443.9 406.7 442 410.4 442.9 414.1 443.8z"/><path color="#0000cf" d="M404.8 443.9 401.2 442.9 397.5 441.9 393.8 440.9 395.7 439.1 399.4 440.1 403.1 441.1 406.7 442z"/><path color="#0000bf" d="M393.8 440.9 390.2 439.9 386.5 438.8 382.8 437.7 379.2 436.6 375.5 435.5 377.4 433.6 381 434.8 384.7 435.9 388.4 437 392 438.1 395.7 439.1z"/><path color="#0000af" d="M375.5 435.5 371.8 434.3 368.2 433.1 364.5 432 366.4 430.1 370 431.3 373.7 432.5 377.4 433.6z"/></g>
<path d="M364.5 474.2L364.5 377.3M364.5 474.2L511.2 532.4M511.2 532.4L605.0 441.4M364.5 474.2l-4.5 -1.7M364.5 441.9l-4.5 -1.7M364.5 409.6l-4.5 -1.7M364.5 377.3l-4.5 -1.7M364.5 474.2l-3.2 3.1M401.2 488.8l-3.2 3.1M437.9 503.3l-3.2 3.1M474.5 517.9l-3.2 3.1M511.2 532.4l-3.2 3.1M511.2 532.4l4.5 1.7M516.8 526.9l2.2 0.8M520.2 523.7l2.2 0.8M522.5 521.4l2.2 0.8M524.3 519.7l2.2 0.8M525.8 518.2l2.2 0.8M527.1 517.0l2.2 0.8M528.1 516.0l2.2 0.8M529.1 515.0l2.2 0.8M530.0 514.2l4.5 1.7M535.6 508.7l2.2 0.8M538.9 505.5l2.2 0.8M541.3 503.2l2.2 0.8M543.1 501.5l2.2 0.8M544.6 500.0l2.2 0.8M545.8 498.8l2.2 0.8M546.9 497.8l2.2 0.8M547.9 496.8l2.2 0.8M548.7 496.0l4.5 1.7M554.4 490.5l2.2 0.8M557.7 487.3l2.2 0.8M560.0 485.0l2.2 0.8M561.8 483.3l2.2 0.8M563.3 481.8l2.2 0.8M564.6 480.6l2.2 0.8M565.7 479.6l2.2 0.8M566.6 478.6l2.2 0.8M567.5 477.8l4.5 1.7M573.1 472.3l2.2 0.8M576.4 469.1l2.2 0.8M578.8 466.8l2.2 0.8M580.6 465.1l2.2 0.8M582.1 463.6l2.2 0.8M583.3 462.4l2.2 0.8M584.4 461.4l2.2 0.8M585.4 460.4l2.2 0.8M586.2 459.6l4.5 1.7M591.9 454.1l2.2 0.8M595.2 450.9l2.2 0.8M597.5 448.6l2.2 0.8M599.4 446.9l2.2 0.8M600.8 445.4l2.2 0.8M602.1 444.2l2.2 0.8M603.2 443.2l2.2 0.8M604.1 442.2l2.2 0.8M605.0 441.4l4.5 1.7" stroke="#555" stroke-width="0.9" fill="none"/>
<text x="349.51" y="379.40" font-family="Liberation Sans, sans-serif" font-size="10.9" textLength="7.14" lengthAdjust="spacingAndGlyphs" fill="#222" stroke="#222" stroke-width="0.2">10</text>
<text x="356.39" y="372.40" font-family="Liberation Sans, sans-serif" font-size="5.8" textLength="4.25" lengthAdjust="spacingAndGlyphs" fill="#222" stroke="#222" stroke-width="0.15">-2</text>
<text x="349.51" y="411.70" font-family="Liberation Sans, sans-serif" font-size="10.9" textLength="7.14" lengthAdjust="spacingAndGlyphs" fill="#222" stroke="#222" stroke-width="0.2">10</text>
<text x="356.39" y="404.70" font-family="Liberation Sans, sans-serif" font-size="5.8" textLength="4.14" lengthAdjust="spacingAndGlyphs" fill="#222" stroke="#222" stroke-width="0.15">-4</text>
<text x="349.51" y="444.00" font-family="Liberation Sans, sans-serif" font-size="10.9" textLength="7.14" lengthAdjust="spacingAndGlyphs" fill="#222" stroke="#222" stroke-width="0.2">10</text>
<text x="356.39" y="437.00" font-family="Liberation Sans, sans-serif" font-size="5.8" textLength="4.22" lengthAdjust="spacingAndGlyphs" fill="#222" stroke="#222" stroke-width="0.15">-6</text>
<text x="349.51" y="476.30" font-family="Liberation Sans, sans-serif" font-size="10.9" textLength="7.14" lengthAdjust="spacingAndGlyphs" fill="#222" stroke="#222" stroke-width="0.2">10</text>
<text x="356.39" y="469.30" font-family="Liberation Sans, sans-serif" font-size="5.8" textLength="4.22" lengthAdjust="spacingAndGlyphs" fill="#222" stroke="#222" stroke-width="0.15">-8</text>
<text x="353.64" y="487.40" font-family="Liberation Sans, sans-serif" font-size="11.2" textLength="7.52" lengthAdjust="spacingAndGlyphs" fill="#222" stroke="#222" stroke-width="0.2">30</text>
<text x="390.25" y="502.00" font-family="Liberation Sans, sans-serif" font-size="11.2" textLength="7.63" lengthAdjust="spacingAndGlyphs" fill="#222" stroke="#222" stroke-width="0.2">25</text>
<text x="426.96" y="516.60" font-family="Liberation Sans, sans-serif" font-size="11.2" textLength="7.61" lengthAdjust="spacingAndGlyphs" fill="#222" stroke="#222" stroke-width="0.2">20</text>
<text x="463.46" y="531.20" font-family="Liberation Sans, sans-serif" font-size="11.2" textLength="7.83" lengthAdjust="spacingAndGlyphs" fill="#222" stroke="#222" stroke-width="0.2">15</text>
<text x="500.17" y="545.80" font-family="Liberation Sans, sans-serif" font-size="11.2" textLength="7.81" lengthAdjust="spacingAndGlyphs" fill="#222" stroke="#222" stroke-width="0.2">10</text>
<text x="515.82" y="543.30" font-family="Liberation Sans, sans-serif" font-size="9.7" textLength="10.52" lengthAdjust="spacingAndGlyphs" fill="#222" stroke="#222" stroke-width="0.2">100</text>
<text x="534.55" y="525.10" font-family="Liberation Sans, sans-serif" font-size="9.7" textLength="13.84" lengthAdjust="spacingAndGlyphs" fill="#222" stroke="#222" stroke-width="0.2">1000</text>
<text x="553.27" y="506.90" font-family="Liberation Sans, sans-serif" font-size="9.7" textLength="17.16" lengthAdjust="spacingAndGlyphs" fill="#222" stroke="#222" stroke-width="0.2">10000</text>
<text x="571.99" y="488.70" font-family="Liberation Sans, sans-serif" font-size="9.7" textLength="20.49" lengthAdjust="spacingAndGlyphs" fill="#222" stroke="#222" stroke-width="0.2">100000</text>
<text x="590.71" y="470.50" font-family="Liberation Sans, sans-serif" font-size="9.7" textLength="23.81" lengthAdjust="spacingAndGlyphs" fill="#222" stroke="#222" stroke-width="0.2">1000000</text>
<text x="609.44" y="452.30" font-family="Liberation Sans, sans-serif" font-size="9.7" textLength="27.14" lengthAdjust="spacingAndGlyphs" fill="#222" stroke="#222" stroke-width="0.2">10000000</text>
<text x="391.27" y="535.80" font-family="Liberation Sans, sans-serif" font-size="13.3" textLength="61.38" lengthAdjust="spacingAndGlyphs" fill="#222" stroke="#222" stroke-width="0.25">Frequency (Hz)</text>
<text x="540.17" y="540.30" font-family="Liberation Sans, sans-serif" font-size="12.8" textLength="98.48" lengthAdjust="spacingAndGlyphs" fill="#222" stroke="#222" stroke-width="0.25">Load Resistance (Ohms)</text>
<g transform="translate(343.30,526.70) rotate(-90) scale(1.0372,0.6784)"><text x="-1.15" y="0" font-family="Liberation Sans, sans-serif" stroke="#222" stroke-width="0.25" font-size="14" fill="#222">Electrical Current FRF (A/m.s<tspan font-size="9.5" dy="-5.2">-2</tspan><tspan font-size="14" dy="5.2">)</tspan></text></g>
<text x="365.98" y="316.60" font-family="Liberation Serif, serif" font-weight="bold" font-size="14" textLength="15.64" lengthAdjust="spacingAndGlyphs" fill="#000">(c)</text><!--/PANELC-->
</svg>
</body></html>
